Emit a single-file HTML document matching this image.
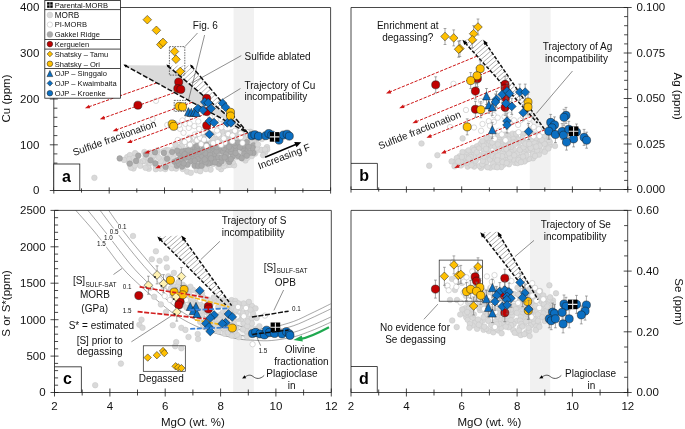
<!DOCTYPE html>
<html><head><meta charset="utf-8"><title>Figure</title>
<style>html,body{margin:0;padding:0;background:#fff}svg{display:block;font-family:"Liberation Sans",sans-serif}</style>
</head><body>
<svg width="685" height="429" viewBox="0 0 685 429">
<defs>
</defs>
<rect width="685" height="429" fill="#fff"/>
<g opacity="0.999">
<rect x="233.6" y="7.5" width="20.4" height="183" fill="#f1f1f1"/>
<path d="M124.6 65.2L167.3 65.4L247.8 132.9Z" fill="#dadada"/>
<clipPath id="hc1"><path d="M167.3 65.4L190.9 65.4L247.8 132.9Z"/></clipPath>
<path d="M113.7 110.5L230.7 1.4M116.2 113.2L233.2 4M118.6 115.8L235.6 6.7M121.1 118.4L238.1 9.3M123.5 121.1L240.6 11.9M126 123.7L243 14.6M128.5 126.3L245.5 17.2M130.9 129L247.9 19.8M133.4 131.6L250.4 22.5M135.8 134.2L252.8 25.1M138.3 136.9L255.3 27.7M140.7 139.5L257.7 30.4M143.2 142.1L260.2 33M145.6 144.8L262.7 35.6M148.1 147.4L265.1 38.3M150.6 150L267.6 40.9M153 152.7L270 43.5M155.5 155.3L272.5 46.2M157.9 157.9L274.9 48.8M160.4 160.6L277.4 51.4M162.8 163.2L279.8 54.1M165.3 165.8L282.3 56.7M167.7 168.5L284.8 59.3M170.2 171.1L287.2 62M172.6 173.7L289.7 64.6M175.1 176.4L292.1 67.2M177.6 179L294.6 69.9M180 181.6L297 72.5M182.5 184.3L299.5 75.1M184.9 186.9L301.9 77.8" stroke="#a2a2a2" stroke-width="0.8" fill="none" clip-path="url(#hc1)"/>
<circle cx="185.7" cy="154.1" r="2.8" fill="#d9d9d9" stroke="#c7c7c7" stroke-width="0.5"/>
<circle cx="258.3" cy="150" r="2.8" fill="#d9d9d9" stroke="#c7c7c7" stroke-width="0.5"/>
<circle cx="194.2" cy="155.3" r="2.8" fill="#d9d9d9" stroke="#c7c7c7" stroke-width="0.5"/>
<circle cx="144.4" cy="152" r="2.8" fill="#d9d9d9" stroke="#c7c7c7" stroke-width="0.5"/>
<circle cx="213" cy="164.1" r="2.8" fill="#d9d9d9" stroke="#c7c7c7" stroke-width="0.5"/>
<circle cx="130" cy="164.8" r="2.8" fill="#d9d9d9" stroke="#c7c7c7" stroke-width="0.5"/>
<circle cx="222.8" cy="131.8" r="2.8" fill="#d9d9d9" stroke="#c7c7c7" stroke-width="0.5"/>
<circle cx="216.7" cy="156.5" r="2.8" fill="#d9d9d9" stroke="#c7c7c7" stroke-width="0.5"/>
<circle cx="183.8" cy="166.2" r="2.8" fill="#d9d9d9" stroke="#c7c7c7" stroke-width="0.5"/>
<circle cx="195.9" cy="157.5" r="2.8" fill="#d9d9d9" stroke="#c7c7c7" stroke-width="0.5"/>
<circle cx="193" cy="158.5" r="2.8" fill="#d9d9d9" stroke="#c7c7c7" stroke-width="0.5"/>
<circle cx="186.4" cy="142" r="2.8" fill="#d9d9d9" stroke="#c7c7c7" stroke-width="0.5"/>
<circle cx="245.4" cy="160.4" r="2.8" fill="#d9d9d9" stroke="#c7c7c7" stroke-width="0.5"/>
<circle cx="234" cy="147.2" r="2.8" fill="#d9d9d9" stroke="#c7c7c7" stroke-width="0.5"/>
<circle cx="246.4" cy="146.6" r="2.8" fill="#d9d9d9" stroke="#c7c7c7" stroke-width="0.5"/>
<circle cx="267" cy="147.1" r="2.8" fill="#d9d9d9" stroke="#c7c7c7" stroke-width="0.5"/>
<circle cx="127.2" cy="157.1" r="2.8" fill="#d9d9d9" stroke="#c7c7c7" stroke-width="0.5"/>
<circle cx="235.9" cy="141.6" r="2.8" fill="#d9d9d9" stroke="#c7c7c7" stroke-width="0.5"/>
<circle cx="238.7" cy="137.6" r="2.8" fill="#d9d9d9" stroke="#c7c7c7" stroke-width="0.5"/>
<circle cx="202.1" cy="149.2" r="2.8" fill="#d9d9d9" stroke="#c7c7c7" stroke-width="0.5"/>
<circle cx="145.4" cy="161.5" r="2.8" fill="#d9d9d9" stroke="#c7c7c7" stroke-width="0.5"/>
<circle cx="136.2" cy="157.7" r="2.8" fill="#d9d9d9" stroke="#c7c7c7" stroke-width="0.5"/>
<circle cx="162.8" cy="168" r="2.8" fill="#d9d9d9" stroke="#c7c7c7" stroke-width="0.5"/>
<circle cx="247.6" cy="157.6" r="2.8" fill="#d9d9d9" stroke="#c7c7c7" stroke-width="0.5"/>
<circle cx="235" cy="144.1" r="2.8" fill="#d9d9d9" stroke="#c7c7c7" stroke-width="0.5"/>
<circle cx="129.9" cy="155.1" r="2.8" fill="#d9d9d9" stroke="#c7c7c7" stroke-width="0.5"/>
<circle cx="153.4" cy="155.9" r="2.8" fill="#d9d9d9" stroke="#c7c7c7" stroke-width="0.5"/>
<circle cx="173.2" cy="149.5" r="2.8" fill="#d9d9d9" stroke="#c7c7c7" stroke-width="0.5"/>
<circle cx="263.7" cy="150.8" r="2.8" fill="#d9d9d9" stroke="#c7c7c7" stroke-width="0.5"/>
<circle cx="204.5" cy="167.3" r="2.8" fill="#d9d9d9" stroke="#c7c7c7" stroke-width="0.5"/>
<circle cx="251.9" cy="156" r="2.8" fill="#d9d9d9" stroke="#c7c7c7" stroke-width="0.5"/>
<circle cx="152.7" cy="160.3" r="2.8" fill="#d9d9d9" stroke="#c7c7c7" stroke-width="0.5"/>
<circle cx="155.6" cy="165.4" r="2.8" fill="#d9d9d9" stroke="#c7c7c7" stroke-width="0.5"/>
<circle cx="207.9" cy="142.6" r="2.8" fill="#d9d9d9" stroke="#c7c7c7" stroke-width="0.5"/>
<circle cx="143" cy="161" r="2.8" fill="#d9d9d9" stroke="#c7c7c7" stroke-width="0.5"/>
<circle cx="202.1" cy="166.7" r="2.8" fill="#d9d9d9" stroke="#c7c7c7" stroke-width="0.5"/>
<circle cx="210.6" cy="142" r="2.8" fill="#d9d9d9" stroke="#c7c7c7" stroke-width="0.5"/>
<circle cx="257.3" cy="138.8" r="2.8" fill="#d9d9d9" stroke="#c7c7c7" stroke-width="0.5"/>
<circle cx="204.1" cy="135.7" r="2.8" fill="#d9d9d9" stroke="#c7c7c7" stroke-width="0.5"/>
<circle cx="171.8" cy="168.3" r="2.8" fill="#d9d9d9" stroke="#c7c7c7" stroke-width="0.5"/>
<circle cx="222.4" cy="155.1" r="2.8" fill="#d9d9d9" stroke="#c7c7c7" stroke-width="0.5"/>
<circle cx="190.3" cy="161.4" r="2.8" fill="#d9d9d9" stroke="#c7c7c7" stroke-width="0.5"/>
<circle cx="229.5" cy="160.3" r="2.8" fill="#d9d9d9" stroke="#c7c7c7" stroke-width="0.5"/>
<circle cx="170.2" cy="159.5" r="2.8" fill="#d9d9d9" stroke="#c7c7c7" stroke-width="0.5"/>
<circle cx="180.2" cy="164" r="2.8" fill="#d9d9d9" stroke="#c7c7c7" stroke-width="0.5"/>
<circle cx="249" cy="154.6" r="2.8" fill="#d9d9d9" stroke="#c7c7c7" stroke-width="0.5"/>
<circle cx="212.2" cy="146.4" r="2.8" fill="#d9d9d9" stroke="#c7c7c7" stroke-width="0.5"/>
<circle cx="205.7" cy="156.2" r="2.8" fill="#d9d9d9" stroke="#c7c7c7" stroke-width="0.5"/>
<circle cx="228.1" cy="146.7" r="2.8" fill="#d9d9d9" stroke="#c7c7c7" stroke-width="0.5"/>
<circle cx="229.2" cy="155" r="2.8" fill="#d9d9d9" stroke="#c7c7c7" stroke-width="0.5"/>
<circle cx="128.9" cy="162.3" r="2.8" fill="#d9d9d9" stroke="#c7c7c7" stroke-width="0.5"/>
<circle cx="190.1" cy="139.9" r="2.8" fill="#d9d9d9" stroke="#c7c7c7" stroke-width="0.5"/>
<circle cx="223.5" cy="151.4" r="2.8" fill="#d9d9d9" stroke="#c7c7c7" stroke-width="0.5"/>
<circle cx="210.6" cy="169.6" r="2.8" fill="#d9d9d9" stroke="#c7c7c7" stroke-width="0.5"/>
<circle cx="162.4" cy="159.2" r="2.8" fill="#d9d9d9" stroke="#c7c7c7" stroke-width="0.5"/>
<circle cx="166.4" cy="158.6" r="2.8" fill="#d9d9d9" stroke="#c7c7c7" stroke-width="0.5"/>
<circle cx="251.6" cy="146.5" r="2.8" fill="#d9d9d9" stroke="#c7c7c7" stroke-width="0.5"/>
<circle cx="205.8" cy="143.6" r="2.8" fill="#d9d9d9" stroke="#c7c7c7" stroke-width="0.5"/>
<circle cx="212.4" cy="151.2" r="2.8" fill="#d9d9d9" stroke="#c7c7c7" stroke-width="0.5"/>
<circle cx="164.6" cy="166.1" r="2.8" fill="#d9d9d9" stroke="#c7c7c7" stroke-width="0.5"/>
<circle cx="267.2" cy="149.5" r="2.8" fill="#d9d9d9" stroke="#c7c7c7" stroke-width="0.5"/>
<circle cx="250.4" cy="131.8" r="2.8" fill="#d9d9d9" stroke="#c7c7c7" stroke-width="0.5"/>
<circle cx="225.1" cy="154.5" r="2.8" fill="#d9d9d9" stroke="#c7c7c7" stroke-width="0.5"/>
<circle cx="163.6" cy="164" r="2.8" fill="#d9d9d9" stroke="#c7c7c7" stroke-width="0.5"/>
<circle cx="243.8" cy="140.2" r="2.8" fill="#d9d9d9" stroke="#c7c7c7" stroke-width="0.5"/>
<circle cx="213" cy="158.2" r="2.8" fill="#d9d9d9" stroke="#c7c7c7" stroke-width="0.5"/>
<circle cx="221.4" cy="138.6" r="2.8" fill="#d9d9d9" stroke="#c7c7c7" stroke-width="0.5"/>
<circle cx="189.2" cy="137.7" r="2.8" fill="#d9d9d9" stroke="#c7c7c7" stroke-width="0.5"/>
<circle cx="226" cy="137.7" r="2.8" fill="#d9d9d9" stroke="#c7c7c7" stroke-width="0.5"/>
<circle cx="210.6" cy="162.5" r="2.8" fill="#d9d9d9" stroke="#c7c7c7" stroke-width="0.5"/>
<circle cx="176.6" cy="164.1" r="2.8" fill="#d9d9d9" stroke="#c7c7c7" stroke-width="0.5"/>
<circle cx="174" cy="154.5" r="2.8" fill="#d9d9d9" stroke="#c7c7c7" stroke-width="0.5"/>
<circle cx="261.4" cy="149.9" r="2.8" fill="#d9d9d9" stroke="#c7c7c7" stroke-width="0.5"/>
<circle cx="216.3" cy="138.8" r="2.8" fill="#d9d9d9" stroke="#c7c7c7" stroke-width="0.5"/>
<circle cx="227.2" cy="165.2" r="2.8" fill="#d9d9d9" stroke="#c7c7c7" stroke-width="0.5"/>
<circle cx="214.8" cy="160.9" r="2.8" fill="#d9d9d9" stroke="#c7c7c7" stroke-width="0.5"/>
<circle cx="148.8" cy="168.7" r="2.8" fill="#d9d9d9" stroke="#c7c7c7" stroke-width="0.5"/>
<circle cx="198.7" cy="164" r="2.8" fill="#d9d9d9" stroke="#c7c7c7" stroke-width="0.5"/>
<circle cx="165.3" cy="169.1" r="2.8" fill="#d9d9d9" stroke="#c7c7c7" stroke-width="0.5"/>
<circle cx="200.7" cy="163" r="2.8" fill="#d9d9d9" stroke="#c7c7c7" stroke-width="0.5"/>
<circle cx="240.6" cy="132.8" r="2.8" fill="#d9d9d9" stroke="#c7c7c7" stroke-width="0.5"/>
<circle cx="167.6" cy="163.9" r="2.8" fill="#d9d9d9" stroke="#c7c7c7" stroke-width="0.5"/>
<circle cx="195.5" cy="161.1" r="2.8" fill="#d9d9d9" stroke="#c7c7c7" stroke-width="0.5"/>
<circle cx="150.1" cy="152.6" r="2.8" fill="#d9d9d9" stroke="#c7c7c7" stroke-width="0.5"/>
<circle cx="160.7" cy="161.3" r="2.8" fill="#d9d9d9" stroke="#c7c7c7" stroke-width="0.5"/>
<circle cx="214.4" cy="152.5" r="2.8" fill="#d9d9d9" stroke="#c7c7c7" stroke-width="0.5"/>
<circle cx="245.9" cy="154.1" r="2.8" fill="#d9d9d9" stroke="#c7c7c7" stroke-width="0.5"/>
<circle cx="148.1" cy="166.6" r="2.8" fill="#d9d9d9" stroke="#c7c7c7" stroke-width="0.5"/>
<circle cx="265.1" cy="152.5" r="2.8" fill="#d9d9d9" stroke="#c7c7c7" stroke-width="0.5"/>
<circle cx="204.2" cy="138.6" r="2.8" fill="#d9d9d9" stroke="#c7c7c7" stroke-width="0.5"/>
<circle cx="198.5" cy="151.6" r="2.8" fill="#d9d9d9" stroke="#c7c7c7" stroke-width="0.5"/>
<circle cx="199" cy="147.8" r="2.8" fill="#d9d9d9" stroke="#c7c7c7" stroke-width="0.5"/>
<circle cx="157.5" cy="150.3" r="2.8" fill="#d9d9d9" stroke="#c7c7c7" stroke-width="0.5"/>
<circle cx="189.4" cy="143.6" r="2.8" fill="#d9d9d9" stroke="#c7c7c7" stroke-width="0.5"/>
<circle cx="145.5" cy="156.6" r="2.8" fill="#d9d9d9" stroke="#c7c7c7" stroke-width="0.5"/>
<circle cx="236" cy="131" r="2.8" fill="#d9d9d9" stroke="#c7c7c7" stroke-width="0.5"/>
<circle cx="221.8" cy="143.8" r="2.8" fill="#d9d9d9" stroke="#c7c7c7" stroke-width="0.5"/>
<circle cx="170.7" cy="156.6" r="2.8" fill="#d9d9d9" stroke="#c7c7c7" stroke-width="0.5"/>
<circle cx="132.2" cy="161.4" r="2.8" fill="#d9d9d9" stroke="#c7c7c7" stroke-width="0.5"/>
<circle cx="197.5" cy="136.9" r="2.8" fill="#d9d9d9" stroke="#c7c7c7" stroke-width="0.5"/>
<circle cx="247.9" cy="140" r="2.8" fill="#d9d9d9" stroke="#c7c7c7" stroke-width="0.5"/>
<circle cx="230.1" cy="164.9" r="2.8" fill="#d9d9d9" stroke="#c7c7c7" stroke-width="0.5"/>
<circle cx="255" cy="143.6" r="2.8" fill="#d9d9d9" stroke="#c7c7c7" stroke-width="0.5"/>
<circle cx="252.7" cy="135.8" r="2.8" fill="#d9d9d9" stroke="#c7c7c7" stroke-width="0.5"/>
<circle cx="244.2" cy="148.1" r="2.8" fill="#d9d9d9" stroke="#c7c7c7" stroke-width="0.5"/>
<circle cx="237.7" cy="135.4" r="2.8" fill="#d9d9d9" stroke="#c7c7c7" stroke-width="0.5"/>
<circle cx="178" cy="159.5" r="2.8" fill="#d9d9d9" stroke="#c7c7c7" stroke-width="0.5"/>
<circle cx="221.1" cy="169.2" r="2.8" fill="#d9d9d9" stroke="#c7c7c7" stroke-width="0.5"/>
<circle cx="193.9" cy="162.6" r="2.8" fill="#d9d9d9" stroke="#c7c7c7" stroke-width="0.5"/>
<circle cx="201" cy="152.1" r="2.8" fill="#d9d9d9" stroke="#c7c7c7" stroke-width="0.5"/>
<circle cx="187.2" cy="162.9" r="2.8" fill="#d9d9d9" stroke="#c7c7c7" stroke-width="0.5"/>
<circle cx="166.3" cy="150.1" r="2.8" fill="#d9d9d9" stroke="#c7c7c7" stroke-width="0.5"/>
<circle cx="195.4" cy="148.5" r="2.8" fill="#d9d9d9" stroke="#c7c7c7" stroke-width="0.5"/>
<circle cx="224" cy="166.3" r="2.8" fill="#d9d9d9" stroke="#c7c7c7" stroke-width="0.5"/>
<circle cx="208.3" cy="151.7" r="2.8" fill="#d9d9d9" stroke="#c7c7c7" stroke-width="0.5"/>
<circle cx="155.8" cy="169.2" r="2.8" fill="#d9d9d9" stroke="#c7c7c7" stroke-width="0.5"/>
<circle cx="241.5" cy="147.4" r="2.8" fill="#d9d9d9" stroke="#c7c7c7" stroke-width="0.5"/>
<circle cx="223" cy="163" r="2.8" fill="#d9d9d9" stroke="#c7c7c7" stroke-width="0.5"/>
<circle cx="227.3" cy="133" r="2.8" fill="#d9d9d9" stroke="#c7c7c7" stroke-width="0.5"/>
<circle cx="168.6" cy="150.2" r="2.8" fill="#d9d9d9" stroke="#c7c7c7" stroke-width="0.5"/>
<circle cx="218.6" cy="144.5" r="2.8" fill="#d9d9d9" stroke="#c7c7c7" stroke-width="0.5"/>
<circle cx="208" cy="162.6" r="2.8" fill="#d9d9d9" stroke="#c7c7c7" stroke-width="0.5"/>
<circle cx="216.9" cy="154.1" r="2.8" fill="#d9d9d9" stroke="#c7c7c7" stroke-width="0.5"/>
<circle cx="140.1" cy="162.4" r="2.8" fill="#d9d9d9" stroke="#c7c7c7" stroke-width="0.5"/>
<circle cx="176.1" cy="168.6" r="2.8" fill="#d9d9d9" stroke="#c7c7c7" stroke-width="0.5"/>
<circle cx="231.2" cy="132.2" r="2.8" fill="#d9d9d9" stroke="#c7c7c7" stroke-width="0.5"/>
<circle cx="182.1" cy="150.5" r="2.8" fill="#d9d9d9" stroke="#c7c7c7" stroke-width="0.5"/>
<circle cx="196.6" cy="170.3" r="2.8" fill="#d9d9d9" stroke="#c7c7c7" stroke-width="0.5"/>
<circle cx="227.3" cy="150.1" r="2.8" fill="#d9d9d9" stroke="#c7c7c7" stroke-width="0.5"/>
<circle cx="209" cy="134.9" r="2.8" fill="#d9d9d9" stroke="#c7c7c7" stroke-width="0.5"/>
<circle cx="184.2" cy="158.7" r="2.8" fill="#d9d9d9" stroke="#c7c7c7" stroke-width="0.5"/>
<circle cx="205.7" cy="148" r="2.8" fill="#d9d9d9" stroke="#c7c7c7" stroke-width="0.5"/>
<circle cx="235.8" cy="152.8" r="2.8" fill="#d9d9d9" stroke="#c7c7c7" stroke-width="0.5"/>
<circle cx="229.1" cy="140.3" r="2.8" fill="#d9d9d9" stroke="#c7c7c7" stroke-width="0.5"/>
<circle cx="133.5" cy="168.4" r="2.8" fill="#d9d9d9" stroke="#c7c7c7" stroke-width="0.5"/>
<circle cx="236.8" cy="156.9" r="2.8" fill="#d9d9d9" stroke="#c7c7c7" stroke-width="0.5"/>
<circle cx="232" cy="138.2" r="2.8" fill="#d9d9d9" stroke="#c7c7c7" stroke-width="0.5"/>
<circle cx="212" cy="134.4" r="2.8" fill="#d9d9d9" stroke="#c7c7c7" stroke-width="0.5"/>
<circle cx="129.3" cy="159.1" r="2.8" fill="#d9d9d9" stroke="#c7c7c7" stroke-width="0.5"/>
<circle cx="200.8" cy="157.1" r="2.8" fill="#d9d9d9" stroke="#c7c7c7" stroke-width="0.5"/>
<circle cx="240.6" cy="156.8" r="2.8" fill="#d9d9d9" stroke="#c7c7c7" stroke-width="0.5"/>
<circle cx="234.4" cy="139.2" r="2.8" fill="#d9d9d9" stroke="#c7c7c7" stroke-width="0.5"/>
<circle cx="181.4" cy="141.1" r="2.8" fill="#d9d9d9" stroke="#c7c7c7" stroke-width="0.5"/>
<circle cx="166.1" cy="153.6" r="2.8" fill="#d9d9d9" stroke="#c7c7c7" stroke-width="0.5"/>
<circle cx="181.9" cy="145.9" r="2.8" fill="#d9d9d9" stroke="#c7c7c7" stroke-width="0.5"/>
<circle cx="130.9" cy="167.6" r="2.8" fill="#d9d9d9" stroke="#c7c7c7" stroke-width="0.5"/>
<circle cx="235.4" cy="133.3" r="2.8" fill="#d9d9d9" stroke="#c7c7c7" stroke-width="0.5"/>
<circle cx="148.8" cy="158.5" r="2.8" fill="#d9d9d9" stroke="#c7c7c7" stroke-width="0.5"/>
<circle cx="239.7" cy="143.1" r="2.8" fill="#d9d9d9" stroke="#c7c7c7" stroke-width="0.5"/>
<circle cx="176.9" cy="146.7" r="2.8" fill="#d9d9d9" stroke="#c7c7c7" stroke-width="0.5"/>
<circle cx="146" cy="154.2" r="2.8" fill="#d9d9d9" stroke="#c7c7c7" stroke-width="0.5"/>
<circle cx="238.8" cy="153.2" r="2.8" fill="#d9d9d9" stroke="#c7c7c7" stroke-width="0.5"/>
<circle cx="251.7" cy="142.1" r="2.8" fill="#d9d9d9" stroke="#c7c7c7" stroke-width="0.5"/>
<circle cx="199.8" cy="154.4" r="2.8" fill="#d9d9d9" stroke="#c7c7c7" stroke-width="0.5"/>
<circle cx="149.9" cy="162.9" r="2.8" fill="#d9d9d9" stroke="#c7c7c7" stroke-width="0.5"/>
<circle cx="192" cy="153.1" r="2.8" fill="#d9d9d9" stroke="#c7c7c7" stroke-width="0.5"/>
<circle cx="227" cy="160.5" r="2.8" fill="#d9d9d9" stroke="#c7c7c7" stroke-width="0.5"/>
<circle cx="256.9" cy="147.7" r="2.8" fill="#d9d9d9" stroke="#c7c7c7" stroke-width="0.5"/>
<circle cx="243.2" cy="158.7" r="2.8" fill="#d9d9d9" stroke="#c7c7c7" stroke-width="0.5"/>
<circle cx="133.7" cy="157.9" r="2.8" fill="#d9d9d9" stroke="#c7c7c7" stroke-width="0.5"/>
<circle cx="205.9" cy="169.1" r="2.8" fill="#d9d9d9" stroke="#c7c7c7" stroke-width="0.5"/>
<circle cx="207.6" cy="139.6" r="2.8" fill="#d9d9d9" stroke="#c7c7c7" stroke-width="0.5"/>
<circle cx="241.8" cy="150.6" r="2.8" fill="#d9d9d9" stroke="#c7c7c7" stroke-width="0.5"/>
<circle cx="200.3" cy="171.2" r="2.8" fill="#d9d9d9" stroke="#c7c7c7" stroke-width="0.5"/>
<circle cx="239.4" cy="146.6" r="2.8" fill="#d9d9d9" stroke="#c7c7c7" stroke-width="0.5"/>
<circle cx="173.2" cy="164.3" r="2.8" fill="#d9d9d9" stroke="#c7c7c7" stroke-width="0.5"/>
<circle cx="249.9" cy="152.2" r="2.8" fill="#d9d9d9" stroke="#c7c7c7" stroke-width="0.5"/>
<circle cx="157" cy="153" r="2.8" fill="#d9d9d9" stroke="#c7c7c7" stroke-width="0.5"/>
<circle cx="189.9" cy="150.2" r="2.8" fill="#d9d9d9" stroke="#c7c7c7" stroke-width="0.5"/>
<circle cx="263.1" cy="155.2" r="2.8" fill="#d9d9d9" stroke="#c7c7c7" stroke-width="0.5"/>
<circle cx="248" cy="143.1" r="2.8" fill="#d9d9d9" stroke="#c7c7c7" stroke-width="0.5"/>
<circle cx="237.6" cy="147.9" r="2.8" fill="#d9d9d9" stroke="#c7c7c7" stroke-width="0.5"/>
<circle cx="140.3" cy="165.8" r="2.8" fill="#d9d9d9" stroke="#c7c7c7" stroke-width="0.5"/>
<circle cx="188" cy="160.8" r="2.8" fill="#d9d9d9" stroke="#c7c7c7" stroke-width="0.5"/>
<circle cx="187.1" cy="171.6" r="2.8" fill="#d9d9d9" stroke="#c7c7c7" stroke-width="0.5"/>
<circle cx="225.3" cy="140.2" r="2.8" fill="#d9d9d9" stroke="#c7c7c7" stroke-width="0.5"/>
<circle cx="228.6" cy="144.2" r="2.8" fill="#d9d9d9" stroke="#c7c7c7" stroke-width="0.5"/>
<circle cx="243.3" cy="134" r="2.8" fill="#d9d9d9" stroke="#c7c7c7" stroke-width="0.5"/>
<circle cx="220.4" cy="160.5" r="2.8" fill="#d9d9d9" stroke="#c7c7c7" stroke-width="0.5"/>
<circle cx="234.1" cy="165.3" r="2.8" fill="#d9d9d9" stroke="#c7c7c7" stroke-width="0.5"/>
<circle cx="175.4" cy="144.3" r="2.8" fill="#d9d9d9" stroke="#c7c7c7" stroke-width="0.5"/>
<circle cx="243.1" cy="156.3" r="2.8" fill="#d9d9d9" stroke="#c7c7c7" stroke-width="0.5"/>
<circle cx="255.1" cy="153.6" r="2.8" fill="#d9d9d9" stroke="#c7c7c7" stroke-width="0.5"/>
<circle cx="137.8" cy="160.7" r="2.8" fill="#d9d9d9" stroke="#c7c7c7" stroke-width="0.5"/>
<circle cx="212.6" cy="138.5" r="2.8" fill="#d9d9d9" stroke="#c7c7c7" stroke-width="0.5"/>
<circle cx="204.8" cy="160" r="2.8" fill="#d9d9d9" stroke="#c7c7c7" stroke-width="0.5"/>
<circle cx="202.3" cy="141.4" r="2.8" fill="#d9d9d9" stroke="#c7c7c7" stroke-width="0.5"/>
<circle cx="134.9" cy="165.5" r="2.8" fill="#d9d9d9" stroke="#c7c7c7" stroke-width="0.5"/>
<circle cx="160.4" cy="168.6" r="2.8" fill="#d9d9d9" stroke="#c7c7c7" stroke-width="0.5"/>
<circle cx="243.9" cy="138" r="2.8" fill="#d9d9d9" stroke="#c7c7c7" stroke-width="0.5"/>
<circle cx="239.8" cy="130.7" r="2.8" fill="#d9d9d9" stroke="#c7c7c7" stroke-width="0.5"/>
<circle cx="196" cy="141.3" r="2.8" fill="#d9d9d9" stroke="#c7c7c7" stroke-width="0.5"/>
<circle cx="203.5" cy="144.3" r="2.8" fill="#d9d9d9" stroke="#c7c7c7" stroke-width="0.5"/>
<circle cx="219.3" cy="136.2" r="2.8" fill="#d9d9d9" stroke="#c7c7c7" stroke-width="0.5"/>
<circle cx="188.4" cy="147.7" r="2.8" fill="#d9d9d9" stroke="#c7c7c7" stroke-width="0.5"/>
<circle cx="232.7" cy="162.3" r="2.8" fill="#d9d9d9" stroke="#c7c7c7" stroke-width="0.5"/>
<circle cx="190.8" cy="172.8" r="2.8" fill="#d9d9d9" stroke="#c7c7c7" stroke-width="0.5"/>
<circle cx="179" cy="148.7" r="2.8" fill="#d9d9d9" stroke="#c7c7c7" stroke-width="0.5"/>
<circle cx="182.6" cy="168.9" r="2.8" fill="#d9d9d9" stroke="#c7c7c7" stroke-width="0.5"/>
<circle cx="231.8" cy="143.1" r="2.8" fill="#d9d9d9" stroke="#c7c7c7" stroke-width="0.5"/>
<circle cx="193.4" cy="147.1" r="2.8" fill="#d9d9d9" stroke="#c7c7c7" stroke-width="0.5"/>
<circle cx="124" cy="159.9" r="2.8" fill="#d9d9d9" stroke="#c7c7c7" stroke-width="0.5"/>
<circle cx="218.5" cy="167.3" r="2.8" fill="#d9d9d9" stroke="#c7c7c7" stroke-width="0.5"/>
<circle cx="135.1" cy="153.1" r="2.8" fill="#d9d9d9" stroke="#c7c7c7" stroke-width="0.5"/>
<circle cx="163.4" cy="151.4" r="2.8" fill="#d9d9d9" stroke="#c7c7c7" stroke-width="0.5"/>
<circle cx="254.1" cy="138.4" r="2.8" fill="#d9d9d9" stroke="#c7c7c7" stroke-width="0.5"/>
<circle cx="145.5" cy="167.8" r="2.8" fill="#d9d9d9" stroke="#c7c7c7" stroke-width="0.5"/>
<circle cx="218.3" cy="164" r="2.8" fill="#d9d9d9" stroke="#c7c7c7" stroke-width="0.5"/>
<circle cx="173.4" cy="158.5" r="2.8" fill="#d9d9d9" stroke="#c7c7c7" stroke-width="0.5"/>
<circle cx="158.6" cy="157.5" r="2.8" fill="#d9d9d9" stroke="#c7c7c7" stroke-width="0.5"/>
<circle cx="155.4" cy="163.4" r="2.8" fill="#a9a9a9" stroke="#999" stroke-width="0.5"/>
<circle cx="165.7" cy="167" r="2.8" fill="#a9a9a9" stroke="#999" stroke-width="0.5"/>
<circle cx="119.7" cy="158.4" r="2.8" fill="#a9a9a9" stroke="#999" stroke-width="0.5"/>
<circle cx="174.6" cy="161.7" r="2.8" fill="#a9a9a9" stroke="#999" stroke-width="0.5"/>
<circle cx="172.1" cy="152" r="2.8" fill="#a9a9a9" stroke="#999" stroke-width="0.5"/>
<circle cx="146.1" cy="154.4" r="2.8" fill="#a9a9a9" stroke="#999" stroke-width="0.5"/>
<circle cx="150.6" cy="160.3" r="2.8" fill="#a9a9a9" stroke="#999" stroke-width="0.5"/>
<circle cx="163.9" cy="152.9" r="2.8" fill="#a9a9a9" stroke="#999" stroke-width="0.5"/>
<circle cx="155" cy="152.3" r="2.8" fill="#a9a9a9" stroke="#999" stroke-width="0.5"/>
<circle cx="176.9" cy="165.7" r="2.8" fill="#a9a9a9" stroke="#999" stroke-width="0.5"/>
<circle cx="136.1" cy="160.9" r="2.8" fill="#a9a9a9" stroke="#999" stroke-width="0.5"/>
<circle cx="138.3" cy="155.6" r="2.8" fill="#a9a9a9" stroke="#999" stroke-width="0.5"/>
<circle cx="167.1" cy="158.7" r="2.8" fill="#a9a9a9" stroke="#999" stroke-width="0.5"/>
<circle cx="129.8" cy="163.6" r="2.8" fill="#a9a9a9" stroke="#999" stroke-width="0.5"/>
<circle cx="202.9" cy="145.3" r="2.8" fill="#a9a9a9" stroke="#9a9a9a" stroke-width="0.5"/>
<circle cx="229.1" cy="143.3" r="2.8" fill="#a9a9a9" stroke="#9a9a9a" stroke-width="0.5"/>
<circle cx="219.9" cy="150.8" r="2.8" fill="#a9a9a9" stroke="#9a9a9a" stroke-width="0.5"/>
<circle cx="181.6" cy="154.4" r="2.8" fill="#a9a9a9" stroke="#9a9a9a" stroke-width="0.5"/>
<circle cx="211" cy="162.6" r="2.8" fill="#a9a9a9" stroke="#9a9a9a" stroke-width="0.5"/>
<circle cx="223.2" cy="151.6" r="2.8" fill="#a9a9a9" stroke="#9a9a9a" stroke-width="0.5"/>
<circle cx="245.7" cy="148.9" r="2.8" fill="#a9a9a9" stroke="#9a9a9a" stroke-width="0.5"/>
<circle cx="201.7" cy="162.3" r="2.8" fill="#a9a9a9" stroke="#9a9a9a" stroke-width="0.5"/>
<circle cx="191.5" cy="156.3" r="2.8" fill="#a9a9a9" stroke="#9a9a9a" stroke-width="0.5"/>
<circle cx="228.1" cy="151" r="2.8" fill="#a9a9a9" stroke="#9a9a9a" stroke-width="0.5"/>
<circle cx="231.4" cy="152.4" r="2.8" fill="#a9a9a9" stroke="#9a9a9a" stroke-width="0.5"/>
<circle cx="202.1" cy="156.4" r="2.8" fill="#a9a9a9" stroke="#9a9a9a" stroke-width="0.5"/>
<circle cx="213.3" cy="149.1" r="2.8" fill="#a9a9a9" stroke="#9a9a9a" stroke-width="0.5"/>
<circle cx="196.5" cy="156.1" r="2.8" fill="#a9a9a9" stroke="#9a9a9a" stroke-width="0.5"/>
<circle cx="219" cy="163.8" r="2.8" fill="#a9a9a9" stroke="#9a9a9a" stroke-width="0.5"/>
<circle cx="235.4" cy="148.8" r="2.8" fill="#a9a9a9" stroke="#9a9a9a" stroke-width="0.5"/>
<circle cx="189.2" cy="154" r="2.8" fill="#a9a9a9" stroke="#9a9a9a" stroke-width="0.5"/>
<circle cx="180.1" cy="158.5" r="2.8" fill="#a9a9a9" stroke="#9a9a9a" stroke-width="0.5"/>
<circle cx="238.2" cy="156.1" r="2.8" fill="#a9a9a9" stroke="#9a9a9a" stroke-width="0.5"/>
<circle cx="232.6" cy="156.7" r="2.8" fill="#a9a9a9" stroke="#9a9a9a" stroke-width="0.5"/>
<circle cx="214.9" cy="158.4" r="2.8" fill="#a9a9a9" stroke="#9a9a9a" stroke-width="0.5"/>
<circle cx="242.8" cy="148.8" r="2.8" fill="#a9a9a9" stroke="#9a9a9a" stroke-width="0.5"/>
<circle cx="207.9" cy="158.6" r="2.8" fill="#a9a9a9" stroke="#9a9a9a" stroke-width="0.5"/>
<circle cx="178.8" cy="153.3" r="2.8" fill="#a9a9a9" stroke="#9a9a9a" stroke-width="0.5"/>
<circle cx="181.7" cy="161.1" r="2.8" fill="#a9a9a9" stroke="#9a9a9a" stroke-width="0.5"/>
<circle cx="208.3" cy="163.7" r="2.8" fill="#a9a9a9" stroke="#9a9a9a" stroke-width="0.5"/>
<circle cx="199.3" cy="152.1" r="2.8" fill="#a9a9a9" stroke="#9a9a9a" stroke-width="0.5"/>
<circle cx="253.6" cy="145.3" r="2.8" fill="#a9a9a9" stroke="#9a9a9a" stroke-width="0.5"/>
<circle cx="191.1" cy="147.4" r="2.8" fill="#a9a9a9" stroke="#9a9a9a" stroke-width="0.5"/>
<circle cx="224.1" cy="148.2" r="2.8" fill="#a9a9a9" stroke="#9a9a9a" stroke-width="0.5"/>
<circle cx="206.5" cy="155.9" r="2.8" fill="#a9a9a9" stroke="#9a9a9a" stroke-width="0.5"/>
<circle cx="218.2" cy="157.2" r="2.8" fill="#a9a9a9" stroke="#9a9a9a" stroke-width="0.5"/>
<circle cx="208.4" cy="151.7" r="2.8" fill="#a9a9a9" stroke="#9a9a9a" stroke-width="0.5"/>
<circle cx="185.3" cy="157.7" r="2.8" fill="#a9a9a9" stroke="#9a9a9a" stroke-width="0.5"/>
<circle cx="185.1" cy="150.8" r="2.8" fill="#a9a9a9" stroke="#9a9a9a" stroke-width="0.5"/>
<circle cx="179" cy="163.8" r="2.8" fill="#a9a9a9" stroke="#9a9a9a" stroke-width="0.5"/>
<circle cx="226.1" cy="145.3" r="2.8" fill="#a9a9a9" stroke="#9a9a9a" stroke-width="0.5"/>
<circle cx="206.1" cy="144.6" r="2.8" fill="#a9a9a9" stroke="#9a9a9a" stroke-width="0.5"/>
<circle cx="214.3" cy="153.8" r="2.8" fill="#a9a9a9" stroke="#9a9a9a" stroke-width="0.5"/>
<circle cx="204.4" cy="148.3" r="2.8" fill="#a9a9a9" stroke="#9a9a9a" stroke-width="0.5"/>
<circle cx="243.3" cy="145.6" r="2.8" fill="#a9a9a9" stroke="#9a9a9a" stroke-width="0.5"/>
<circle cx="219.3" cy="145.2" r="2.8" fill="#a9a9a9" stroke="#9a9a9a" stroke-width="0.5"/>
<circle cx="190.4" cy="161.2" r="2.8" fill="#a9a9a9" stroke="#9a9a9a" stroke-width="0.5"/>
<circle cx="197.7" cy="159.2" r="2.8" fill="#a9a9a9" stroke="#9a9a9a" stroke-width="0.5"/>
<circle cx="253.5" cy="152.9" r="2.8" fill="#a9a9a9" stroke="#9a9a9a" stroke-width="0.5"/>
<circle cx="194.6" cy="147.3" r="2.8" fill="#a9a9a9" stroke="#9a9a9a" stroke-width="0.5"/>
<circle cx="244.2" cy="153.7" r="2.8" fill="#a9a9a9" stroke="#9a9a9a" stroke-width="0.5"/>
<circle cx="229.2" cy="161.9" r="2.8" fill="#a9a9a9" stroke="#9a9a9a" stroke-width="0.5"/>
<circle cx="235" cy="145.8" r="2.8" fill="#a9a9a9" stroke="#9a9a9a" stroke-width="0.5"/>
<circle cx="197.1" cy="149" r="2.8" fill="#a9a9a9" stroke="#9a9a9a" stroke-width="0.5"/>
<circle cx="187.5" cy="164.7" r="2.8" fill="#a9a9a9" stroke="#9a9a9a" stroke-width="0.5"/>
<circle cx="205.3" cy="153.2" r="2.8" fill="#a9a9a9" stroke="#9a9a9a" stroke-width="0.5"/>
<circle cx="212.2" cy="146.2" r="2.8" fill="#a9a9a9" stroke="#9a9a9a" stroke-width="0.5"/>
<circle cx="221.4" cy="161.5" r="2.8" fill="#a9a9a9" stroke="#9a9a9a" stroke-width="0.5"/>
<circle cx="250" cy="152.8" r="2.8" fill="#a9a9a9" stroke="#9a9a9a" stroke-width="0.5"/>
<circle cx="226" cy="154.4" r="2.8" fill="#a9a9a9" stroke="#9a9a9a" stroke-width="0.5"/>
<circle cx="252.4" cy="148.1" r="2.8" fill="#a9a9a9" stroke="#9a9a9a" stroke-width="0.5"/>
<circle cx="194.6" cy="165.8" r="2.8" fill="#a9a9a9" stroke="#9a9a9a" stroke-width="0.5"/>
<circle cx="182.1" cy="166.6" r="2.8" fill="#a9a9a9" stroke="#9a9a9a" stroke-width="0.5"/>
<circle cx="183.7" cy="163.3" r="2.8" fill="#a9a9a9" stroke="#9a9a9a" stroke-width="0.5"/>
<circle cx="192.2" cy="153.6" r="2.8" fill="#a9a9a9" stroke="#9a9a9a" stroke-width="0.5"/>
<circle cx="197.4" cy="145.7" r="2.8" fill="#a9a9a9" stroke="#9a9a9a" stroke-width="0.5"/>
<circle cx="198.1" cy="166" r="2.8" fill="#a9a9a9" stroke="#9a9a9a" stroke-width="0.5"/>
<circle cx="201.8" cy="150.6" r="2.8" fill="#a9a9a9" stroke="#9a9a9a" stroke-width="0.5"/>
<circle cx="221.7" cy="157.5" r="2.8" fill="#a9a9a9" stroke="#9a9a9a" stroke-width="0.5"/>
<circle cx="227.1" cy="158.9" r="2.8" fill="#a9a9a9" stroke="#9a9a9a" stroke-width="0.5"/>
<circle cx="216.5" cy="151.3" r="2.8" fill="#a9a9a9" stroke="#9a9a9a" stroke-width="0.5"/>
<circle cx="230.8" cy="159.2" r="2.8" fill="#a9a9a9" stroke="#9a9a9a" stroke-width="0.5"/>
<circle cx="231.1" cy="148.9" r="2.8" fill="#a9a9a9" stroke="#9a9a9a" stroke-width="0.5"/>
<circle cx="248.5" cy="146.6" r="2.8" fill="#a9a9a9" stroke="#9a9a9a" stroke-width="0.5"/>
<circle cx="188.3" cy="150.3" r="2.8" fill="#a9a9a9" stroke="#9a9a9a" stroke-width="0.5"/>
<circle cx="177.1" cy="160.6" r="2.8" fill="#a9a9a9" stroke="#9a9a9a" stroke-width="0.5"/>
<circle cx="234.6" cy="142.8" r="2.8" fill="#a9a9a9" stroke="#9a9a9a" stroke-width="0.5"/>
<circle cx="235.6" cy="153" r="2.8" fill="#a9a9a9" stroke="#9a9a9a" stroke-width="0.5"/>
<circle cx="216.8" cy="147.1" r="2.8" fill="#a9a9a9" stroke="#9a9a9a" stroke-width="0.5"/>
<circle cx="210.1" cy="154.9" r="2.8" fill="#a9a9a9" stroke="#9a9a9a" stroke-width="0.5"/>
<circle cx="246.8" cy="142.1" r="2.8" fill="#a9a9a9" stroke="#9a9a9a" stroke-width="0.5"/>
<circle cx="208" cy="147.2" r="2.8" fill="#a9a9a9" stroke="#9a9a9a" stroke-width="0.5"/>
<circle cx="194.7" cy="160.9" r="2.8" fill="#a9a9a9" stroke="#9a9a9a" stroke-width="0.5"/>
<circle cx="194.9" cy="152.1" r="2.8" fill="#a9a9a9" stroke="#9a9a9a" stroke-width="0.5"/>
<circle cx="181.8" cy="151.5" r="2.8" fill="#a9a9a9" stroke="#9a9a9a" stroke-width="0.5"/>
<circle cx="205.5" cy="162.5" r="2.8" fill="#a9a9a9" stroke="#9a9a9a" stroke-width="0.5"/>
<circle cx="238.3" cy="142.5" r="2.8" fill="#a9a9a9" stroke="#9a9a9a" stroke-width="0.5"/>
<circle cx="184.7" cy="154.2" r="2.8" fill="#a9a9a9" stroke="#9a9a9a" stroke-width="0.5"/>
<circle cx="241.7" cy="158.2" r="2.8" fill="#a9a9a9" stroke="#9a9a9a" stroke-width="0.5"/>
<circle cx="215" cy="162.4" r="2.8" fill="#a9a9a9" stroke="#9a9a9a" stroke-width="0.5"/>
<circle cx="224.7" cy="157.3" r="2.8" fill="#a9a9a9" stroke="#9a9a9a" stroke-width="0.5"/>
<circle cx="229.1" cy="146.7" r="2.8" fill="#a9a9a9" stroke="#9a9a9a" stroke-width="0.5"/>
<circle cx="201.6" cy="165.8" r="2.8" fill="#a9a9a9" stroke="#9a9a9a" stroke-width="0.5"/>
<circle cx="239.9" cy="147.2" r="2.8" fill="#a9a9a9" stroke="#9a9a9a" stroke-width="0.5"/>
<circle cx="211.1" cy="158.3" r="2.8" fill="#a9a9a9" stroke="#9a9a9a" stroke-width="0.5"/>
<circle cx="246.8" cy="155.7" r="2.8" fill="#a9a9a9" stroke="#9a9a9a" stroke-width="0.5"/>
<circle cx="177.2" cy="150.6" r="2.8" fill="#a9a9a9" stroke="#9a9a9a" stroke-width="0.5"/>
<circle cx="204.7" cy="159.5" r="2.8" fill="#a9a9a9" stroke="#9a9a9a" stroke-width="0.5"/>
<circle cx="188.3" cy="156.9" r="2.8" fill="#a9a9a9" stroke="#9a9a9a" stroke-width="0.5"/>
<circle cx="183.5" cy="132.8" r="2.7" fill="#fff" stroke="#b4b4b4" stroke-width="0.5"/>
<circle cx="194.8" cy="134.5" r="2.7" fill="#fff" stroke="#b4b4b4" stroke-width="0.5"/>
<circle cx="216.8" cy="118.9" r="2.7" fill="#fff" stroke="#b4b4b4" stroke-width="0.5"/>
<circle cx="185.3" cy="123.8" r="2.7" fill="#fff" stroke="#b4b4b4" stroke-width="0.5"/>
<circle cx="234.9" cy="130.8" r="2.7" fill="#fff" stroke="#b4b4b4" stroke-width="0.5"/>
<circle cx="217.6" cy="142.2" r="2.7" fill="#fff" stroke="#b4b4b4" stroke-width="0.5"/>
<circle cx="208" cy="138.5" r="2.7" fill="#fff" stroke="#b4b4b4" stroke-width="0.5"/>
<circle cx="220.7" cy="118.9" r="2.7" fill="#fff" stroke="#b4b4b4" stroke-width="0.5"/>
<circle cx="228.2" cy="134.1" r="2.7" fill="#fff" stroke="#b4b4b4" stroke-width="0.5"/>
<circle cx="224.8" cy="142.5" r="2.7" fill="#fff" stroke="#b4b4b4" stroke-width="0.5"/>
<circle cx="197" cy="140.2" r="2.7" fill="#fff" stroke="#b4b4b4" stroke-width="0.5"/>
<circle cx="201.2" cy="144.1" r="2.7" fill="#fff" stroke="#b4b4b4" stroke-width="0.5"/>
<circle cx="174.7" cy="123.3" r="2.7" fill="#fff" stroke="#b4b4b4" stroke-width="0.5"/>
<circle cx="216.9" cy="125.7" r="2.7" fill="#fff" stroke="#b4b4b4" stroke-width="0.5"/>
<circle cx="206.6" cy="128.2" r="2.7" fill="#fff" stroke="#b4b4b4" stroke-width="0.5"/>
<circle cx="213.2" cy="143.2" r="2.7" fill="#fff" stroke="#b4b4b4" stroke-width="0.5"/>
<circle cx="240.8" cy="133.5" r="2.7" fill="#fff" stroke="#b4b4b4" stroke-width="0.5"/>
<circle cx="224.4" cy="123.1" r="2.7" fill="#fff" stroke="#b4b4b4" stroke-width="0.5"/>
<circle cx="187.5" cy="118.8" r="2.7" fill="#fff" stroke="#b4b4b4" stroke-width="0.5"/>
<circle cx="198.3" cy="121.4" r="2.7" fill="#fff" stroke="#b4b4b4" stroke-width="0.5"/>
<circle cx="188.3" cy="139.3" r="2.7" fill="#fff" stroke="#b4b4b4" stroke-width="0.5"/>
<circle cx="206.5" cy="146" r="2.7" fill="#fff" stroke="#b4b4b4" stroke-width="0.5"/>
<circle cx="180" cy="128.8" r="2.7" fill="#fff" stroke="#b4b4b4" stroke-width="0.5"/>
<circle cx="190" cy="144.8" r="2.7" fill="#fff" stroke="#b4b4b4" stroke-width="0.5"/>
<circle cx="240.1" cy="128" r="2.7" fill="#fff" stroke="#b4b4b4" stroke-width="0.5"/>
<circle cx="202.6" cy="132.1" r="2.7" fill="#fff" stroke="#b4b4b4" stroke-width="0.5"/>
<circle cx="218.4" cy="134.3" r="2.7" fill="#fff" stroke="#b4b4b4" stroke-width="0.5"/>
<circle cx="211.1" cy="135" r="2.7" fill="#fff" stroke="#b4b4b4" stroke-width="0.5"/>
<circle cx="200.1" cy="137.9" r="2.7" fill="#fff" stroke="#b4b4b4" stroke-width="0.5"/>
<circle cx="247.1" cy="132.1" r="2.7" fill="#fff" stroke="#b4b4b4" stroke-width="0.5"/>
<circle cx="210.2" cy="117.3" r="2.7" fill="#fff" stroke="#b4b4b4" stroke-width="0.5"/>
<circle cx="198.7" cy="133.8" r="2.7" fill="#fff" stroke="#b4b4b4" stroke-width="0.5"/>
<circle cx="217" cy="130.5" r="2.7" fill="#fff" stroke="#b4b4b4" stroke-width="0.5"/>
<circle cx="221.4" cy="127.2" r="2.7" fill="#fff" stroke="#b4b4b4" stroke-width="0.5"/>
<circle cx="223.8" cy="138.4" r="2.7" fill="#fff" stroke="#b4b4b4" stroke-width="0.5"/>
<circle cx="221.1" cy="144.9" r="2.7" fill="#fff" stroke="#b4b4b4" stroke-width="0.5"/>
<circle cx="194.3" cy="126.1" r="2.7" fill="#fff" stroke="#b4b4b4" stroke-width="0.5"/>
<circle cx="188.8" cy="127.9" r="2.7" fill="#fff" stroke="#b4b4b4" stroke-width="0.5"/>
<circle cx="189.7" cy="123.5" r="2.7" fill="#fff" stroke="#b4b4b4" stroke-width="0.5"/>
<circle cx="232.1" cy="123.9" r="2.7" fill="#fff" stroke="#b4b4b4" stroke-width="0.5"/>
<circle cx="182.4" cy="120.5" r="2.7" fill="#fff" stroke="#b4b4b4" stroke-width="0.5"/>
<circle cx="208.5" cy="122.5" r="2.7" fill="#fff" stroke="#b4b4b4" stroke-width="0.5"/>
<circle cx="232.4" cy="141.3" r="2.7" fill="#fff" stroke="#b4b4b4" stroke-width="0.5"/>
<circle cx="178.8" cy="125.1" r="2.7" fill="#fff" stroke="#b4b4b4" stroke-width="0.5"/>
<circle cx="232.4" cy="135.6" r="2.7" fill="#fff" stroke="#b4b4b4" stroke-width="0.5"/>
<circle cx="199.1" cy="128.9" r="2.7" fill="#fff" stroke="#b4b4b4" stroke-width="0.5"/>
<circle cx="240.7" cy="137.1" r="2.7" fill="#fff" stroke="#b4b4b4" stroke-width="0.5"/>
<circle cx="242.5" cy="143" r="2.7" fill="#fff" stroke="#b4b4b4" stroke-width="0.5"/>
<circle cx="184.7" cy="142" r="2.7" fill="#fff" stroke="#b4b4b4" stroke-width="0.5"/>
<circle cx="204" cy="139.7" r="2.7" fill="#fff" stroke="#b4b4b4" stroke-width="0.5"/>
<circle cx="177.7" cy="140" r="2.7" fill="#fff" stroke="#b4b4b4" stroke-width="0.5"/>
<circle cx="167.3" cy="124.9" r="2.7" fill="#fff" stroke="#b4b4b4" stroke-width="0.5"/>
<circle cx="156" cy="100.8" r="2.7" fill="#fff" stroke="#b4b4b4" stroke-width="0.5"/>
<circle cx="152.5" cy="119" r="2.7" fill="#fff" stroke="#b4b4b4" stroke-width="0.5"/>
<circle cx="94.4" cy="177.8" r="2.8" fill="#d9d9d9" stroke="#c7c7c7" stroke-width="0.5"/>
<circle cx="258" cy="144.5" r="2.8" fill="#d9d9d9" stroke="#c7c7c7" stroke-width="0.5"/>
<circle cx="265" cy="149.5" r="2.8" fill="#d9d9d9" stroke="#c7c7c7" stroke-width="0.5"/>
<circle cx="262" cy="139" r="2.8" fill="#d9d9d9" stroke="#c7c7c7" stroke-width="0.5"/>
<line x1="156.8" y1="82.9" x2="87.7" y2="107.2" stroke="#cc1515" stroke-width="1.0" stroke-dasharray="3.2 1.4"/>
<path d="M84.9 108.2L89 104.7L90.2 108.3Z" fill="#cf1616"/>
<line x1="174.4" y1="92.6" x2="102.6" y2="118.3" stroke="#cc1515" stroke-width="1.0" stroke-dasharray="3.2 1.4"/>
<path d="M99.8 119.3L103.9 115.8L105.1 119.4Z" fill="#cf1616"/>
<line x1="192.1" y1="102.3" x2="115.4" y2="130.2" stroke="#cc1515" stroke-width="1.0" stroke-dasharray="3.2 1.4"/>
<path d="M112.6 131.2L116.6 127.7L117.9 131.3Z" fill="#cf1616"/>
<line x1="210.3" y1="112.3" x2="129.7" y2="142.1" stroke="#cc1515" stroke-width="1.0" stroke-dasharray="3.2 1.4"/>
<path d="M126.9 143.1L130.9 139.6L132.2 143.1Z" fill="#cf1616"/>
<line x1="228" y1="122" x2="147.1" y2="152.3" stroke="#cc1515" stroke-width="1.0" stroke-dasharray="3.2 1.4"/>
<path d="M144.3 153.4L148.3 149.9L149.6 153.4Z" fill="#cf1616"/>
<line x1="247.8" y1="132.9" x2="158" y2="167.1" stroke="#cc1515" stroke-width="1.0" stroke-dasharray="3.2 1.4"/>
<path d="M155.2 168.2L159.2 164.6L160.5 168.2Z" fill="#cf1616"/>
<line x1="124.6" y1="65.2" x2="247.8" y2="132.9" stroke="#111" stroke-width="1.5" stroke-dasharray="5 2"/>
<path d="M123.5 64.6L127.4 65L126 67.7Z" fill="#000"/>
<line x1="167.3" y1="65.4" x2="247.8" y2="132.9" stroke="#111" stroke-width="1.5" stroke-dasharray="5 2"/>
<path d="M166.4 64.6L170.1 65.8L168.2 68.1Z" fill="#000"/>
<line x1="190.9" y1="65.4" x2="247.8" y2="132.9" stroke="#111" stroke-width="1.5" stroke-dasharray="5 2"/>
<path d="M190.1 64.5L193.6 66.3L191.3 68.2Z" fill="#000"/>
<rect x="169.4" y="46.6" width="15.4" height="28.5" fill="none" stroke="#333" stroke-width="0.7" stroke-dasharray="1.6 1"/>
<rect x="174.2" y="100.4" width="11.4" height="11" fill="none" stroke="#333" stroke-width="0.7" stroke-dasharray="1.6 1"/>
<line x1="197.5" y1="33" x2="185" y2="46.5" stroke="#222" stroke-width="0.5"/>
<line x1="204.6" y1="35" x2="188.4" y2="100.7" stroke="#222" stroke-width="0.5"/>
<line x1="241.3" y1="55.6" x2="192" y2="83" stroke="#222" stroke-width="0.5"/>
<line x1="240.5" y1="88.5" x2="222.5" y2="99.5" stroke="#222" stroke-width="0.5"/>
<circle cx="137.9" cy="105.2" r="4.05" fill="#c00000" stroke="#1a1a1a" stroke-width="0.5"/>
<circle cx="178.7" cy="82" r="4.05" fill="#c00000" stroke="#1a1a1a" stroke-width="0.5"/>
<circle cx="177.8" cy="88.6" r="4.05" fill="#c00000" stroke="#1a1a1a" stroke-width="0.5"/>
<circle cx="180.8" cy="89.4" r="4.05" fill="#c00000" stroke="#1a1a1a" stroke-width="0.5"/>
<circle cx="206.7" cy="98.4" r="4.05" fill="#c00000" stroke="#1a1a1a" stroke-width="0.5"/>
<circle cx="206.7" cy="111.6" r="4.05" fill="#c00000" stroke="#1a1a1a" stroke-width="0.5"/>
<circle cx="206.7" cy="125.5" r="4.05" fill="#c00000" stroke="#1a1a1a" stroke-width="0.5"/>
<path d="M147.3 15.4L151.6 19.7L147.3 24L143 19.7Z" fill="#ffc000" stroke="#1a1a1a" stroke-width="0.5"/>
<path d="M156.4 26L160.7 30.3L156.4 34.6L152.1 30.3Z" fill="#ffc000" stroke="#1a1a1a" stroke-width="0.5"/>
<path d="M160.8 40.3L165.1 44.6L160.8 48.9L156.5 44.6Z" fill="#ffc000" stroke="#1a1a1a" stroke-width="0.5"/>
<path d="M163 38.1L167.3 42.4L163 46.7L158.7 42.4Z" fill="#ffc000" stroke="#1a1a1a" stroke-width="0.5"/>
<path d="M174.5 47.2L178.8 51.5L174.5 55.8L170.2 51.5Z" fill="#ffc000" stroke="#1a1a1a" stroke-width="0.5"/>
<path d="M176 55L180.3 59.3L176 63.6L171.7 59.3Z" fill="#ffc000" stroke="#1a1a1a" stroke-width="0.5"/>
<path d="M180.2 67.2L184.5 71.5L180.2 75.8L175.9 71.5Z" fill="#ffc000" stroke="#1a1a1a" stroke-width="0.5"/>
<circle cx="179.1" cy="106.4" r="4.05" fill="#ffc000" stroke="#1a1a1a" stroke-width="0.5"/>
<circle cx="182.5" cy="106.7" r="4.05" fill="#ffc000" stroke="#1a1a1a" stroke-width="0.5"/>
<circle cx="172.2" cy="124" r="4.05" fill="#ffc000" stroke="#1a1a1a" stroke-width="0.5"/>
<circle cx="173.7" cy="126.3" r="4.05" fill="#ffc000" stroke="#1a1a1a" stroke-width="0.5"/>
<circle cx="230.5" cy="112.3" r="4.05" fill="#ffc000" stroke="#1a1a1a" stroke-width="0.5"/>
<circle cx="230.5" cy="116" r="4.05" fill="#ffc000" stroke="#1a1a1a" stroke-width="0.5"/>
<path d="M188.4 107.6L192.3 115.8L184.5 115.8Z" fill="#0b6fc2" stroke="#1a1a1a" stroke-width="0.5"/>
<path d="M191.3 108.3L195.2 116.5L187.4 116.5Z" fill="#0b6fc2" stroke="#1a1a1a" stroke-width="0.5"/>
<path d="M194.2 107.9L198.1 116.1L190.3 116.1Z" fill="#0b6fc2" stroke="#1a1a1a" stroke-width="0.5"/>
<path d="M196.4 108.3L200.3 116.5L192.5 116.5Z" fill="#0b6fc2" stroke="#1a1a1a" stroke-width="0.5"/>
<path d="M222.6 98.8L227 103.2L222.6 107.6L218.2 103.2Z" fill="#0b6fc2" stroke="#1a1a1a" stroke-width="0.5"/>
<path d="M225.5 102.8L229.9 107.2L225.5 111.6L221.1 107.2Z" fill="#0b6fc2" stroke="#1a1a1a" stroke-width="0.5"/>
<path d="M204.8 97.6L209.2 102L204.8 106.4L200.4 102Z" fill="#0b6fc2" stroke="#1a1a1a" stroke-width="0.5"/>
<path d="M208.2 98.4L212.6 102.8L208.2 107.2L203.8 102.8Z" fill="#0b6fc2" stroke="#1a1a1a" stroke-width="0.5"/>
<path d="M211.1 104.2L215.5 108.6L211.1 113L206.7 108.6Z" fill="#0b6fc2" stroke="#1a1a1a" stroke-width="0.5"/>
<path d="M197.9 104.2L202.3 108.6L197.9 113L193.5 108.6Z" fill="#0b6fc2" stroke="#1a1a1a" stroke-width="0.5"/>
<path d="M203 105.7L207.4 110.1L203 114.5L198.6 110.1Z" fill="#0b6fc2" stroke="#1a1a1a" stroke-width="0.5"/>
<path d="M209.4 116.7L213.8 121.1L209.4 125.5L205 121.1Z" fill="#0b6fc2" stroke="#1a1a1a" stroke-width="0.5"/>
<path d="M214 118.2L218.4 122.6L214 127L209.6 122.6Z" fill="#0b6fc2" stroke="#1a1a1a" stroke-width="0.5"/>
<path d="M227.3 118.5L231.7 122.9L227.3 127.3L222.9 122.9Z" fill="#0b6fc2" stroke="#1a1a1a" stroke-width="0.5"/>
<path d="M230.9 118.5L235.3 122.9L230.9 127.3L226.5 122.9Z" fill="#0b6fc2" stroke="#1a1a1a" stroke-width="0.5"/>
<path d="M209.4 129.9L213.8 134.3L209.4 138.7L205 134.3Z" fill="#0b6fc2" stroke="#1a1a1a" stroke-width="0.5"/>
<circle cx="251.9" cy="135.7" r="4.05" fill="#0b6fc2" stroke="#1a1a1a" stroke-width="0.5"/>
<circle cx="254.8" cy="134.7" r="4.05" fill="#0b6fc2" stroke="#1a1a1a" stroke-width="0.5"/>
<circle cx="258.5" cy="136.1" r="4.05" fill="#0b6fc2" stroke="#1a1a1a" stroke-width="0.5"/>
<circle cx="265.8" cy="135.7" r="4.05" fill="#0b6fc2" stroke="#1a1a1a" stroke-width="0.5"/>
<circle cx="268.8" cy="133.5" r="4.05" fill="#0b6fc2" stroke="#1a1a1a" stroke-width="0.5"/>
<circle cx="271.7" cy="135" r="4.05" fill="#0b6fc2" stroke="#1a1a1a" stroke-width="0.5"/>
<circle cx="279" cy="140.1" r="4.05" fill="#0b6fc2" stroke="#1a1a1a" stroke-width="0.5"/>
<circle cx="283.5" cy="135" r="4.05" fill="#0b6fc2" stroke="#1a1a1a" stroke-width="0.5"/>
<circle cx="287.1" cy="134.2" r="4.05" fill="#0b6fc2" stroke="#1a1a1a" stroke-width="0.5"/>
<circle cx="289.3" cy="136.1" r="4.05" fill="#0b6fc2" stroke="#1a1a1a" stroke-width="0.5"/>
<rect x="269.8" y="132.1" width="9.6" height="9.6" fill="#000"/>
<path d="M269.8 136.9H279.4M274.6 132.1V141.7" stroke="#e8e8e8" stroke-width="1.1"/>
<text x="192.8" y="28.5" font-size="10" text-anchor="start" font-weight="normal" fill="#111">Fig. 6</text>
<text x="244.5" y="60" font-size="10" text-anchor="start" font-weight="normal" fill="#111">Sulfide ablated</text>
<text x="244.5" y="88.6" font-size="10" text-anchor="start" font-weight="normal" fill="#111">Trajectory of Cu</text>
<text x="244.5" y="100.4" font-size="10" text-anchor="start" font-weight="normal" fill="#111">incompatibility</text>
<text x="74.3" y="155.9" font-size="10" text-anchor="start" font-weight="normal" fill="#111" transform="rotate(-19.6 74.3 155.9)">Sulfide fractionation</text>
<text x="259.5" y="169.5" font-size="10" text-anchor="start" font-weight="normal" fill="#111" transform="rotate(-21 259.5 169.5)">Increasing F</text>
<line x1="265.1" y1="157.3" x2="297.5" y2="143.8" stroke="#000" stroke-width="1.5"/>
<path d="M301.3 142.2L296.4 147.3L294.2 142.1Z" fill="#000"/>
<text x="39.3" y="194.3" font-size="11.5" text-anchor="end" font-weight="normal" fill="#111">0</text>
<text x="39.3" y="148.6" font-size="11.5" text-anchor="end" font-weight="normal" fill="#111">100</text>
<text x="39.3" y="102.8" font-size="11.5" text-anchor="end" font-weight="normal" fill="#111">200</text>
<text x="39.3" y="57" font-size="11.5" text-anchor="end" font-weight="normal" fill="#111">300</text>
<text x="39.3" y="11.3" font-size="11.5" text-anchor="end" font-weight="normal" fill="#111">400</text>
<path d="M53.8 7.5H330.6V190.5H53.8ZM53.8 187.4V193.6M81.5 188.4V192.6M109.2 187.4V193.6M136.8 188.4V192.6M164.5 187.4V193.6M192.2 188.4V192.6M219.9 187.4V193.6M247.6 188.4V192.6M275.2 187.4V193.6M302.9 188.4V192.6M330.6 187.4V193.6M49.8 190.5H57.8M53.8 181.3H57.4M53.8 172.2H57.4M53.8 163.1H57.4M53.8 153.9H57.4M49.8 144.8H57.8M53.8 135.6H57.4M53.8 126.5H57.4M53.8 117.3H57.4M53.8 108.2H57.4M49.8 99H57.8M53.8 89.8H57.4M53.8 80.7H57.4M53.8 71.5H57.4M53.8 62.4H57.4M49.8 53.2H57.8M53.8 44.1H57.4M53.8 34.9H57.4M53.8 25.8H57.4M53.8 16.7H57.4M49.8 7.5H57.8" fill="none" stroke="#1a1a1a" stroke-width="0.8"/>
<rect x="53.8" y="164" width="26" height="26.5" fill="#fff" stroke="#1a1a1a" stroke-width="0.8"/>
<text x="66.4" y="182.4" font-size="16" text-anchor="middle" font-weight="bold" fill="#000">a</text>
<text x="9.6" y="98.5" font-size="11.5" text-anchor="middle" font-weight="normal" fill="#111" transform="rotate(-90 9.6 98.5)">Cu (ppm)</text>
<rect x="44.8" y="0.4" width="75.6" height="97.8" fill="#fff" stroke="#1a1a1a" stroke-width="0.8"/>
<line x1="44.8" y1="9.6" x2="120.4" y2="9.6" stroke="#1a1a1a" stroke-width="0.8"/>
<line x1="44.8" y1="39.5" x2="120.4" y2="39.5" stroke="#1a1a1a" stroke-width="0.8"/>
<line x1="44.8" y1="49.1" x2="120.4" y2="49.1" stroke="#1a1a1a" stroke-width="0.8"/>
<line x1="44.8" y1="68.5" x2="120.4" y2="68.5" stroke="#1a1a1a" stroke-width="0.8"/>
<text x="54.7" y="7.7" font-size="7.55" text-anchor="start" font-weight="normal" fill="#111">Parental-MORB</text>
<text x="54.7" y="17.7" font-size="8.2" text-anchor="start" font-weight="normal" fill="#111">MORB</text>
<text x="54.7" y="27.3" font-size="7.55" text-anchor="start" font-weight="normal" fill="#111">PI-MORB</text>
<text x="54.7" y="37.1" font-size="7.55" text-anchor="start" font-weight="normal" fill="#111">Gakkel Ridge</text>
<text x="54.7" y="46.8" font-size="7.55" text-anchor="start" font-weight="normal" fill="#111">Kerguelen</text>
<text x="54.7" y="56.7" font-size="7.55" text-anchor="start" font-weight="normal" fill="#111">Shatsky – Tamu</text>
<text x="54.7" y="66.5" font-size="7.55" text-anchor="start" font-weight="normal" fill="#111">Shatsky – Ori</text>
<text x="54.7" y="76.1" font-size="7.55" text-anchor="start" font-weight="normal" fill="#111">OJP – Singgalo</text>
<text x="54.7" y="86" font-size="7.55" text-anchor="start" font-weight="normal" fill="#111">OJP – Kwaimbaita</text>
<text x="54.7" y="95.9" font-size="7.55" text-anchor="start" font-weight="normal" fill="#111">OJP – Kroenke</text>
<rect x="47.1" y="2.2" width="5.6" height="5.6" fill="#000"/>
<path d="M47.1 5H52.7M49.9 2.2V7.8" stroke="#e8e8e8" stroke-width="0.7"/>
<circle cx="49.9" cy="15" r="2.9" fill="#d9d9d9" stroke="#c7c7c7" stroke-width="0.5"/>
<circle cx="49.9" cy="24.6" r="2.7" fill="#fff" stroke="#b4b4b4" stroke-width="0.5"/>
<circle cx="49.9" cy="34.4" r="2.9" fill="#a9a9a9" stroke="#999" stroke-width="0.4"/>
<circle cx="49.9" cy="44.1" r="2.8" fill="#c00000" stroke="#1a1a1a" stroke-width="0.5"/>
<path d="M49.9 51.2L52.7 54L49.9 56.8L47.1 54Z" fill="#ffc000" stroke="#1a1a1a" stroke-width="0.5"/>
<circle cx="49.9" cy="63.8" r="2.8" fill="#ffc000" stroke="#1a1a1a" stroke-width="0.5"/>
<path d="M49.9 70.5L52.8 76.6L47 76.6Z" fill="#0b6fc2" stroke="#1a1a1a" stroke-width="0.5"/>
<path d="M49.9 80.5L52.7 83.3L49.9 86.1L47.1 83.3Z" fill="#0b6fc2" stroke="#1a1a1a" stroke-width="0.5"/>
<circle cx="49.9" cy="93.2" r="2.8" fill="#0b6fc2" stroke="#1a1a1a" stroke-width="0.5"/>
<rect x="529.8" y="7.5" width="20.8" height="182" fill="#f1f1f1"/>
<clipPath id="hc2"><path d="M462.4 39.8L483.2 39.8L544.8 129.8L537.5 123Z"/></clipPath>
<path d="M405.4 88.2L526.1 -16.8M407.7 90.8L528.4 -14.2M410 93.5L530.7 -11.5M412.3 96.1L533 -8.9M414.6 98.7L535.3 -6.2M416.9 101.4L537.6 -3.6M419.2 104L539.9 -0.9M421.5 106.7L542.2 1.7M423.8 109.3L544.5 4.3M426 111.9L546.8 7M428.3 114.6L549.1 9.6M430.6 117.2L551.4 12.3M432.9 119.9L553.7 14.9M435.2 122.5L556 17.5M437.5 125.2L558.3 20.2M439.8 127.8L560.6 22.8M442.1 130.4L562.9 25.5M444.4 133.1L565.2 28.1M446.7 135.7L567.5 30.7M449 138.4L569.8 33.4M451.3 141L572.1 36M453.6 143.6L574.4 38.7M455.9 146.3L576.7 41.3M458.2 148.9L578.9 44M460.5 151.6L581.2 46.6M462.8 154.2L583.5 49.2M465.1 156.9L585.8 51.9M467.4 159.5L588.1 54.5M469.7 162.1L590.4 57.2M472 164.8L592.7 59.8M474.3 167.4L595 62.4M476.6 170.1L597.3 65.1M478.9 172.7L599.6 67.7M481.2 175.3L601.9 70.4M483.5 178L604.2 73M485.8 180.6L606.5 75.7" stroke="#8c8c8c" stroke-width="0.75" fill="none" clip-path="url(#hc2)"/>
<circle cx="465.2" cy="157.1" r="2.8" fill="#d9d9d9" stroke="#c7c7c7" stroke-width="0.5"/>
<circle cx="514" cy="149.8" r="2.8" fill="#d9d9d9" stroke="#c7c7c7" stroke-width="0.5"/>
<circle cx="470.5" cy="160.7" r="2.8" fill="#d9d9d9" stroke="#c7c7c7" stroke-width="0.5"/>
<circle cx="532" cy="150.9" r="2.8" fill="#d9d9d9" stroke="#c7c7c7" stroke-width="0.5"/>
<circle cx="500.5" cy="141.3" r="2.8" fill="#d9d9d9" stroke="#c7c7c7" stroke-width="0.5"/>
<circle cx="508.9" cy="135.4" r="2.8" fill="#d9d9d9" stroke="#c7c7c7" stroke-width="0.5"/>
<circle cx="530.6" cy="141.1" r="2.8" fill="#d9d9d9" stroke="#c7c7c7" stroke-width="0.5"/>
<circle cx="539" cy="154.6" r="2.8" fill="#d9d9d9" stroke="#c7c7c7" stroke-width="0.5"/>
<circle cx="499.7" cy="137.1" r="2.8" fill="#d9d9d9" stroke="#c7c7c7" stroke-width="0.5"/>
<circle cx="547" cy="145.9" r="2.8" fill="#d9d9d9" stroke="#c7c7c7" stroke-width="0.5"/>
<circle cx="464.1" cy="161.6" r="2.8" fill="#d9d9d9" stroke="#c7c7c7" stroke-width="0.5"/>
<circle cx="461" cy="165.5" r="2.8" fill="#d9d9d9" stroke="#c7c7c7" stroke-width="0.5"/>
<circle cx="495.1" cy="152.3" r="2.8" fill="#d9d9d9" stroke="#c7c7c7" stroke-width="0.5"/>
<circle cx="483.7" cy="150" r="2.8" fill="#d9d9d9" stroke="#c7c7c7" stroke-width="0.5"/>
<circle cx="538.1" cy="141.2" r="2.8" fill="#d9d9d9" stroke="#c7c7c7" stroke-width="0.5"/>
<circle cx="526.5" cy="159.7" r="2.8" fill="#d9d9d9" stroke="#c7c7c7" stroke-width="0.5"/>
<circle cx="508.4" cy="158.5" r="2.8" fill="#d9d9d9" stroke="#c7c7c7" stroke-width="0.5"/>
<circle cx="534" cy="140" r="2.8" fill="#d9d9d9" stroke="#c7c7c7" stroke-width="0.5"/>
<circle cx="490.6" cy="145.8" r="2.8" fill="#d9d9d9" stroke="#c7c7c7" stroke-width="0.5"/>
<circle cx="494.9" cy="146.5" r="2.8" fill="#d9d9d9" stroke="#c7c7c7" stroke-width="0.5"/>
<circle cx="499.6" cy="150.2" r="2.8" fill="#d9d9d9" stroke="#c7c7c7" stroke-width="0.5"/>
<circle cx="505.2" cy="159.2" r="2.8" fill="#d9d9d9" stroke="#c7c7c7" stroke-width="0.5"/>
<circle cx="471.1" cy="154.3" r="2.8" fill="#d9d9d9" stroke="#c7c7c7" stroke-width="0.5"/>
<circle cx="505.9" cy="154.8" r="2.8" fill="#d9d9d9" stroke="#c7c7c7" stroke-width="0.5"/>
<circle cx="484.2" cy="165.4" r="2.8" fill="#d9d9d9" stroke="#c7c7c7" stroke-width="0.5"/>
<circle cx="484" cy="153.9" r="2.8" fill="#d9d9d9" stroke="#c7c7c7" stroke-width="0.5"/>
<circle cx="454.8" cy="161.5" r="2.8" fill="#d9d9d9" stroke="#c7c7c7" stroke-width="0.5"/>
<circle cx="528.8" cy="146.1" r="2.8" fill="#d9d9d9" stroke="#c7c7c7" stroke-width="0.5"/>
<circle cx="519.1" cy="156.7" r="2.8" fill="#d9d9d9" stroke="#c7c7c7" stroke-width="0.5"/>
<circle cx="490.3" cy="167.6" r="2.8" fill="#d9d9d9" stroke="#c7c7c7" stroke-width="0.5"/>
<circle cx="539.8" cy="150.2" r="2.8" fill="#d9d9d9" stroke="#c7c7c7" stroke-width="0.5"/>
<circle cx="487.1" cy="141.7" r="2.8" fill="#d9d9d9" stroke="#c7c7c7" stroke-width="0.5"/>
<circle cx="539.1" cy="138.7" r="2.8" fill="#d9d9d9" stroke="#c7c7c7" stroke-width="0.5"/>
<circle cx="528.5" cy="149.9" r="2.8" fill="#d9d9d9" stroke="#c7c7c7" stroke-width="0.5"/>
<circle cx="535" cy="134.8" r="2.8" fill="#d9d9d9" stroke="#c7c7c7" stroke-width="0.5"/>
<circle cx="491.6" cy="139" r="2.8" fill="#d9d9d9" stroke="#c7c7c7" stroke-width="0.5"/>
<circle cx="525.6" cy="149.8" r="2.8" fill="#d9d9d9" stroke="#c7c7c7" stroke-width="0.5"/>
<circle cx="474.2" cy="166.6" r="2.8" fill="#d9d9d9" stroke="#c7c7c7" stroke-width="0.5"/>
<circle cx="502.7" cy="158.5" r="2.8" fill="#d9d9d9" stroke="#c7c7c7" stroke-width="0.5"/>
<circle cx="492.3" cy="153.3" r="2.8" fill="#d9d9d9" stroke="#c7c7c7" stroke-width="0.5"/>
<circle cx="536.3" cy="143.8" r="2.8" fill="#d9d9d9" stroke="#c7c7c7" stroke-width="0.5"/>
<circle cx="503.6" cy="142.7" r="2.8" fill="#d9d9d9" stroke="#c7c7c7" stroke-width="0.5"/>
<circle cx="515" cy="162.8" r="2.8" fill="#d9d9d9" stroke="#c7c7c7" stroke-width="0.5"/>
<circle cx="508.8" cy="142" r="2.8" fill="#d9d9d9" stroke="#c7c7c7" stroke-width="0.5"/>
<circle cx="542.2" cy="137.7" r="2.8" fill="#d9d9d9" stroke="#c7c7c7" stroke-width="0.5"/>
<circle cx="462.6" cy="163.4" r="2.8" fill="#d9d9d9" stroke="#c7c7c7" stroke-width="0.5"/>
<circle cx="516.2" cy="137.4" r="2.8" fill="#d9d9d9" stroke="#c7c7c7" stroke-width="0.5"/>
<circle cx="487.3" cy="157.8" r="2.8" fill="#d9d9d9" stroke="#c7c7c7" stroke-width="0.5"/>
<circle cx="505.2" cy="134.6" r="2.8" fill="#d9d9d9" stroke="#c7c7c7" stroke-width="0.5"/>
<circle cx="474.3" cy="157.4" r="2.8" fill="#d9d9d9" stroke="#c7c7c7" stroke-width="0.5"/>
<circle cx="488.4" cy="143.8" r="2.8" fill="#d9d9d9" stroke="#c7c7c7" stroke-width="0.5"/>
<circle cx="541.7" cy="143.3" r="2.8" fill="#d9d9d9" stroke="#c7c7c7" stroke-width="0.5"/>
<circle cx="546.6" cy="136.4" r="2.8" fill="#d9d9d9" stroke="#c7c7c7" stroke-width="0.5"/>
<circle cx="510.5" cy="150.8" r="2.8" fill="#d9d9d9" stroke="#c7c7c7" stroke-width="0.5"/>
<circle cx="480.3" cy="157.5" r="2.8" fill="#d9d9d9" stroke="#c7c7c7" stroke-width="0.5"/>
<circle cx="502.7" cy="152.6" r="2.8" fill="#d9d9d9" stroke="#c7c7c7" stroke-width="0.5"/>
<circle cx="549.6" cy="145.4" r="2.8" fill="#d9d9d9" stroke="#c7c7c7" stroke-width="0.5"/>
<circle cx="481.1" cy="167.8" r="2.8" fill="#d9d9d9" stroke="#c7c7c7" stroke-width="0.5"/>
<circle cx="512.6" cy="133.7" r="2.8" fill="#d9d9d9" stroke="#c7c7c7" stroke-width="0.5"/>
<circle cx="501.8" cy="146.6" r="2.8" fill="#d9d9d9" stroke="#c7c7c7" stroke-width="0.5"/>
<circle cx="489.8" cy="140.9" r="2.8" fill="#d9d9d9" stroke="#c7c7c7" stroke-width="0.5"/>
<circle cx="533" cy="158.3" r="2.8" fill="#d9d9d9" stroke="#c7c7c7" stroke-width="0.5"/>
<circle cx="495.4" cy="141.3" r="2.8" fill="#d9d9d9" stroke="#c7c7c7" stroke-width="0.5"/>
<circle cx="488.1" cy="150" r="2.8" fill="#d9d9d9" stroke="#c7c7c7" stroke-width="0.5"/>
<circle cx="499.2" cy="158.1" r="2.8" fill="#d9d9d9" stroke="#c7c7c7" stroke-width="0.5"/>
<circle cx="513.2" cy="159.5" r="2.8" fill="#d9d9d9" stroke="#c7c7c7" stroke-width="0.5"/>
<circle cx="517.5" cy="163.1" r="2.8" fill="#d9d9d9" stroke="#c7c7c7" stroke-width="0.5"/>
<circle cx="488.1" cy="154.5" r="2.8" fill="#d9d9d9" stroke="#c7c7c7" stroke-width="0.5"/>
<circle cx="480.5" cy="143.9" r="2.8" fill="#d9d9d9" stroke="#c7c7c7" stroke-width="0.5"/>
<circle cx="488.7" cy="138.1" r="2.8" fill="#d9d9d9" stroke="#c7c7c7" stroke-width="0.5"/>
<circle cx="479.5" cy="166" r="2.8" fill="#d9d9d9" stroke="#c7c7c7" stroke-width="0.5"/>
<circle cx="521.2" cy="140.2" r="2.8" fill="#d9d9d9" stroke="#c7c7c7" stroke-width="0.5"/>
<circle cx="518.9" cy="142.1" r="2.8" fill="#d9d9d9" stroke="#c7c7c7" stroke-width="0.5"/>
<circle cx="474.4" cy="162.6" r="2.8" fill="#d9d9d9" stroke="#c7c7c7" stroke-width="0.5"/>
<circle cx="468.8" cy="153.9" r="2.8" fill="#d9d9d9" stroke="#c7c7c7" stroke-width="0.5"/>
<circle cx="476.9" cy="146.3" r="2.8" fill="#d9d9d9" stroke="#c7c7c7" stroke-width="0.5"/>
<circle cx="545.8" cy="149.3" r="2.8" fill="#d9d9d9" stroke="#c7c7c7" stroke-width="0.5"/>
<circle cx="467.6" cy="166.6" r="2.8" fill="#d9d9d9" stroke="#c7c7c7" stroke-width="0.5"/>
<circle cx="451.6" cy="161.4" r="2.8" fill="#d9d9d9" stroke="#c7c7c7" stroke-width="0.5"/>
<circle cx="495.2" cy="164.3" r="2.8" fill="#d9d9d9" stroke="#c7c7c7" stroke-width="0.5"/>
<circle cx="486.5" cy="137.7" r="2.8" fill="#d9d9d9" stroke="#c7c7c7" stroke-width="0.5"/>
<circle cx="505.4" cy="140.9" r="2.8" fill="#d9d9d9" stroke="#c7c7c7" stroke-width="0.5"/>
<circle cx="456.4" cy="164.5" r="2.8" fill="#d9d9d9" stroke="#c7c7c7" stroke-width="0.5"/>
<circle cx="532.8" cy="154.2" r="2.8" fill="#d9d9d9" stroke="#c7c7c7" stroke-width="0.5"/>
<circle cx="531.2" cy="144.8" r="2.8" fill="#d9d9d9" stroke="#c7c7c7" stroke-width="0.5"/>
<circle cx="479" cy="154.9" r="2.8" fill="#d9d9d9" stroke="#c7c7c7" stroke-width="0.5"/>
<circle cx="540.6" cy="135.5" r="2.8" fill="#d9d9d9" stroke="#c7c7c7" stroke-width="0.5"/>
<circle cx="518.5" cy="139.6" r="2.8" fill="#d9d9d9" stroke="#c7c7c7" stroke-width="0.5"/>
<circle cx="544.8" cy="151.8" r="2.8" fill="#d9d9d9" stroke="#c7c7c7" stroke-width="0.5"/>
<circle cx="490.5" cy="157.2" r="2.8" fill="#d9d9d9" stroke="#c7c7c7" stroke-width="0.5"/>
<circle cx="523.7" cy="151.4" r="2.8" fill="#d9d9d9" stroke="#c7c7c7" stroke-width="0.5"/>
<circle cx="513.3" cy="139.1" r="2.8" fill="#d9d9d9" stroke="#c7c7c7" stroke-width="0.5"/>
<circle cx="503.5" cy="164.8" r="2.8" fill="#d9d9d9" stroke="#c7c7c7" stroke-width="0.5"/>
<circle cx="528.7" cy="158.9" r="2.8" fill="#d9d9d9" stroke="#c7c7c7" stroke-width="0.5"/>
<circle cx="539.8" cy="145.7" r="2.8" fill="#d9d9d9" stroke="#c7c7c7" stroke-width="0.5"/>
<circle cx="466.5" cy="151.9" r="2.8" fill="#d9d9d9" stroke="#c7c7c7" stroke-width="0.5"/>
<circle cx="515.7" cy="141.9" r="2.8" fill="#d9d9d9" stroke="#c7c7c7" stroke-width="0.5"/>
<circle cx="503.9" cy="149.1" r="2.8" fill="#d9d9d9" stroke="#c7c7c7" stroke-width="0.5"/>
<circle cx="509" cy="161.1" r="2.8" fill="#d9d9d9" stroke="#c7c7c7" stroke-width="0.5"/>
<circle cx="524.6" cy="158.6" r="2.8" fill="#d9d9d9" stroke="#c7c7c7" stroke-width="0.5"/>
<circle cx="517.1" cy="153.4" r="2.8" fill="#d9d9d9" stroke="#c7c7c7" stroke-width="0.5"/>
<circle cx="524.4" cy="161.4" r="2.8" fill="#d9d9d9" stroke="#c7c7c7" stroke-width="0.5"/>
<circle cx="498.2" cy="134.9" r="2.8" fill="#d9d9d9" stroke="#c7c7c7" stroke-width="0.5"/>
<circle cx="486.5" cy="161.9" r="2.8" fill="#d9d9d9" stroke="#c7c7c7" stroke-width="0.5"/>
<circle cx="510.2" cy="157.3" r="2.8" fill="#d9d9d9" stroke="#c7c7c7" stroke-width="0.5"/>
<circle cx="544.5" cy="140" r="2.8" fill="#d9d9d9" stroke="#c7c7c7" stroke-width="0.5"/>
<circle cx="534.4" cy="142.3" r="2.8" fill="#d9d9d9" stroke="#c7c7c7" stroke-width="0.5"/>
<circle cx="470.7" cy="157" r="2.8" fill="#d9d9d9" stroke="#c7c7c7" stroke-width="0.5"/>
<circle cx="520.4" cy="147.5" r="2.8" fill="#d9d9d9" stroke="#c7c7c7" stroke-width="0.5"/>
<circle cx="516.1" cy="133.7" r="2.8" fill="#d9d9d9" stroke="#c7c7c7" stroke-width="0.5"/>
<circle cx="523.4" cy="153.8" r="2.8" fill="#d9d9d9" stroke="#c7c7c7" stroke-width="0.5"/>
<circle cx="514.2" cy="155.3" r="2.8" fill="#d9d9d9" stroke="#c7c7c7" stroke-width="0.5"/>
<circle cx="486" cy="145.1" r="2.8" fill="#d9d9d9" stroke="#c7c7c7" stroke-width="0.5"/>
<circle cx="526.5" cy="155.3" r="2.8" fill="#d9d9d9" stroke="#c7c7c7" stroke-width="0.5"/>
<circle cx="509" cy="153.4" r="2.8" fill="#d9d9d9" stroke="#c7c7c7" stroke-width="0.5"/>
<circle cx="503.6" cy="137" r="2.8" fill="#d9d9d9" stroke="#c7c7c7" stroke-width="0.5"/>
<circle cx="490.1" cy="159.6" r="2.8" fill="#d9d9d9" stroke="#c7c7c7" stroke-width="0.5"/>
<circle cx="502.1" cy="156.2" r="2.8" fill="#d9d9d9" stroke="#c7c7c7" stroke-width="0.5"/>
<circle cx="508.3" cy="139.4" r="2.8" fill="#d9d9d9" stroke="#c7c7c7" stroke-width="0.5"/>
<circle cx="544.3" cy="135.8" r="2.8" fill="#d9d9d9" stroke="#c7c7c7" stroke-width="0.5"/>
<circle cx="459.7" cy="156.2" r="2.8" fill="#d9d9d9" stroke="#c7c7c7" stroke-width="0.5"/>
<circle cx="505.9" cy="145.7" r="2.8" fill="#d9d9d9" stroke="#c7c7c7" stroke-width="0.5"/>
<circle cx="468.6" cy="150.3" r="2.8" fill="#d9d9d9" stroke="#c7c7c7" stroke-width="0.5"/>
<circle cx="519.9" cy="149.8" r="2.8" fill="#d9d9d9" stroke="#c7c7c7" stroke-width="0.5"/>
<circle cx="482.2" cy="164.2" r="2.8" fill="#d9d9d9" stroke="#c7c7c7" stroke-width="0.5"/>
<circle cx="536" cy="138.1" r="2.8" fill="#d9d9d9" stroke="#c7c7c7" stroke-width="0.5"/>
<circle cx="518.6" cy="160" r="2.8" fill="#d9d9d9" stroke="#c7c7c7" stroke-width="0.5"/>
<circle cx="487.5" cy="167.2" r="2.8" fill="#d9d9d9" stroke="#c7c7c7" stroke-width="0.5"/>
<circle cx="513.1" cy="142.6" r="2.8" fill="#d9d9d9" stroke="#c7c7c7" stroke-width="0.5"/>
<circle cx="475.8" cy="160.8" r="2.8" fill="#d9d9d9" stroke="#c7c7c7" stroke-width="0.5"/>
<circle cx="492.8" cy="156.2" r="2.8" fill="#d9d9d9" stroke="#c7c7c7" stroke-width="0.5"/>
<circle cx="495.3" cy="159.7" r="2.8" fill="#d9d9d9" stroke="#c7c7c7" stroke-width="0.5"/>
<circle cx="478.8" cy="148.6" r="2.8" fill="#d9d9d9" stroke="#c7c7c7" stroke-width="0.5"/>
<circle cx="521" cy="162.2" r="2.8" fill="#d9d9d9" stroke="#c7c7c7" stroke-width="0.5"/>
<circle cx="549.9" cy="142" r="2.8" fill="#d9d9d9" stroke="#c7c7c7" stroke-width="0.5"/>
<circle cx="531.5" cy="139.1" r="2.8" fill="#d9d9d9" stroke="#c7c7c7" stroke-width="0.5"/>
<circle cx="527.1" cy="136.4" r="2.8" fill="#d9d9d9" stroke="#c7c7c7" stroke-width="0.5"/>
<circle cx="544.6" cy="143.8" r="2.8" fill="#d9d9d9" stroke="#c7c7c7" stroke-width="0.5"/>
<circle cx="523.8" cy="141.5" r="2.8" fill="#d9d9d9" stroke="#c7c7c7" stroke-width="0.5"/>
<circle cx="493.1" cy="163.6" r="2.8" fill="#d9d9d9" stroke="#c7c7c7" stroke-width="0.5"/>
<circle cx="495.9" cy="157.2" r="2.8" fill="#d9d9d9" stroke="#c7c7c7" stroke-width="0.5"/>
<circle cx="456.8" cy="158" r="2.8" fill="#d9d9d9" stroke="#c7c7c7" stroke-width="0.5"/>
<circle cx="498.6" cy="164.8" r="2.8" fill="#d9d9d9" stroke="#c7c7c7" stroke-width="0.5"/>
<circle cx="460.5" cy="161.2" r="2.8" fill="#d9d9d9" stroke="#c7c7c7" stroke-width="0.5"/>
<circle cx="523.1" cy="134.1" r="2.8" fill="#d9d9d9" stroke="#c7c7c7" stroke-width="0.5"/>
<circle cx="454.5" cy="166.3" r="2.8" fill="#d9d9d9" stroke="#c7c7c7" stroke-width="0.5"/>
<circle cx="548.4" cy="148.4" r="2.8" fill="#d9d9d9" stroke="#c7c7c7" stroke-width="0.5"/>
<circle cx="511" cy="146.9" r="2.8" fill="#d9d9d9" stroke="#c7c7c7" stroke-width="0.5"/>
<circle cx="527.4" cy="140.9" r="2.8" fill="#d9d9d9" stroke="#c7c7c7" stroke-width="0.5"/>
<circle cx="483.5" cy="143.2" r="2.8" fill="#d9d9d9" stroke="#c7c7c7" stroke-width="0.5"/>
<circle cx="535" cy="156" r="2.8" fill="#d9d9d9" stroke="#c7c7c7" stroke-width="0.5"/>
<circle cx="548.7" cy="140.1" r="2.8" fill="#d9d9d9" stroke="#c7c7c7" stroke-width="0.5"/>
<circle cx="472.7" cy="148.1" r="2.8" fill="#d9d9d9" stroke="#c7c7c7" stroke-width="0.5"/>
<circle cx="537.2" cy="150.2" r="2.8" fill="#d9d9d9" stroke="#c7c7c7" stroke-width="0.5"/>
<circle cx="509" cy="164.3" r="2.8" fill="#d9d9d9" stroke="#c7c7c7" stroke-width="0.5"/>
<circle cx="482.8" cy="160.9" r="2.8" fill="#d9d9d9" stroke="#c7c7c7" stroke-width="0.5"/>
<circle cx="523" cy="156.6" r="2.8" fill="#d9d9d9" stroke="#c7c7c7" stroke-width="0.5"/>
<circle cx="483.7" cy="156.5" r="2.8" fill="#d9d9d9" stroke="#c7c7c7" stroke-width="0.5"/>
<circle cx="523.6" cy="147.1" r="2.8" fill="#d9d9d9" stroke="#c7c7c7" stroke-width="0.5"/>
<circle cx="530.7" cy="147.9" r="2.8" fill="#d9d9d9" stroke="#c7c7c7" stroke-width="0.5"/>
<circle cx="494.4" cy="166.7" r="2.8" fill="#d9d9d9" stroke="#c7c7c7" stroke-width="0.5"/>
<circle cx="482.3" cy="141" r="2.8" fill="#d9d9d9" stroke="#c7c7c7" stroke-width="0.5"/>
<circle cx="462.5" cy="152.1" r="2.8" fill="#d9d9d9" stroke="#c7c7c7" stroke-width="0.5"/>
<circle cx="499.3" cy="147.6" r="2.8" fill="#d9d9d9" stroke="#c7c7c7" stroke-width="0.5"/>
<circle cx="483.9" cy="146.1" r="2.8" fill="#d9d9d9" stroke="#c7c7c7" stroke-width="0.5"/>
<circle cx="497.7" cy="155.9" r="2.8" fill="#d9d9d9" stroke="#c7c7c7" stroke-width="0.5"/>
<circle cx="525.4" cy="143.7" r="2.8" fill="#d9d9d9" stroke="#c7c7c7" stroke-width="0.5"/>
<circle cx="522.8" cy="137.6" r="2.8" fill="#d9d9d9" stroke="#c7c7c7" stroke-width="0.5"/>
<circle cx="536.2" cy="146.6" r="2.8" fill="#d9d9d9" stroke="#c7c7c7" stroke-width="0.5"/>
<circle cx="497.3" cy="160.4" r="2.8" fill="#d9d9d9" stroke="#c7c7c7" stroke-width="0.5"/>
<circle cx="474.1" cy="150" r="2.8" fill="#d9d9d9" stroke="#c7c7c7" stroke-width="0.5"/>
<circle cx="497.9" cy="142.1" r="2.8" fill="#d9d9d9" stroke="#c7c7c7" stroke-width="0.5"/>
<circle cx="471.3" cy="165.3" r="2.8" fill="#d9d9d9" stroke="#c7c7c7" stroke-width="0.5"/>
<circle cx="467.1" cy="162.7" r="2.8" fill="#d9d9d9" stroke="#c7c7c7" stroke-width="0.5"/>
<circle cx="508.1" cy="147.3" r="2.8" fill="#d9d9d9" stroke="#c7c7c7" stroke-width="0.5"/>
<circle cx="515.2" cy="144" r="2.8" fill="#d9d9d9" stroke="#c7c7c7" stroke-width="0.5"/>
<circle cx="502.6" cy="162.1" r="2.8" fill="#d9d9d9" stroke="#c7c7c7" stroke-width="0.5"/>
<circle cx="492.3" cy="142.3" r="2.8" fill="#d9d9d9" stroke="#c7c7c7" stroke-width="0.5"/>
<circle cx="501.3" cy="167.1" r="2.8" fill="#d9d9d9" stroke="#c7c7c7" stroke-width="0.5"/>
<circle cx="497.2" cy="167.3" r="2.8" fill="#d9d9d9" stroke="#c7c7c7" stroke-width="0.5"/>
<circle cx="461.9" cy="157" r="2.8" fill="#d9d9d9" stroke="#c7c7c7" stroke-width="0.5"/>
<circle cx="541.7" cy="139.9" r="2.8" fill="#d9d9d9" stroke="#c7c7c7" stroke-width="0.5"/>
<circle cx="529.2" cy="143.9" r="2.8" fill="#d9d9d9" stroke="#c7c7c7" stroke-width="0.5"/>
<circle cx="506.1" cy="148.8" r="2.8" fill="#d9d9d9" stroke="#c7c7c7" stroke-width="0.5"/>
<circle cx="468.7" cy="158.6" r="2.8" fill="#d9d9d9" stroke="#c7c7c7" stroke-width="0.5"/>
<circle cx="497.9" cy="144.4" r="2.8" fill="#d9d9d9" stroke="#c7c7c7" stroke-width="0.5"/>
<circle cx="476.8" cy="152.3" r="2.8" fill="#d9d9d9" stroke="#c7c7c7" stroke-width="0.5"/>
<circle cx="486.1" cy="148.9" r="2.8" fill="#d9d9d9" stroke="#c7c7c7" stroke-width="0.5"/>
<circle cx="458.2" cy="161.5" r="2.8" fill="#d9d9d9" stroke="#c7c7c7" stroke-width="0.5"/>
<circle cx="506.7" cy="163" r="2.8" fill="#d9d9d9" stroke="#c7c7c7" stroke-width="0.5"/>
<circle cx="421.5" cy="143.5" r="2.8" fill="#d9d9d9" stroke="#c7c7c7" stroke-width="0.5"/>
<circle cx="429.2" cy="165.7" r="2.8" fill="#d9d9d9" stroke="#c7c7c7" stroke-width="0.5"/>
<circle cx="437.4" cy="155.2" r="2.8" fill="#d9d9d9" stroke="#c7c7c7" stroke-width="0.5"/>
<circle cx="462.6" cy="138.4" r="2.8" fill="#d9d9d9" stroke="#c7c7c7" stroke-width="0.5"/>
<circle cx="555" cy="146" r="2.8" fill="#d9d9d9" stroke="#c7c7c7" stroke-width="0.5"/>
<circle cx="493.8" cy="115.1" r="2.7" fill="#fff" stroke="#b4b4b4" stroke-width="0.5"/>
<circle cx="504.5" cy="116.6" r="2.7" fill="#fff" stroke="#b4b4b4" stroke-width="0.5"/>
<circle cx="482.5" cy="124" r="2.7" fill="#fff" stroke="#b4b4b4" stroke-width="0.5"/>
<circle cx="539.5" cy="136" r="2.7" fill="#fff" stroke="#b4b4b4" stroke-width="0.5"/>
<circle cx="529.3" cy="118.7" r="2.7" fill="#fff" stroke="#b4b4b4" stroke-width="0.5"/>
<circle cx="514" cy="120.3" r="2.7" fill="#fff" stroke="#b4b4b4" stroke-width="0.5"/>
<circle cx="533.5" cy="136.2" r="2.7" fill="#fff" stroke="#b4b4b4" stroke-width="0.5"/>
<circle cx="498.8" cy="130.8" r="2.7" fill="#fff" stroke="#b4b4b4" stroke-width="0.5"/>
<circle cx="527" cy="137.6" r="2.7" fill="#fff" stroke="#b4b4b4" stroke-width="0.5"/>
<circle cx="518.6" cy="132.2" r="2.7" fill="#fff" stroke="#b4b4b4" stroke-width="0.5"/>
<circle cx="509.7" cy="114.7" r="2.7" fill="#fff" stroke="#b4b4b4" stroke-width="0.5"/>
<circle cx="538.9" cy="129.2" r="2.7" fill="#fff" stroke="#b4b4b4" stroke-width="0.5"/>
<circle cx="518.1" cy="124.9" r="2.7" fill="#fff" stroke="#b4b4b4" stroke-width="0.5"/>
<circle cx="488.8" cy="121.2" r="2.7" fill="#fff" stroke="#b4b4b4" stroke-width="0.5"/>
<circle cx="481.1" cy="130.8" r="2.7" fill="#fff" stroke="#b4b4b4" stroke-width="0.5"/>
<circle cx="509.6" cy="122.3" r="2.7" fill="#fff" stroke="#b4b4b4" stroke-width="0.5"/>
<circle cx="520.4" cy="120.3" r="2.7" fill="#fff" stroke="#b4b4b4" stroke-width="0.5"/>
<circle cx="501.8" cy="134.4" r="2.7" fill="#fff" stroke="#b4b4b4" stroke-width="0.5"/>
<circle cx="529.3" cy="130.5" r="2.7" fill="#fff" stroke="#b4b4b4" stroke-width="0.5"/>
<circle cx="493.9" cy="121.9" r="2.7" fill="#fff" stroke="#b4b4b4" stroke-width="0.5"/>
<circle cx="489.9" cy="125.8" r="2.7" fill="#fff" stroke="#b4b4b4" stroke-width="0.5"/>
<circle cx="505.5" cy="140.3" r="2.7" fill="#fff" stroke="#b4b4b4" stroke-width="0.5"/>
<circle cx="497.7" cy="117.7" r="2.7" fill="#fff" stroke="#b4b4b4" stroke-width="0.5"/>
<circle cx="523.3" cy="116.5" r="2.7" fill="#fff" stroke="#b4b4b4" stroke-width="0.5"/>
<circle cx="529.8" cy="124.3" r="2.7" fill="#fff" stroke="#b4b4b4" stroke-width="0.5"/>
<circle cx="494.7" cy="138.7" r="2.7" fill="#fff" stroke="#b4b4b4" stroke-width="0.5"/>
<circle cx="533.7" cy="127" r="2.7" fill="#fff" stroke="#b4b4b4" stroke-width="0.5"/>
<circle cx="542.9" cy="132" r="2.7" fill="#fff" stroke="#b4b4b4" stroke-width="0.5"/>
<circle cx="453.5" cy="83.8" r="2.7" fill="#fff" stroke="#b4b4b4" stroke-width="0.5"/>
<circle cx="450" cy="127" r="2.7" fill="#fff" stroke="#b4b4b4" stroke-width="0.5"/>
<circle cx="474" cy="127.5" r="2.7" fill="#fff" stroke="#b4b4b4" stroke-width="0.5"/>
<circle cx="466" cy="110" r="2.7" fill="#fff" stroke="#b4b4b4" stroke-width="0.5"/>
<circle cx="481" cy="101" r="2.7" fill="#fff" stroke="#b4b4b4" stroke-width="0.5"/>
<line x1="477.1" y1="56.1" x2="388.8" y2="92.4" stroke="#cc1515" stroke-width="1.0" stroke-dasharray="3.2 1.4"/>
<path d="M386 93.5L389.9 89.8L391.3 93.4Z" fill="#cf1616"/>
<line x1="490.4" y1="70.8" x2="402" y2="107.1" stroke="#cc1515" stroke-width="1.0" stroke-dasharray="3.2 1.4"/>
<path d="M399.2 108.2L403.1 104.5L404.5 108.1Z" fill="#cf1616"/>
<line x1="503.8" y1="85.7" x2="415.2" y2="122.1" stroke="#cc1515" stroke-width="1.0" stroke-dasharray="3.2 1.4"/>
<path d="M412.4 123.2L416.3 119.5L417.7 123.1Z" fill="#cf1616"/>
<line x1="517.3" y1="100.6" x2="429.3" y2="136.7" stroke="#cc1515" stroke-width="1.0" stroke-dasharray="3.2 1.4"/>
<path d="M426.5 137.8L430.4 134.1L431.8 137.7Z" fill="#cf1616"/>
<line x1="531.5" y1="116.4" x2="443.8" y2="152.4" stroke="#cc1515" stroke-width="1.0" stroke-dasharray="3.2 1.4"/>
<path d="M441 153.5L444.9 149.8L446.3 153.4Z" fill="#cf1616"/>
<line x1="544.8" y1="129.8" x2="457" y2="166.8" stroke="#cc1515" stroke-width="1.0" stroke-dasharray="3.2 1.4"/>
<path d="M454.2 168L458.1 164.3L459.5 167.8Z" fill="#cf1616"/>
<line x1="465.1" y1="42.8" x2="537.5" y2="123" stroke="#111" stroke-width="1.5" stroke-dasharray="3.6 1.7"/>
<path d="M462.4 39.8L467.4 42.3L464.4 45Z" fill="#000"/>
<line x1="485.5" y1="43.1" x2="544.8" y2="129.8" stroke="#111" stroke-width="1.5" stroke-dasharray="3.6 1.7"/>
<path d="M483.2 39.8L487.8 43L484.5 45.2Z" fill="#000"/>
<line x1="572.5" y1="71" x2="536.3" y2="113.5" stroke="#222" stroke-width="0.5"/>
<path d="M435.7 76.8V92.8M434.3 76.8H437.1M434.3 92.8H437.1" stroke="#6e6e6e" stroke-width="0.6" fill="none"/>
<path d="M477.4 70.7V86.7M476 70.7H478.8M476 86.7H478.8" stroke="#6e6e6e" stroke-width="0.6" fill="none"/>
<path d="M475.4 83.1V99.1M474 83.1H476.8M474 99.1H476.8" stroke="#6e6e6e" stroke-width="0.6" fill="none"/>
<path d="M505.1 76.4V92.4M503.7 76.4H506.5M503.7 92.4H506.5" stroke="#6e6e6e" stroke-width="0.6" fill="none"/>
<path d="M505.1 80.2V96.2M503.7 80.2H506.5M503.7 96.2H506.5" stroke="#6e6e6e" stroke-width="0.6" fill="none"/>
<path d="M475.4 101.3V117.3M474 101.3H476.8M474 117.3H476.8" stroke="#6e6e6e" stroke-width="0.6" fill="none"/>
<path d="M505.1 99.4V115.4M503.7 99.4H506.5M503.7 115.4H506.5" stroke="#6e6e6e" stroke-width="0.6" fill="none"/>
<path d="M505.5 89.8V105.8M504.1 89.8H506.9M504.1 105.8H506.9" stroke="#6e6e6e" stroke-width="0.6" fill="none"/>
<circle cx="435.7" cy="84.8" r="4.05" fill="#c00000" stroke="#1a1a1a" stroke-width="0.5"/>
<circle cx="477.4" cy="78.7" r="4.05" fill="#c00000" stroke="#1a1a1a" stroke-width="0.5"/>
<circle cx="475.4" cy="91.1" r="4.05" fill="#c00000" stroke="#1a1a1a" stroke-width="0.5"/>
<circle cx="505.1" cy="84.4" r="4.05" fill="#c00000" stroke="#1a1a1a" stroke-width="0.5"/>
<circle cx="505.1" cy="88.2" r="4.05" fill="#c00000" stroke="#1a1a1a" stroke-width="0.5"/>
<circle cx="475.4" cy="109.3" r="4.05" fill="#c00000" stroke="#1a1a1a" stroke-width="0.5"/>
<circle cx="505.1" cy="107.4" r="4.05" fill="#c00000" stroke="#1a1a1a" stroke-width="0.5"/>
<circle cx="505.5" cy="97.8" r="4.05" fill="#c00000" stroke="#1a1a1a" stroke-width="0.5"/>
<path d="M445 28.5V44.5M443.6 28.5H446.4M443.6 44.5H446.4" stroke="#6e6e6e" stroke-width="0.6" fill="none"/>
<path d="M453.7 29.9V45.9M452.3 29.9H455.1M452.3 45.9H455.1" stroke="#6e6e6e" stroke-width="0.6" fill="none"/>
<path d="M459.9 40.6V56.6M458.5 40.6H461.3M458.5 56.6H461.3" stroke="#6e6e6e" stroke-width="0.6" fill="none"/>
<path d="M458.6 41.2V57.2M457.2 41.2H460M457.2 57.2H460" stroke="#6e6e6e" stroke-width="0.6" fill="none"/>
<path d="M478 19V35M476.6 19H479.4M476.6 35H479.4" stroke="#6e6e6e" stroke-width="0.6" fill="none"/>
<path d="M473.6 25.7V41.7M472.2 25.7H475M472.2 41.7H475" stroke="#6e6e6e" stroke-width="0.6" fill="none"/>
<path d="M472.3 31.8V47.8M470.9 31.8H473.7M470.9 47.8H473.7" stroke="#6e6e6e" stroke-width="0.6" fill="none"/>
<path d="M445 32.2L449.3 36.5L445 40.8L440.7 36.5Z" fill="#ffc000" stroke="#1a1a1a" stroke-width="0.5"/>
<path d="M453.7 33.6L458 37.9L453.7 42.2L449.4 37.9Z" fill="#ffc000" stroke="#1a1a1a" stroke-width="0.5"/>
<path d="M459.9 44.3L464.2 48.6L459.9 52.9L455.6 48.6Z" fill="#ffc000" stroke="#1a1a1a" stroke-width="0.5"/>
<path d="M458.6 44.9L462.9 49.2L458.6 53.5L454.3 49.2Z" fill="#ffc000" stroke="#1a1a1a" stroke-width="0.5"/>
<path d="M478 22.7L482.3 27L478 31.3L473.7 27Z" fill="#ffc000" stroke="#1a1a1a" stroke-width="0.5"/>
<path d="M473.6 29.4L477.9 33.7L473.6 38L469.3 33.7Z" fill="#ffc000" stroke="#1a1a1a" stroke-width="0.5"/>
<path d="M472.3 35.5L476.6 39.8L472.3 44.1L468 39.8Z" fill="#ffc000" stroke="#1a1a1a" stroke-width="0.5"/>
<path d="M480.2 60.7V76.7M478.8 60.7H481.6M478.8 76.7H481.6" stroke="#6e6e6e" stroke-width="0.6" fill="none"/>
<path d="M477 67.8V83.8M475.6 67.8H478.4M475.6 83.8H478.4" stroke="#6e6e6e" stroke-width="0.6" fill="none"/>
<path d="M470.7 72.6V88.6M469.3 72.6H472.1M469.3 88.6H472.1" stroke="#6e6e6e" stroke-width="0.6" fill="none"/>
<path d="M480.8 101.7V117.7M479.4 101.7H482.2M479.4 117.7H482.2" stroke="#6e6e6e" stroke-width="0.6" fill="none"/>
<path d="M467.2 118.9V134.9M465.8 118.9H468.6M465.8 134.9H468.6" stroke="#6e6e6e" stroke-width="0.6" fill="none"/>
<path d="M528 94V110M526.6 94H529.4M526.6 110H529.4" stroke="#6e6e6e" stroke-width="0.6" fill="none"/>
<path d="M528 99V115M526.6 99H529.4M526.6 115H529.4" stroke="#6e6e6e" stroke-width="0.6" fill="none"/>
<circle cx="480.2" cy="68.7" r="4.05" fill="#ffc000" stroke="#1a1a1a" stroke-width="0.5"/>
<circle cx="477" cy="75.8" r="4.05" fill="#ffc000" stroke="#1a1a1a" stroke-width="0.5"/>
<circle cx="470.7" cy="80.6" r="4.05" fill="#ffc000" stroke="#1a1a1a" stroke-width="0.5"/>
<circle cx="480.8" cy="109.7" r="4.05" fill="#ffc000" stroke="#1a1a1a" stroke-width="0.5"/>
<circle cx="467.2" cy="126.9" r="4.05" fill="#ffc000" stroke="#1a1a1a" stroke-width="0.5"/>
<circle cx="528" cy="102" r="4.05" fill="#ffc000" stroke="#1a1a1a" stroke-width="0.5"/>
<circle cx="528" cy="107" r="4.05" fill="#ffc000" stroke="#1a1a1a" stroke-width="0.5"/>
<path d="M486.5 88.5V104.5M485.1 88.5H487.9M485.1 104.5H487.9" stroke="#6e6e6e" stroke-width="0.6" fill="none"/>
<path d="M488.8 97.4V113.4M487.4 97.4H490.2M487.4 113.4H490.2" stroke="#6e6e6e" stroke-width="0.6" fill="none"/>
<path d="M492.3 99.4V115.4M490.9 99.4H493.7M490.9 115.4H493.7" stroke="#6e6e6e" stroke-width="0.6" fill="none"/>
<path d="M492.3 122.3V138.3M490.9 122.3H493.7M490.9 138.3H493.7" stroke="#6e6e6e" stroke-width="0.6" fill="none"/>
<path d="M486.5 91.8L490.4 100L482.6 100Z" fill="#0b6fc2" stroke="#1a1a1a" stroke-width="0.5"/>
<path d="M488.8 100.7L492.7 108.9L484.9 108.9Z" fill="#0b6fc2" stroke="#1a1a1a" stroke-width="0.5"/>
<path d="M492.3 102.7L496.2 110.9L488.4 110.9Z" fill="#0b6fc2" stroke="#1a1a1a" stroke-width="0.5"/>
<path d="M492.3 125.6L496.2 133.8L488.4 133.8Z" fill="#0b6fc2" stroke="#1a1a1a" stroke-width="0.5"/>
<path d="M496.5 91.3V107.3M495.1 91.3H497.9M495.1 107.3H497.9" stroke="#6e6e6e" stroke-width="0.6" fill="none"/>
<path d="M495.5 94V110M494.1 94H496.9M494.1 110H496.9" stroke="#6e6e6e" stroke-width="0.6" fill="none"/>
<path d="M502.2 86.4V102.4M500.8 86.4H503.6M500.8 102.4H503.6" stroke="#6e6e6e" stroke-width="0.6" fill="none"/>
<path d="M507 83.1V99.1M505.6 83.1H508.4M505.6 99.1H508.4" stroke="#6e6e6e" stroke-width="0.6" fill="none"/>
<path d="M509.5 85.6V101.6M508.1 85.6H510.9M508.1 101.6H510.9" stroke="#6e6e6e" stroke-width="0.6" fill="none"/>
<path d="M506 95.5V111.5M504.6 95.5H507.4M504.6 111.5H507.4" stroke="#6e6e6e" stroke-width="0.6" fill="none"/>
<path d="M511.8 98.4V114.4M510.4 98.4H513.2M510.4 114.4H513.2" stroke="#6e6e6e" stroke-width="0.6" fill="none"/>
<path d="M519.8 84.1V100.1M518.4 84.1H521.2M518.4 100.1H521.2" stroke="#6e6e6e" stroke-width="0.6" fill="none"/>
<path d="M525.2 84.1V100.1M523.8 84.1H526.6M523.8 100.1H526.6" stroke="#6e6e6e" stroke-width="0.6" fill="none"/>
<path d="M523.2 104.7V120.7M521.8 104.7H524.6M521.8 120.7H524.6" stroke="#6e6e6e" stroke-width="0.6" fill="none"/>
<path d="M507 113.1V129.1M505.6 113.1H508.4M505.6 129.1H508.4" stroke="#6e6e6e" stroke-width="0.6" fill="none"/>
<path d="M507 117V133M505.6 117H508.4M505.6 133H508.4" stroke="#6e6e6e" stroke-width="0.6" fill="none"/>
<path d="M528.6 123.5V139.5M527.2 123.5H530M527.2 139.5H530" stroke="#6e6e6e" stroke-width="0.6" fill="none"/>
<path d="M496.5 94.9L500.9 99.3L496.5 103.7L492.1 99.3Z" fill="#0b6fc2" stroke="#1a1a1a" stroke-width="0.5"/>
<path d="M495.5 97.6L499.9 102L495.5 106.4L491.1 102Z" fill="#0b6fc2" stroke="#1a1a1a" stroke-width="0.5"/>
<path d="M502.2 90L506.6 94.4L502.2 98.8L497.8 94.4Z" fill="#0b6fc2" stroke="#1a1a1a" stroke-width="0.5"/>
<path d="M507 86.7L511.4 91.1L507 95.5L502.6 91.1Z" fill="#0b6fc2" stroke="#1a1a1a" stroke-width="0.5"/>
<path d="M509.5 89.2L513.9 93.6L509.5 98L505.1 93.6Z" fill="#0b6fc2" stroke="#1a1a1a" stroke-width="0.5"/>
<path d="M506 99.1L510.4 103.5L506 107.9L501.6 103.5Z" fill="#0b6fc2" stroke="#1a1a1a" stroke-width="0.5"/>
<path d="M511.8 102L516.2 106.4L511.8 110.8L507.4 106.4Z" fill="#0b6fc2" stroke="#1a1a1a" stroke-width="0.5"/>
<path d="M519.8 87.7L524.2 92.1L519.8 96.5L515.4 92.1Z" fill="#0b6fc2" stroke="#1a1a1a" stroke-width="0.5"/>
<path d="M525.2 87.7L529.6 92.1L525.2 96.5L520.8 92.1Z" fill="#0b6fc2" stroke="#1a1a1a" stroke-width="0.5"/>
<path d="M523.2 108.3L527.6 112.7L523.2 117.1L518.8 112.7Z" fill="#0b6fc2" stroke="#1a1a1a" stroke-width="0.5"/>
<path d="M507 116.7L511.4 121.1L507 125.5L502.6 121.1Z" fill="#0b6fc2" stroke="#1a1a1a" stroke-width="0.5"/>
<path d="M507 120.6L511.4 125L507 129.4L502.6 125Z" fill="#0b6fc2" stroke="#1a1a1a" stroke-width="0.5"/>
<path d="M528.6 127.1L533 131.5L528.6 135.9L524.2 131.5Z" fill="#0b6fc2" stroke="#1a1a1a" stroke-width="0.5"/>
<path d="M566 107.4V123.4M564.6 107.4H567.4M564.6 123.4H567.4" stroke="#6e6e6e" stroke-width="0.6" fill="none"/>
<path d="M564 109.3V125.3M562.6 109.3H565.4M562.6 125.3H565.4" stroke="#6e6e6e" stroke-width="0.6" fill="none"/>
<path d="M550.7 114.4V130.4M549.3 114.4H552.1M549.3 130.4H552.1" stroke="#6e6e6e" stroke-width="0.6" fill="none"/>
<path d="M554.5 116.9V132.9M553.1 116.9H555.9M553.1 132.9H555.9" stroke="#6e6e6e" stroke-width="0.6" fill="none"/>
<path d="M552 119.8V135.8M550.6 119.8H553.4M550.6 135.8H553.4" stroke="#6e6e6e" stroke-width="0.6" fill="none"/>
<path d="M548.8 123.2V139.2M547.4 123.2H550.2M547.4 139.2H550.2" stroke="#6e6e6e" stroke-width="0.6" fill="none"/>
<path d="M555.4 126.5V142.5M554 126.5H556.8M554 142.5H556.8" stroke="#6e6e6e" stroke-width="0.6" fill="none"/>
<path d="M562.1 123.6V139.6M560.7 123.6H563.5M560.7 139.6H563.5" stroke="#6e6e6e" stroke-width="0.6" fill="none"/>
<path d="M563.5 127.1V143.1M562.1 127.1H564.9M562.1 143.1H564.9" stroke="#6e6e6e" stroke-width="0.6" fill="none"/>
<path d="M568.8 121.3V137.3M567.4 121.3H570.2M567.4 137.3H570.2" stroke="#6e6e6e" stroke-width="0.6" fill="none"/>
<path d="M576.5 124V140M575.1 124H577.9M575.1 140H577.9" stroke="#6e6e6e" stroke-width="0.6" fill="none"/>
<path d="M573.6 130.9V146.9M572.2 130.9H575M572.2 146.9H575" stroke="#6e6e6e" stroke-width="0.6" fill="none"/>
<path d="M566.5 134.1V150.1M565.1 134.1H567.9M565.1 150.1H567.9" stroke="#6e6e6e" stroke-width="0.6" fill="none"/>
<path d="M584.1 129.4V145.4M582.7 129.4H585.5M582.7 145.4H585.5" stroke="#6e6e6e" stroke-width="0.6" fill="none"/>
<path d="M586.6 132.2V148.2M585.2 132.2H588M585.2 148.2H588" stroke="#6e6e6e" stroke-width="0.6" fill="none"/>
<circle cx="566" cy="115.4" r="4.05" fill="#0b6fc2" stroke="#1a1a1a" stroke-width="0.5"/>
<circle cx="564" cy="117.3" r="4.05" fill="#0b6fc2" stroke="#1a1a1a" stroke-width="0.5"/>
<circle cx="550.7" cy="122.4" r="4.05" fill="#0b6fc2" stroke="#1a1a1a" stroke-width="0.5"/>
<circle cx="554.5" cy="124.9" r="4.05" fill="#0b6fc2" stroke="#1a1a1a" stroke-width="0.5"/>
<circle cx="552" cy="127.8" r="4.05" fill="#0b6fc2" stroke="#1a1a1a" stroke-width="0.5"/>
<circle cx="548.8" cy="131.2" r="4.05" fill="#0b6fc2" stroke="#1a1a1a" stroke-width="0.5"/>
<circle cx="555.4" cy="134.5" r="4.05" fill="#0b6fc2" stroke="#1a1a1a" stroke-width="0.5"/>
<circle cx="562.1" cy="131.6" r="4.05" fill="#0b6fc2" stroke="#1a1a1a" stroke-width="0.5"/>
<circle cx="563.5" cy="135.1" r="4.05" fill="#0b6fc2" stroke="#1a1a1a" stroke-width="0.5"/>
<circle cx="568.8" cy="129.3" r="4.05" fill="#0b6fc2" stroke="#1a1a1a" stroke-width="0.5"/>
<circle cx="576.5" cy="132" r="4.05" fill="#0b6fc2" stroke="#1a1a1a" stroke-width="0.5"/>
<circle cx="573.6" cy="138.9" r="4.05" fill="#0b6fc2" stroke="#1a1a1a" stroke-width="0.5"/>
<circle cx="566.5" cy="142.1" r="4.05" fill="#0b6fc2" stroke="#1a1a1a" stroke-width="0.5"/>
<circle cx="584.1" cy="137.4" r="4.05" fill="#0b6fc2" stroke="#1a1a1a" stroke-width="0.5"/>
<circle cx="586.6" cy="140.2" r="4.05" fill="#0b6fc2" stroke="#1a1a1a" stroke-width="0.5"/>
<rect x="568.8" y="126.4" width="9.6" height="9.6" fill="#000"/>
<path d="M568.8 131.2H578.4M573.6 126.4V136" stroke="#e8e8e8" stroke-width="1.1"/>
<text x="407.8" y="28.9" font-size="10" text-anchor="middle" font-weight="normal" fill="#111">Enrichment at</text>
<text x="407.8" y="40.8" font-size="10" text-anchor="middle" font-weight="normal" fill="#111">degassing?</text>
<text x="577.5" y="50.2" font-size="10" text-anchor="middle" font-weight="normal" fill="#111">Trajectory of Ag</text>
<text x="576.5" y="61.8" font-size="10" text-anchor="middle" font-weight="normal" fill="#111">incompatibility</text>
<text x="380" y="149.5" font-size="10" text-anchor="start" font-weight="normal" fill="#111" transform="rotate(-21.7 380 149.5)">Sulfide fractionation</text>
<text x="636.4" y="193.3" font-size="11.5" text-anchor="start" font-weight="normal" fill="#111">0.000</text>
<text x="636.4" y="147.8" font-size="11.5" text-anchor="start" font-weight="normal" fill="#111">0.025</text>
<text x="636.4" y="102.3" font-size="11.5" text-anchor="start" font-weight="normal" fill="#111">0.050</text>
<text x="636.4" y="56.8" font-size="11.5" text-anchor="start" font-weight="normal" fill="#111">0.075</text>
<text x="636.4" y="11.3" font-size="11.5" text-anchor="start" font-weight="normal" fill="#111">0.100</text>
<path d="M351 7.5H627.7V189.5H351ZM351 186.4V192.6M378.7 187.4V191.6M406.4 186.4V192.6M434 187.4V191.6M461.7 186.4V192.6M489.4 187.4V191.6M517.1 186.4V192.6M544.8 187.4V191.6M572.4 186.4V192.6M600.1 187.4V191.6M627.8 186.4V192.6M623.7 189.5H631.7M627.7 180.4H624.1M627.7 171.3H624.1M627.7 162.2H624.1M627.7 153.1H624.1M623.7 144H631.7M627.7 134.9H624.1M627.7 125.8H624.1M627.7 116.7H624.1M627.7 107.6H624.1M623.7 98.5H631.7M627.7 89.4H624.1M627.7 80.3H624.1M627.7 71.2H624.1M627.7 62.1H624.1M623.7 53H631.7M627.7 43.9H624.1M627.7 34.8H624.1M627.7 25.7H624.1M627.7 16.6H624.1M623.7 7.5H631.7" fill="none" stroke="#1a1a1a" stroke-width="0.8"/>
<path d="M351 163.4H377.4V189.5" fill="none" stroke="#1a1a1a" stroke-width="0.8"/>
<text x="364.1" y="181.4" font-size="16" text-anchor="middle" font-weight="bold" fill="#000">b</text>
<text x="674.2" y="96.2" font-size="11.5" text-anchor="middle" font-weight="normal" fill="#111" transform="rotate(90 674.2 96.2)">Ag (ppm)</text>
<rect x="233.2" y="210.4" width="20.6" height="182.1" fill="#f1f1f1"/>
<clipPath id="hc3"><path d="M157.3 236.5L181.4 235.5L231.6 305.6L225.8 305Z"/></clipPath>
<path d="M102.7 281.8L223.4 176.8M105 284.4L225.7 179.4M107.3 287L228 182.1M109.6 289.7L230.3 184.7M111.9 292.3L232.6 187.3M114.2 295L234.9 190M116.5 297.6L237.2 192.6M118.7 300.2L239.5 195.3M121 302.9L241.8 197.9M123.3 305.5L244.1 200.6M125.6 308.2L246.4 203.2M127.9 310.8L248.7 205.8M130.2 313.4L251 208.5M132.5 316.1L253.3 211.1M134.8 318.7L255.6 213.8M137.1 321.4L257.9 216.4M139.4 324L260.2 219M141.7 326.7L262.5 221.7M144 329.3L264.8 224.3M146.3 331.9L267.1 227M148.6 334.6L269.4 229.6M150.9 337.2L271.6 232.3M153.2 339.9L273.9 234.9M155.5 342.5L276.2 237.5M157.8 345.1L278.5 240.2M160.1 347.8L280.8 242.8M162.4 350.4L283.1 245.5M164.7 353.1L285.4 248.1M167 355.7L287.7 250.7M169.3 358.4L290 253.4" stroke="#8c8c8c" stroke-width="0.75" fill="none" clip-path="url(#hc3)"/>
<path d="M108.7 210.4C111.3 214.1 118.4 224.6 124.6 232.7C130.8 240.8 139.6 251.4 146 259C152.4 266.6 157.7 272.5 163 278C168.3 283.5 172.3 287.2 178 292C183.7 296.8 190 302.5 197 307C204 311.5 212 315.6 220 319C228 322.4 238.3 325.9 245 327.5C251.7 329.1 255.5 328.5 260 328.5C264.5 328.5 266.4 328.7 272 327.5C277.6 326.3 287 323.8 293.7 321.4C300.4 319 305.8 315.9 312 313C318.2 310.1 327.7 305.3 330.8 303.8" fill="none" stroke="#3a3a3a" stroke-width="0.45"/>
<path d="M100.1 210.4C103 214.2 110.7 224.7 117.3 233.2C123.9 241.7 133 253.3 139.6 261.1C146.2 268.9 151.5 274.5 156.9 279.9C162.3 285.4 166.4 289.1 172.1 294C177.9 298.9 184.3 304.7 191.5 309.3C198.7 313.9 206.7 318.1 215.2 321.6C223.7 325.1 235.1 328.7 242.3 330.4C249.5 332.1 253.7 331.6 258.6 331.7C263.6 331.8 266.1 332.1 271.9 331C277.8 330 287 327.9 293.7 325.7C300.4 323.4 305.8 320.6 312 317.8C318.2 315 327.7 310.4 330.8 308.9" fill="none" stroke="#3a3a3a" stroke-width="0.45"/>
<path d="M87.9 210.4C91.1 214.3 99.8 224.9 106.8 233.9C113.9 242.9 123.5 256.1 130.3 264.2C137.1 272.4 142.4 277.3 147.9 282.8C153.4 288.2 157.6 291.9 163.5 296.9C169.4 301.9 175.9 307.9 183.3 312.7C190.7 317.4 198.8 321.8 208 325.5C217.1 329.2 230.1 333 238.2 334.9C246.3 336.7 251 336.3 256.6 336.6C262.2 336.9 265.6 337.3 271.8 336.5C278 335.8 287 334.1 293.7 332.3C300.4 330.4 305.8 328 312 325.4C318.2 322.9 327.7 318.4 330.8 317" fill="none" stroke="#3a3a3a" stroke-width="0.45"/>
<path d="M75.8 210.4C79.3 214.4 89.1 225.1 96.8 234.6C104.5 244.1 114.5 258.7 121.7 267.1C128.9 275.6 134.2 279.9 139.9 285.3C145.6 290.7 149.9 294.4 156 299.4C162.1 304.4 168.8 310.6 176.5 315.5C184.2 320.4 192.4 324.9 202.2 328.7C211.9 332.5 226.2 336.4 235 338.3C243.8 340.2 248.9 339.9 255 340.3C261.1 340.7 265.2 341.1 271.7 340.5C278.1 339.9 287 338.6 293.7 336.9C300.4 335.2 305.8 332.9 312 330.5C318.2 328.1 327.7 323.6 330.8 322.2" fill="none" stroke="#3a3a3a" stroke-width="0.45"/>
<circle cx="171.1" cy="288.3" r="2.8" fill="#d9d9d9" stroke="#c7c7c7" stroke-width="0.5"/>
<circle cx="205.4" cy="320.3" r="2.8" fill="#d9d9d9" stroke="#c7c7c7" stroke-width="0.5"/>
<circle cx="182.5" cy="288.3" r="2.8" fill="#d9d9d9" stroke="#c7c7c7" stroke-width="0.5"/>
<circle cx="218.2" cy="307.1" r="2.8" fill="#d9d9d9" stroke="#c7c7c7" stroke-width="0.5"/>
<circle cx="178.4" cy="283.1" r="2.8" fill="#d9d9d9" stroke="#c7c7c7" stroke-width="0.5"/>
<circle cx="187.9" cy="300.5" r="2.8" fill="#d9d9d9" stroke="#c7c7c7" stroke-width="0.5"/>
<circle cx="188.9" cy="294.1" r="2.8" fill="#d9d9d9" stroke="#c7c7c7" stroke-width="0.5"/>
<circle cx="222.6" cy="312.7" r="2.8" fill="#d9d9d9" stroke="#c7c7c7" stroke-width="0.5"/>
<circle cx="255.8" cy="329" r="2.8" fill="#d9d9d9" stroke="#c7c7c7" stroke-width="0.5"/>
<circle cx="202" cy="293.4" r="2.8" fill="#d9d9d9" stroke="#c7c7c7" stroke-width="0.5"/>
<circle cx="248.2" cy="318.5" r="2.8" fill="#d9d9d9" stroke="#c7c7c7" stroke-width="0.5"/>
<circle cx="200.1" cy="304.2" r="2.8" fill="#d9d9d9" stroke="#c7c7c7" stroke-width="0.5"/>
<circle cx="228.2" cy="328.8" r="2.8" fill="#d9d9d9" stroke="#c7c7c7" stroke-width="0.5"/>
<circle cx="259.4" cy="326.2" r="2.8" fill="#d9d9d9" stroke="#c7c7c7" stroke-width="0.5"/>
<circle cx="197.6" cy="291.9" r="2.8" fill="#d9d9d9" stroke="#c7c7c7" stroke-width="0.5"/>
<circle cx="226.1" cy="312.6" r="2.8" fill="#d9d9d9" stroke="#c7c7c7" stroke-width="0.5"/>
<circle cx="224.1" cy="320.9" r="2.8" fill="#d9d9d9" stroke="#c7c7c7" stroke-width="0.5"/>
<circle cx="251.9" cy="318.4" r="2.8" fill="#d9d9d9" stroke="#c7c7c7" stroke-width="0.5"/>
<circle cx="210.9" cy="326.8" r="2.8" fill="#d9d9d9" stroke="#c7c7c7" stroke-width="0.5"/>
<circle cx="180.7" cy="292.9" r="2.8" fill="#d9d9d9" stroke="#c7c7c7" stroke-width="0.5"/>
<circle cx="200.2" cy="322" r="2.8" fill="#d9d9d9" stroke="#c7c7c7" stroke-width="0.5"/>
<circle cx="246.9" cy="308.6" r="2.8" fill="#d9d9d9" stroke="#c7c7c7" stroke-width="0.5"/>
<circle cx="214.8" cy="326.2" r="2.8" fill="#d9d9d9" stroke="#c7c7c7" stroke-width="0.5"/>
<circle cx="195" cy="302.9" r="2.8" fill="#d9d9d9" stroke="#c7c7c7" stroke-width="0.5"/>
<circle cx="225.1" cy="317.6" r="2.8" fill="#d9d9d9" stroke="#c7c7c7" stroke-width="0.5"/>
<circle cx="238.9" cy="337.2" r="2.8" fill="#d9d9d9" stroke="#c7c7c7" stroke-width="0.5"/>
<circle cx="203.8" cy="297.8" r="2.8" fill="#d9d9d9" stroke="#c7c7c7" stroke-width="0.5"/>
<circle cx="186.5" cy="307.5" r="2.8" fill="#d9d9d9" stroke="#c7c7c7" stroke-width="0.5"/>
<circle cx="232.5" cy="311.4" r="2.8" fill="#d9d9d9" stroke="#c7c7c7" stroke-width="0.5"/>
<circle cx="247.4" cy="304.5" r="2.8" fill="#d9d9d9" stroke="#c7c7c7" stroke-width="0.5"/>
<circle cx="217.2" cy="322.2" r="2.8" fill="#d9d9d9" stroke="#c7c7c7" stroke-width="0.5"/>
<circle cx="211.5" cy="322.2" r="2.8" fill="#d9d9d9" stroke="#c7c7c7" stroke-width="0.5"/>
<circle cx="237" cy="334.8" r="2.8" fill="#d9d9d9" stroke="#c7c7c7" stroke-width="0.5"/>
<circle cx="232.1" cy="314.5" r="2.8" fill="#d9d9d9" stroke="#c7c7c7" stroke-width="0.5"/>
<circle cx="180.7" cy="305.8" r="2.8" fill="#d9d9d9" stroke="#c7c7c7" stroke-width="0.5"/>
<circle cx="182.7" cy="303.3" r="2.8" fill="#d9d9d9" stroke="#c7c7c7" stroke-width="0.5"/>
<circle cx="197.6" cy="305.8" r="2.8" fill="#d9d9d9" stroke="#c7c7c7" stroke-width="0.5"/>
<circle cx="236.2" cy="328.3" r="2.8" fill="#d9d9d9" stroke="#c7c7c7" stroke-width="0.5"/>
<circle cx="243.6" cy="303.5" r="2.8" fill="#d9d9d9" stroke="#c7c7c7" stroke-width="0.5"/>
<circle cx="203.1" cy="325.2" r="2.8" fill="#d9d9d9" stroke="#c7c7c7" stroke-width="0.5"/>
<circle cx="175.9" cy="295.9" r="2.8" fill="#d9d9d9" stroke="#c7c7c7" stroke-width="0.5"/>
<circle cx="226.2" cy="308.9" r="2.8" fill="#d9d9d9" stroke="#c7c7c7" stroke-width="0.5"/>
<circle cx="196.7" cy="308.5" r="2.8" fill="#d9d9d9" stroke="#c7c7c7" stroke-width="0.5"/>
<circle cx="222.1" cy="304.6" r="2.8" fill="#d9d9d9" stroke="#c7c7c7" stroke-width="0.5"/>
<circle cx="224.5" cy="329.4" r="2.8" fill="#d9d9d9" stroke="#c7c7c7" stroke-width="0.5"/>
<circle cx="218.7" cy="299.9" r="2.8" fill="#d9d9d9" stroke="#c7c7c7" stroke-width="0.5"/>
<circle cx="231.6" cy="300.1" r="2.8" fill="#d9d9d9" stroke="#c7c7c7" stroke-width="0.5"/>
<circle cx="182.7" cy="284.7" r="2.8" fill="#d9d9d9" stroke="#c7c7c7" stroke-width="0.5"/>
<circle cx="206.8" cy="312.2" r="2.8" fill="#d9d9d9" stroke="#c7c7c7" stroke-width="0.5"/>
<circle cx="209.6" cy="308.9" r="2.8" fill="#d9d9d9" stroke="#c7c7c7" stroke-width="0.5"/>
<circle cx="251.1" cy="328.3" r="2.8" fill="#d9d9d9" stroke="#c7c7c7" stroke-width="0.5"/>
<circle cx="235.4" cy="301" r="2.8" fill="#d9d9d9" stroke="#c7c7c7" stroke-width="0.5"/>
<circle cx="185.2" cy="287" r="2.8" fill="#d9d9d9" stroke="#c7c7c7" stroke-width="0.5"/>
<circle cx="231.6" cy="329" r="2.8" fill="#d9d9d9" stroke="#c7c7c7" stroke-width="0.5"/>
<circle cx="210.6" cy="304.5" r="2.8" fill="#d9d9d9" stroke="#c7c7c7" stroke-width="0.5"/>
<circle cx="243.5" cy="323.2" r="2.8" fill="#d9d9d9" stroke="#c7c7c7" stroke-width="0.5"/>
<circle cx="251.9" cy="323.4" r="2.8" fill="#d9d9d9" stroke="#c7c7c7" stroke-width="0.5"/>
<circle cx="251.9" cy="306" r="2.8" fill="#d9d9d9" stroke="#c7c7c7" stroke-width="0.5"/>
<circle cx="220" cy="325.9" r="2.8" fill="#d9d9d9" stroke="#c7c7c7" stroke-width="0.5"/>
<circle cx="207.9" cy="299.5" r="2.8" fill="#d9d9d9" stroke="#c7c7c7" stroke-width="0.5"/>
<circle cx="194.5" cy="306.7" r="2.8" fill="#d9d9d9" stroke="#c7c7c7" stroke-width="0.5"/>
<circle cx="224.1" cy="299.6" r="2.8" fill="#d9d9d9" stroke="#c7c7c7" stroke-width="0.5"/>
<circle cx="246.2" cy="312.7" r="2.8" fill="#d9d9d9" stroke="#c7c7c7" stroke-width="0.5"/>
<circle cx="246.6" cy="331.5" r="2.8" fill="#d9d9d9" stroke="#c7c7c7" stroke-width="0.5"/>
<circle cx="219.6" cy="315.2" r="2.8" fill="#d9d9d9" stroke="#c7c7c7" stroke-width="0.5"/>
<circle cx="247" cy="336.6" r="2.8" fill="#d9d9d9" stroke="#c7c7c7" stroke-width="0.5"/>
<circle cx="248.9" cy="301.9" r="2.8" fill="#d9d9d9" stroke="#c7c7c7" stroke-width="0.5"/>
<circle cx="215" cy="319.1" r="2.8" fill="#d9d9d9" stroke="#c7c7c7" stroke-width="0.5"/>
<circle cx="186.9" cy="289.6" r="2.8" fill="#d9d9d9" stroke="#c7c7c7" stroke-width="0.5"/>
<circle cx="233.7" cy="323.3" r="2.8" fill="#d9d9d9" stroke="#c7c7c7" stroke-width="0.5"/>
<circle cx="247.2" cy="326" r="2.8" fill="#d9d9d9" stroke="#c7c7c7" stroke-width="0.5"/>
<circle cx="243" cy="329.5" r="2.8" fill="#d9d9d9" stroke="#c7c7c7" stroke-width="0.5"/>
<circle cx="173.3" cy="286.2" r="2.8" fill="#d9d9d9" stroke="#c7c7c7" stroke-width="0.5"/>
<circle cx="247.6" cy="321.5" r="2.8" fill="#d9d9d9" stroke="#c7c7c7" stroke-width="0.5"/>
<circle cx="224.6" cy="333.7" r="2.8" fill="#d9d9d9" stroke="#c7c7c7" stroke-width="0.5"/>
<circle cx="234.6" cy="331.4" r="2.8" fill="#d9d9d9" stroke="#c7c7c7" stroke-width="0.5"/>
<circle cx="184.9" cy="296.7" r="2.8" fill="#d9d9d9" stroke="#c7c7c7" stroke-width="0.5"/>
<circle cx="253.1" cy="313.8" r="2.8" fill="#d9d9d9" stroke="#c7c7c7" stroke-width="0.5"/>
<circle cx="214.2" cy="301.3" r="2.8" fill="#d9d9d9" stroke="#c7c7c7" stroke-width="0.5"/>
<circle cx="228.2" cy="319.1" r="2.8" fill="#d9d9d9" stroke="#c7c7c7" stroke-width="0.5"/>
<circle cx="203.8" cy="306.3" r="2.8" fill="#d9d9d9" stroke="#c7c7c7" stroke-width="0.5"/>
<circle cx="255.5" cy="308.4" r="2.8" fill="#d9d9d9" stroke="#c7c7c7" stroke-width="0.5"/>
<circle cx="239.9" cy="307.9" r="2.8" fill="#d9d9d9" stroke="#c7c7c7" stroke-width="0.5"/>
<circle cx="172.5" cy="295.4" r="2.8" fill="#d9d9d9" stroke="#c7c7c7" stroke-width="0.5"/>
<circle cx="231.7" cy="335.6" r="2.8" fill="#d9d9d9" stroke="#c7c7c7" stroke-width="0.5"/>
<circle cx="231" cy="325.3" r="2.8" fill="#d9d9d9" stroke="#c7c7c7" stroke-width="0.5"/>
<circle cx="224.6" cy="302.9" r="2.8" fill="#d9d9d9" stroke="#c7c7c7" stroke-width="0.5"/>
<circle cx="230.3" cy="309.3" r="2.8" fill="#d9d9d9" stroke="#c7c7c7" stroke-width="0.5"/>
<circle cx="238.4" cy="303.4" r="2.8" fill="#d9d9d9" stroke="#c7c7c7" stroke-width="0.5"/>
<circle cx="177.8" cy="286.2" r="2.8" fill="#d9d9d9" stroke="#c7c7c7" stroke-width="0.5"/>
<circle cx="174.4" cy="291.2" r="2.8" fill="#d9d9d9" stroke="#c7c7c7" stroke-width="0.5"/>
<circle cx="218.6" cy="331.5" r="2.8" fill="#d9d9d9" stroke="#c7c7c7" stroke-width="0.5"/>
<circle cx="190.2" cy="308.4" r="2.8" fill="#d9d9d9" stroke="#c7c7c7" stroke-width="0.5"/>
<circle cx="217" cy="328.2" r="2.8" fill="#d9d9d9" stroke="#c7c7c7" stroke-width="0.5"/>
<circle cx="232.2" cy="304" r="2.8" fill="#d9d9d9" stroke="#c7c7c7" stroke-width="0.5"/>
<circle cx="241.5" cy="319" r="2.8" fill="#d9d9d9" stroke="#c7c7c7" stroke-width="0.5"/>
<circle cx="202.1" cy="314.8" r="2.8" fill="#d9d9d9" stroke="#c7c7c7" stroke-width="0.5"/>
<circle cx="226.6" cy="305.7" r="2.8" fill="#d9d9d9" stroke="#c7c7c7" stroke-width="0.5"/>
<circle cx="192.9" cy="289.9" r="2.8" fill="#d9d9d9" stroke="#c7c7c7" stroke-width="0.5"/>
<circle cx="242.7" cy="313.3" r="2.8" fill="#d9d9d9" stroke="#c7c7c7" stroke-width="0.5"/>
<circle cx="209.2" cy="315.1" r="2.8" fill="#d9d9d9" stroke="#c7c7c7" stroke-width="0.5"/>
<circle cx="235" cy="304" r="2.8" fill="#d9d9d9" stroke="#c7c7c7" stroke-width="0.5"/>
<circle cx="233.5" cy="308.5" r="2.8" fill="#d9d9d9" stroke="#c7c7c7" stroke-width="0.5"/>
<circle cx="190.4" cy="286.7" r="2.8" fill="#d9d9d9" stroke="#c7c7c7" stroke-width="0.5"/>
<circle cx="213.7" cy="297.5" r="2.8" fill="#d9d9d9" stroke="#c7c7c7" stroke-width="0.5"/>
<circle cx="227.8" cy="302.3" r="2.8" fill="#d9d9d9" stroke="#c7c7c7" stroke-width="0.5"/>
<circle cx="227.7" cy="325.3" r="2.8" fill="#d9d9d9" stroke="#c7c7c7" stroke-width="0.5"/>
<circle cx="219.5" cy="319.7" r="2.8" fill="#d9d9d9" stroke="#c7c7c7" stroke-width="0.5"/>
<circle cx="235.9" cy="310.2" r="2.8" fill="#d9d9d9" stroke="#c7c7c7" stroke-width="0.5"/>
<circle cx="179.5" cy="289.2" r="2.8" fill="#d9d9d9" stroke="#c7c7c7" stroke-width="0.5"/>
<circle cx="238.1" cy="318.7" r="2.8" fill="#d9d9d9" stroke="#c7c7c7" stroke-width="0.5"/>
<circle cx="250.4" cy="309.7" r="2.8" fill="#d9d9d9" stroke="#c7c7c7" stroke-width="0.5"/>
<circle cx="238.3" cy="315.7" r="2.8" fill="#d9d9d9" stroke="#c7c7c7" stroke-width="0.5"/>
<circle cx="193.5" cy="298.6" r="2.8" fill="#d9d9d9" stroke="#c7c7c7" stroke-width="0.5"/>
<circle cx="201.5" cy="310.6" r="2.8" fill="#d9d9d9" stroke="#c7c7c7" stroke-width="0.5"/>
<circle cx="250.8" cy="334.7" r="2.8" fill="#d9d9d9" stroke="#c7c7c7" stroke-width="0.5"/>
<circle cx="227.8" cy="332.6" r="2.8" fill="#d9d9d9" stroke="#c7c7c7" stroke-width="0.5"/>
<circle cx="256.7" cy="317.9" r="2.8" fill="#d9d9d9" stroke="#c7c7c7" stroke-width="0.5"/>
<circle cx="192.9" cy="310.8" r="2.8" fill="#d9d9d9" stroke="#c7c7c7" stroke-width="0.5"/>
<circle cx="191.3" cy="303.6" r="2.8" fill="#d9d9d9" stroke="#c7c7c7" stroke-width="0.5"/>
<circle cx="168.3" cy="276.3" r="2.8" fill="#d9d9d9" stroke="#c7c7c7" stroke-width="0.5"/>
<circle cx="170.9" cy="288.8" r="2.8" fill="#d9d9d9" stroke="#c7c7c7" stroke-width="0.5"/>
<circle cx="166.9" cy="267.4" r="2.8" fill="#d9d9d9" stroke="#c7c7c7" stroke-width="0.5"/>
<circle cx="159.6" cy="260.8" r="2.8" fill="#d9d9d9" stroke="#c7c7c7" stroke-width="0.5"/>
<circle cx="163.6" cy="286.6" r="2.8" fill="#d9d9d9" stroke="#c7c7c7" stroke-width="0.5"/>
<circle cx="178.7" cy="282" r="2.8" fill="#d9d9d9" stroke="#c7c7c7" stroke-width="0.5"/>
<circle cx="155.9" cy="251.3" r="2.8" fill="#d9d9d9" stroke="#c7c7c7" stroke-width="0.5"/>
<circle cx="173.9" cy="272.9" r="2.8" fill="#d9d9d9" stroke="#c7c7c7" stroke-width="0.5"/>
<circle cx="151.8" cy="259.2" r="2.8" fill="#d9d9d9" stroke="#c7c7c7" stroke-width="0.5"/>
<circle cx="166.2" cy="258.5" r="2.8" fill="#d9d9d9" stroke="#c7c7c7" stroke-width="0.5"/>
<circle cx="133" cy="236" r="2.8" fill="#d9d9d9" stroke="#c7c7c7" stroke-width="0.5"/>
<circle cx="120.9" cy="363.6" r="2.8" fill="#d9d9d9" stroke="#c7c7c7" stroke-width="0.5"/>
<circle cx="95.2" cy="385.2" r="2.8" fill="#d9d9d9" stroke="#c7c7c7" stroke-width="0.5"/>
<circle cx="141.5" cy="319.7" r="2.8" fill="#d9d9d9" stroke="#c7c7c7" stroke-width="0.5"/>
<circle cx="139.4" cy="324.8" r="2.8" fill="#d9d9d9" stroke="#c7c7c7" stroke-width="0.5"/>
<circle cx="142.5" cy="327.8" r="2.8" fill="#d9d9d9" stroke="#c7c7c7" stroke-width="0.5"/>
<circle cx="172.8" cy="325.2" r="2.8" fill="#d9d9d9" stroke="#c7c7c7" stroke-width="0.5"/>
<circle cx="181.3" cy="327.8" r="2.8" fill="#d9d9d9" stroke="#c7c7c7" stroke-width="0.5"/>
<circle cx="185.4" cy="329.9" r="2.8" fill="#d9d9d9" stroke="#c7c7c7" stroke-width="0.5"/>
<circle cx="188.5" cy="337" r="2.8" fill="#d9d9d9" stroke="#c7c7c7" stroke-width="0.5"/>
<circle cx="197.7" cy="334" r="2.8" fill="#d9d9d9" stroke="#c7c7c7" stroke-width="0.5"/>
<circle cx="198.1" cy="339" r="2.8" fill="#d9d9d9" stroke="#c7c7c7" stroke-width="0.5"/>
<circle cx="176.2" cy="342.1" r="2.8" fill="#d9d9d9" stroke="#c7c7c7" stroke-width="0.5"/>
<circle cx="175.2" cy="346.2" r="2.8" fill="#d9d9d9" stroke="#c7c7c7" stroke-width="0.5"/>
<circle cx="181.3" cy="348.3" r="2.8" fill="#d9d9d9" stroke="#c7c7c7" stroke-width="0.5"/>
<circle cx="154.2" cy="296.8" r="2.8" fill="#d9d9d9" stroke="#c7c7c7" stroke-width="0.5"/>
<circle cx="160.9" cy="304.4" r="2.8" fill="#d9d9d9" stroke="#c7c7c7" stroke-width="0.5"/>
<circle cx="150" cy="288" r="2.8" fill="#d9d9d9" stroke="#c7c7c7" stroke-width="0.5"/>
<circle cx="166" cy="312" r="2.8" fill="#d9d9d9" stroke="#c7c7c7" stroke-width="0.5"/>
<circle cx="238" cy="307" r="2.7" fill="#fff" stroke="#b4b4b4" stroke-width="0.5"/>
<circle cx="243.8" cy="316.3" r="2.7" fill="#fff" stroke="#b4b4b4" stroke-width="0.5"/>
<circle cx="237" cy="316.5" r="2.7" fill="#fff" stroke="#b4b4b4" stroke-width="0.5"/>
<circle cx="252.6" cy="344.2" r="2.7" fill="#fff" stroke="#b4b4b4" stroke-width="0.5"/>
<circle cx="265" cy="315.6" r="2.7" fill="#fff" stroke="#b4b4b4" stroke-width="0.5"/>
<circle cx="246" cy="308" r="2.7" fill="#fff" stroke="#b4b4b4" stroke-width="0.5"/>
<circle cx="164.7" cy="296" r="2.7" fill="#fff" stroke="#b4b4b4" stroke-width="0.5"/>
<circle cx="159.4" cy="280" r="2.7" fill="#fff" stroke="#b4b4b4" stroke-width="0.5"/>
<circle cx="170" cy="300" r="2.7" fill="#fff" stroke="#b4b4b4" stroke-width="0.5"/>
<circle cx="186" cy="300" r="2.7" fill="#fff" stroke="#b4b4b4" stroke-width="0.5"/>
<circle cx="200" cy="300" r="2.7" fill="#fff" stroke="#b4b4b4" stroke-width="0.5"/>
<line x1="160.1" y1="239.3" x2="225.8" y2="305" stroke="#111" stroke-width="1.5" stroke-dasharray="3.6 1.7"/>
<path d="M157.3 236.5L162.4 238.8L159.6 241.6Z" fill="#000"/>
<line x1="183.7" y1="238.8" x2="231.6" y2="305.6" stroke="#111" stroke-width="1.5" stroke-dasharray="3.6 1.7"/>
<path d="M181.4 235.5L186.1 238.6L182.8 240.9Z" fill="#000"/>
<rect x="117.2" y="223.6" width="10" height="6.8" fill="#fff"/>
<text x="122.2" y="229.3" font-size="6.3" text-anchor="middle" font-weight="normal" fill="#111">0.1</text>
<rect x="109.1" y="228.4" width="10" height="6.8" fill="#fff"/>
<text x="114.1" y="234.1" font-size="6.3" text-anchor="middle" font-weight="normal" fill="#111">0.5</text>
<rect x="103.4" y="234.1" width="10" height="6.8" fill="#fff"/>
<text x="108.4" y="239.8" font-size="6.3" text-anchor="middle" font-weight="normal" fill="#111">1.0</text>
<rect x="96.5" y="240.4" width="10" height="6.8" fill="#fff"/>
<text x="101.5" y="246.1" font-size="6.3" text-anchor="middle" font-weight="normal" fill="#111">1.5</text>
<line x1="219.9" y1="241.3" x2="200.7" y2="259.7" stroke="#222" stroke-width="0.5"/>
<line x1="283.6" y1="290" x2="273.9" y2="310.4" stroke="#222" stroke-width="0.5"/>
<line x1="131.4" y1="341.8" x2="175" y2="313.5" stroke="#222" stroke-width="0.5"/>
<line x1="113.5" y1="274.5" x2="122" y2="268.5" stroke="#222" stroke-width="0.5"/>
<line x1="257" y1="337.6" x2="260.7" y2="345.7" stroke="#222" stroke-width="0.5"/>
<path d="M157.1 265.9V283.9M155.7 265.9H158.5M155.7 283.9H158.5" stroke="#6e6e6e" stroke-width="0.6" fill="none"/>
<path d="M148.4 276.2V294.2M147 276.2H149.8M147 294.2H149.8" stroke="#6e6e6e" stroke-width="0.6" fill="none"/>
<path d="M163.5 274.7V292.7M162.1 274.7H164.9M162.1 292.7H164.9" stroke="#6e6e6e" stroke-width="0.6" fill="none"/>
<path d="M181.4 267.5V285.5M180 267.5H182.8M180 285.5H182.8" stroke="#6e6e6e" stroke-width="0.6" fill="none"/>
<path d="M175.9 288V306M174.5 288H177.3M174.5 306H177.3" stroke="#6e6e6e" stroke-width="0.6" fill="none"/>
<path d="M176.8 303.1V321.1M175.4 303.1H178.2M175.4 321.1H178.2" stroke="#6e6e6e" stroke-width="0.6" fill="none"/>
<circle cx="138.8" cy="295.6" r="4.05" fill="#c00000" stroke="#1a1a1a" stroke-width="0.5"/>
<circle cx="180.1" cy="301.6" r="4.05" fill="#c00000" stroke="#1a1a1a" stroke-width="0.5"/>
<circle cx="178.8" cy="304.9" r="4.05" fill="#c00000" stroke="#1a1a1a" stroke-width="0.5"/>
<circle cx="208.4" cy="306.2" r="4.05" fill="#c00000" stroke="#1a1a1a" stroke-width="0.5"/>
<circle cx="208.4" cy="309" r="4.05" fill="#c00000" stroke="#1a1a1a" stroke-width="0.5"/>
<circle cx="170.4" cy="280.2" r="4.05" fill="#ffc000" stroke="#1a1a1a" stroke-width="0.5"/>
<circle cx="184.1" cy="289.5" r="4.05" fill="#ffc000" stroke="#1a1a1a" stroke-width="0.5"/>
<circle cx="174.1" cy="292.1" r="4.05" fill="#ffc000" stroke="#1a1a1a" stroke-width="0.5"/>
<circle cx="182.6" cy="294.8" r="4.05" fill="#ffc000" stroke="#1a1a1a" stroke-width="0.5"/>
<circle cx="232.3" cy="328" r="4.05" fill="#ffc000" stroke="#1a1a1a" stroke-width="0.5"/>
<path d="M157.1 270.6L161.4 274.9L157.1 279.2L152.8 274.9Z" fill="#fff2b3" stroke="#1a1a1a" stroke-width="0.5"/>
<circle cx="155" cy="277" r="0.9" fill="#111"/>
<path d="M148.4 280.9L152.7 285.2L148.4 289.5L144.1 285.2Z" fill="#fff2b3" stroke="#1a1a1a" stroke-width="0.5"/>
<circle cx="146.3" cy="287.3" r="0.9" fill="#111"/>
<path d="M163.5 279.4L167.8 283.7L163.5 288L159.2 283.7Z" fill="#fff2b3" stroke="#1a1a1a" stroke-width="0.5"/>
<circle cx="161.4" cy="285.8" r="0.9" fill="#111"/>
<path d="M181.4 272.2L185.7 276.5L181.4 280.8L177.1 276.5Z" fill="#fff2b3" stroke="#1a1a1a" stroke-width="0.5"/>
<circle cx="179.3" cy="278.6" r="0.9" fill="#111"/>
<path d="M175.9 292.7L180.2 297L175.9 301.3L171.6 297Z" fill="#fff2b3" stroke="#1a1a1a" stroke-width="0.5"/>
<circle cx="173.8" cy="299.1" r="0.9" fill="#111"/>
<path d="M176.8 307.8L181.1 312.1L176.8 316.4L172.5 312.1Z" fill="#fff2b3" stroke="#1a1a1a" stroke-width="0.5"/>
<circle cx="174.7" cy="314.2" r="0.9" fill="#111"/>
<line x1="139.6" y1="286.9" x2="208.4" y2="297.8" stroke="#d21f1f" stroke-width="1.7" stroke-dasharray="5 1.6"/>
<line x1="137.6" y1="311.6" x2="206.5" y2="318.8" stroke="#d21f1f" stroke-width="1.7" stroke-dasharray="5 1.6"/>
<line x1="175.9" y1="293" x2="229.4" y2="307" stroke="#f5b81c" stroke-width="1.7" stroke-dasharray="5 1.6"/>
<line x1="195" y1="319.8" x2="231.3" y2="326.5" stroke="#f5b81c" stroke-width="1.7" stroke-dasharray="5 1.6"/>
<path d="M190.2 302.3L194.1 310.5L186.3 310.5Z" fill="#0b6fc2" stroke="#1a1a1a" stroke-width="0.5"/>
<path d="M196 302.3L199.9 310.5L192.1 310.5Z" fill="#0b6fc2" stroke="#1a1a1a" stroke-width="0.5"/>
<path d="M193.1 306.5L197 314.7L189.2 314.7Z" fill="#0b6fc2" stroke="#1a1a1a" stroke-width="0.5"/>
<path d="M196.9 309.3L200.8 317.5L193 317.5Z" fill="#0b6fc2" stroke="#1a1a1a" stroke-width="0.5"/>
<path d="M199.8 286.3L204.2 290.7L199.8 295.1L195.4 290.7Z" fill="#0b6fc2" stroke="#1a1a1a" stroke-width="0.5"/>
<path d="M214.1 310.6L218.5 315L214.1 319.4L209.7 315Z" fill="#0b6fc2" stroke="#1a1a1a" stroke-width="0.5"/>
<path d="M210.3 313.5L214.7 317.9L210.3 322.3L205.9 317.9Z" fill="#0b6fc2" stroke="#1a1a1a" stroke-width="0.5"/>
<path d="M228.5 309.6L232.9 314L228.5 318.4L224.1 314Z" fill="#0b6fc2" stroke="#1a1a1a" stroke-width="0.5"/>
<path d="M232.3 312.5L236.7 316.9L232.3 321.3L227.9 316.9Z" fill="#0b6fc2" stroke="#1a1a1a" stroke-width="0.5"/>
<path d="M225.6 318.3L230 322.7L225.6 327.1L221.2 322.7Z" fill="#0b6fc2" stroke="#1a1a1a" stroke-width="0.5"/>
<path d="M222.3 319.3L226.7 323.7L222.3 328.1L217.9 323.7Z" fill="#0b6fc2" stroke="#1a1a1a" stroke-width="0.5"/>
<path d="M206 319.1L210.4 323.5L206 327.9L201.6 323.5Z" fill="#0b6fc2" stroke="#1a1a1a" stroke-width="0.5"/>
<path d="M209 322.6L213.4 327L209 331.4L204.6 327Z" fill="#0b6fc2" stroke="#1a1a1a" stroke-width="0.5"/>
<path d="M210.3 327.1L214.7 331.5L210.3 335.9L205.9 331.5Z" fill="#0b6fc2" stroke="#1a1a1a" stroke-width="0.5"/>
<line x1="189.3" y1="310.2" x2="229.4" y2="308.3" stroke="#3a82d8" stroke-width="1.7" stroke-dasharray="5 1.6"/>
<line x1="190.2" y1="328.8" x2="229.4" y2="327.4" stroke="#3a82d8" stroke-width="1.7" stroke-dasharray="5 1.6"/>
<circle cx="252.6" cy="333.5" r="4.05" fill="#0b6fc2" stroke="#1a1a1a" stroke-width="0.5"/>
<circle cx="255.6" cy="332.4" r="4.05" fill="#0b6fc2" stroke="#1a1a1a" stroke-width="0.5"/>
<circle cx="260" cy="333.9" r="4.05" fill="#0b6fc2" stroke="#1a1a1a" stroke-width="0.5"/>
<circle cx="264.4" cy="334.9" r="4.05" fill="#0b6fc2" stroke="#1a1a1a" stroke-width="0.5"/>
<circle cx="266.6" cy="330.2" r="4.05" fill="#0b6fc2" stroke="#1a1a1a" stroke-width="0.5"/>
<circle cx="269.5" cy="332.4" r="4.05" fill="#0b6fc2" stroke="#1a1a1a" stroke-width="0.5"/>
<circle cx="274.6" cy="333.5" r="4.05" fill="#0b6fc2" stroke="#1a1a1a" stroke-width="0.5"/>
<circle cx="282" cy="333.9" r="4.05" fill="#0b6fc2" stroke="#1a1a1a" stroke-width="0.5"/>
<circle cx="286.4" cy="331.7" r="4.05" fill="#0b6fc2" stroke="#1a1a1a" stroke-width="0.5"/>
<circle cx="289.3" cy="333.9" r="4.05" fill="#0b6fc2" stroke="#1a1a1a" stroke-width="0.5"/>
<circle cx="290" cy="335.4" r="4.05" fill="#0b6fc2" stroke="#1a1a1a" stroke-width="0.5"/>
<rect x="270.6" y="322.5" width="9.6" height="9.6" fill="#000"/>
<path d="M270.6 327.3H280.2M275.4 322.5V332.1" stroke="#e8e8e8" stroke-width="1.1"/>
<line x1="251.9" y1="317" x2="288.6" y2="311.2" stroke="#111" stroke-width="1.5" stroke-dasharray="5 1.6"/>
<line x1="252.3" y1="334.4" x2="288.6" y2="330" stroke="#111" stroke-width="1.5" stroke-dasharray="5 1.6"/>
<text x="292" y="311.4" font-size="6.3" text-anchor="start" font-weight="normal" fill="#111">0.1</text>
<text x="258.5" y="352.8" font-size="6.3" text-anchor="start" font-weight="normal" fill="#111">1.5</text>
<text x="122.7" y="289.1" font-size="6.3" text-anchor="start" font-weight="normal" fill="#111">0.1</text>
<text x="122.7" y="313" font-size="6.3" text-anchor="start" font-weight="normal" fill="#111">1.5</text>
<path d="M329 327.2C320 332 309 337.6 300.5 338.9" fill="none" stroke="#1fa84f" stroke-width="2.1"/>
<path d="M293.4 339.9L301.8 335.5L302.8 341.4Z" fill="#1fa84f"/>
<rect x="143.3" y="345.8" width="42" height="25.5" fill="none" stroke="#222" stroke-width="0.7"/>
<path d="M147.7 353.9L151.4 357.6L147.7 361.3L144 357.6Z" fill="#ffc000" stroke="#1a1a1a" stroke-width="0.5"/>
<path d="M156.9 351.5L160.6 355.2L156.9 358.9L153.2 355.2Z" fill="#ffc000" stroke="#1a1a1a" stroke-width="0.5"/>
<path d="M163 347.3L166.7 351L163 354.7L159.3 351Z" fill="#ffc000" stroke="#1a1a1a" stroke-width="0.5"/>
<path d="M164.3 349.4L168 353.1L164.3 356.8L160.6 353.1Z" fill="#ffc000" stroke="#1a1a1a" stroke-width="0.5"/>
<path d="M175.6 362.6L179.3 366.3L175.6 370L171.9 366.3Z" fill="#ffc000" stroke="#1a1a1a" stroke-width="0.5"/>
<path d="M178.2 363.6L181.9 367.3L178.2 371L174.5 367.3Z" fill="#ffc000" stroke="#1a1a1a" stroke-width="0.5"/>
<path d="M181.4 364.4L185.1 368.1L181.4 371.8L177.7 368.1Z" fill="#ffc000" stroke="#1a1a1a" stroke-width="0.5"/>
<text x="161.2" y="382" font-size="10" text-anchor="middle" font-weight="normal" fill="#111">Degassed</text>
<text x="221.7" y="224.4" font-size="10" text-anchor="start" font-weight="normal" fill="#111">Trajectory of S</text>
<text x="221.7" y="236.2" font-size="10" text-anchor="start" font-weight="normal" fill="#111">incompatibility</text>
<text x="72.9" y="284.3" font-size="10" fill="#111">[S]<tspan font-size="6.5" dy="2.3" dx="0.4">SULF-SAT</tspan></text>
<text x="94.9" y="297.7" font-size="10" text-anchor="middle" font-weight="normal" fill="#111">MORB</text>
<text x="94.7" y="312.4" font-size="10" text-anchor="middle" font-weight="normal" fill="#111">(GPa)</text>
<text x="68.7" y="329.1" font-size="10" text-anchor="start" font-weight="normal" fill="#111">S* = estimated</text>
<text x="99.7" y="343.8" font-size="10" text-anchor="middle" font-weight="normal" fill="#111">[S] prior to</text>
<text x="99.7" y="355.3" font-size="10" text-anchor="middle" font-weight="normal" fill="#111">degassing</text>
<text x="263.8" y="270.7" font-size="10" fill="#111">[S]<tspan font-size="6.5" dy="2.3" dx="0.4">SULF-SAT</tspan></text>
<text x="285.3" y="285.9" font-size="10" text-anchor="middle" font-weight="normal" fill="#111">OPB</text>
<text x="300" y="352.5" font-size="10" text-anchor="middle" font-weight="normal" fill="#111">Olivine</text>
<text x="301.4" y="364.6" font-size="10" text-anchor="middle" font-weight="normal" fill="#111">fractionation</text>
<text x="266.3" y="377" font-size="10" text-anchor="start" font-weight="normal" fill="#111">Plagioclase</text>
<text x="291.6" y="388.9" font-size="10" text-anchor="middle" font-weight="normal" fill="#111">in</text>
<path d="M264.2 375.4C260.1 379.5 256.1 379 253.1 376.5C250.1 374 247.1 375.5 244.6 377.2" fill="none" stroke="#111" stroke-width="0.7"/>
<path d="M242.1 378.6L244.6 375.3L246.2 378.2Z" fill="#000"/>
<text x="45.6" y="396.3" font-size="11.5" text-anchor="end" font-weight="normal" fill="#111">0</text>
<text x="45.6" y="359.9" font-size="11.5" text-anchor="end" font-weight="normal" fill="#111">500</text>
<text x="45.6" y="323.5" font-size="11.5" text-anchor="end" font-weight="normal" fill="#111">1000</text>
<text x="45.6" y="287" font-size="11.5" text-anchor="end" font-weight="normal" fill="#111">1500</text>
<text x="45.6" y="250.6" font-size="11.5" text-anchor="end" font-weight="normal" fill="#111">2000</text>
<text x="45.6" y="214.2" font-size="11.5" text-anchor="end" font-weight="normal" fill="#111">2500</text>
<path d="M54.5 210.4H331.3V392.5H54.5ZM54.5 388.5V396.5M82.2 389.5V395.5M109.9 388.5V396.5M137.5 389.5V395.5M165.2 388.5V396.5M192.9 389.5V395.5M220.6 388.5V396.5M248.3 389.5V395.5M275.9 388.5V396.5M303.6 389.5V395.5M331.3 388.5V396.5M50.5 392.5H58.5M54.5 385.2H58.1M54.5 377.9H58.1M54.5 370.6H58.1M54.5 363.4H58.1M50.5 356.1H58.5M54.5 348.8H58.1M54.5 341.5H58.1M54.5 334.2H58.1M54.5 326.9H58.1M50.5 319.7H58.5M54.5 312.4H58.1M54.5 305.1H58.1M54.5 297.8H58.1M54.5 290.5H58.1M50.5 283.2H58.5M54.5 276H58.1M54.5 268.7H58.1M54.5 261.4H58.1M54.5 254.1H58.1M50.5 246.8H58.5M54.5 239.5H58.1M54.5 232.3H58.1M54.5 225H58.1M54.5 217.7H58.1M50.5 210.4H58.5" fill="none" stroke="#1a1a1a" stroke-width="0.8"/>
<text x="54.5" y="409.7" font-size="11.5" text-anchor="middle" font-weight="normal" fill="#111">2</text>
<text x="109.9" y="409.7" font-size="11.5" text-anchor="middle" font-weight="normal" fill="#111">4</text>
<text x="165.2" y="409.7" font-size="11.5" text-anchor="middle" font-weight="normal" fill="#111">6</text>
<text x="220.6" y="409.7" font-size="11.5" text-anchor="middle" font-weight="normal" fill="#111">8</text>
<text x="275.9" y="409.7" font-size="11.5" text-anchor="middle" font-weight="normal" fill="#111">10</text>
<text x="331.3" y="409.7" font-size="11.5" text-anchor="middle" font-weight="normal" fill="#111">12</text>
<text x="192.9" y="425.7" font-size="11.5" text-anchor="middle" font-weight="normal" fill="#111">MgO (wt. %)</text>
<path d="M54.5 366.8H81.4V392.5" fill="none" stroke="#1a1a1a" stroke-width="0.8"/>
<text x="67.5" y="384.4" font-size="16" text-anchor="middle" font-weight="bold" fill="#000">c</text>
<text x="9.6" y="303.4" font-size="11.5" text-anchor="middle" font-weight="normal" fill="#111" transform="rotate(-90 9.6 303.4)">S or S*(ppm)</text>
<rect x="530" y="210.4" width="20.2" height="182.1" fill="#f1f1f1"/>
<clipPath id="hc4"><path d="M480.3 232.2L497.6 231.8L538 299.6L527.5 292.7Z"/></clipPath>
<path d="M421.3 283L542.1 178M423.6 285.7L544.4 180.7M425.9 288.3L546.7 183.3M428.2 290.9L549 186M430.5 293.6L551.3 188.6M432.8 296.2L553.5 191.3M435.1 298.9L555.8 193.9M437.4 301.5L558.1 196.5M439.7 304.1L560.4 199.2M442 306.8L562.7 201.8M444.3 309.4L565 204.5M446.6 312.1L567.3 207.1M448.9 314.7L569.6 209.7M451.2 317.4L571.9 212.4M453.5 320L574.2 215M455.8 322.6L576.5 217.7M458.1 325.3L578.8 220.3M460.3 327.9L581.1 223M462.6 330.6L583.4 225.6M464.9 333.2L585.7 228.2M467.2 335.8L588 230.9M469.5 338.5L590.3 233.5M471.8 341.1L592.6 236.2M474.1 343.8L594.9 238.8M476.4 346.4L597.2 241.4M478.7 349.1L599.5 244.1" stroke="#8c8c8c" stroke-width="0.75" fill="none" clip-path="url(#hc4)"/>
<circle cx="498.4" cy="298.3" r="2.8" fill="#d9d9d9" stroke="#c7c7c7" stroke-width="0.5"/>
<circle cx="516.7" cy="320.8" r="2.8" fill="#d9d9d9" stroke="#c7c7c7" stroke-width="0.5"/>
<circle cx="514.4" cy="305.8" r="2.8" fill="#d9d9d9" stroke="#c7c7c7" stroke-width="0.5"/>
<circle cx="531" cy="315.2" r="2.8" fill="#d9d9d9" stroke="#c7c7c7" stroke-width="0.5"/>
<circle cx="535.7" cy="319.4" r="2.8" fill="#d9d9d9" stroke="#c7c7c7" stroke-width="0.5"/>
<circle cx="541.1" cy="308.5" r="2.8" fill="#d9d9d9" stroke="#c7c7c7" stroke-width="0.5"/>
<circle cx="477.4" cy="294.3" r="2.8" fill="#d9d9d9" stroke="#c7c7c7" stroke-width="0.5"/>
<circle cx="530.3" cy="295.2" r="2.8" fill="#d9d9d9" stroke="#c7c7c7" stroke-width="0.5"/>
<circle cx="523.9" cy="317.4" r="2.8" fill="#d9d9d9" stroke="#c7c7c7" stroke-width="0.5"/>
<circle cx="541.2" cy="297.6" r="2.8" fill="#d9d9d9" stroke="#c7c7c7" stroke-width="0.5"/>
<circle cx="530.5" cy="322.9" r="2.8" fill="#d9d9d9" stroke="#c7c7c7" stroke-width="0.5"/>
<circle cx="474.6" cy="319.8" r="2.8" fill="#d9d9d9" stroke="#c7c7c7" stroke-width="0.5"/>
<circle cx="468" cy="302.6" r="2.8" fill="#d9d9d9" stroke="#c7c7c7" stroke-width="0.5"/>
<circle cx="520.7" cy="316.8" r="2.8" fill="#d9d9d9" stroke="#c7c7c7" stroke-width="0.5"/>
<circle cx="541.7" cy="301.8" r="2.8" fill="#d9d9d9" stroke="#c7c7c7" stroke-width="0.5"/>
<circle cx="500.9" cy="319.5" r="2.8" fill="#d9d9d9" stroke="#c7c7c7" stroke-width="0.5"/>
<circle cx="508.9" cy="306.3" r="2.8" fill="#d9d9d9" stroke="#c7c7c7" stroke-width="0.5"/>
<circle cx="505.6" cy="322.7" r="2.8" fill="#d9d9d9" stroke="#c7c7c7" stroke-width="0.5"/>
<circle cx="502.6" cy="323.5" r="2.8" fill="#d9d9d9" stroke="#c7c7c7" stroke-width="0.5"/>
<circle cx="513.2" cy="330.1" r="2.8" fill="#d9d9d9" stroke="#c7c7c7" stroke-width="0.5"/>
<circle cx="523.9" cy="302.8" r="2.8" fill="#d9d9d9" stroke="#c7c7c7" stroke-width="0.5"/>
<circle cx="524" cy="323.7" r="2.8" fill="#d9d9d9" stroke="#c7c7c7" stroke-width="0.5"/>
<circle cx="519.6" cy="307.5" r="2.8" fill="#d9d9d9" stroke="#c7c7c7" stroke-width="0.5"/>
<circle cx="485.5" cy="308.4" r="2.8" fill="#d9d9d9" stroke="#c7c7c7" stroke-width="0.5"/>
<circle cx="531.2" cy="320.3" r="2.8" fill="#d9d9d9" stroke="#c7c7c7" stroke-width="0.5"/>
<circle cx="501.2" cy="309.1" r="2.8" fill="#d9d9d9" stroke="#c7c7c7" stroke-width="0.5"/>
<circle cx="553" cy="300.5" r="2.8" fill="#d9d9d9" stroke="#c7c7c7" stroke-width="0.5"/>
<circle cx="482.7" cy="320.6" r="2.8" fill="#d9d9d9" stroke="#c7c7c7" stroke-width="0.5"/>
<circle cx="488.8" cy="331" r="2.8" fill="#d9d9d9" stroke="#c7c7c7" stroke-width="0.5"/>
<circle cx="493.3" cy="332.3" r="2.8" fill="#d9d9d9" stroke="#c7c7c7" stroke-width="0.5"/>
<circle cx="498.3" cy="330.4" r="2.8" fill="#d9d9d9" stroke="#c7c7c7" stroke-width="0.5"/>
<circle cx="482.9" cy="295" r="2.8" fill="#d9d9d9" stroke="#c7c7c7" stroke-width="0.5"/>
<circle cx="525" cy="290.2" r="2.8" fill="#d9d9d9" stroke="#c7c7c7" stroke-width="0.5"/>
<circle cx="485.1" cy="314.8" r="2.8" fill="#d9d9d9" stroke="#c7c7c7" stroke-width="0.5"/>
<circle cx="477.4" cy="303.1" r="2.8" fill="#d9d9d9" stroke="#c7c7c7" stroke-width="0.5"/>
<circle cx="514.4" cy="311.4" r="2.8" fill="#d9d9d9" stroke="#c7c7c7" stroke-width="0.5"/>
<circle cx="517.8" cy="333.1" r="2.8" fill="#d9d9d9" stroke="#c7c7c7" stroke-width="0.5"/>
<circle cx="522.4" cy="312.1" r="2.8" fill="#d9d9d9" stroke="#c7c7c7" stroke-width="0.5"/>
<circle cx="523.4" cy="295.7" r="2.8" fill="#d9d9d9" stroke="#c7c7c7" stroke-width="0.5"/>
<circle cx="530.7" cy="325.4" r="2.8" fill="#d9d9d9" stroke="#c7c7c7" stroke-width="0.5"/>
<circle cx="469.7" cy="312" r="2.8" fill="#d9d9d9" stroke="#c7c7c7" stroke-width="0.5"/>
<circle cx="518.4" cy="304.2" r="2.8" fill="#d9d9d9" stroke="#c7c7c7" stroke-width="0.5"/>
<circle cx="526.4" cy="332.2" r="2.8" fill="#d9d9d9" stroke="#c7c7c7" stroke-width="0.5"/>
<circle cx="547.3" cy="302.1" r="2.8" fill="#d9d9d9" stroke="#c7c7c7" stroke-width="0.5"/>
<circle cx="477.1" cy="328.8" r="2.8" fill="#d9d9d9" stroke="#c7c7c7" stroke-width="0.5"/>
<circle cx="519.9" cy="327.6" r="2.8" fill="#d9d9d9" stroke="#c7c7c7" stroke-width="0.5"/>
<circle cx="485.2" cy="311.5" r="2.8" fill="#d9d9d9" stroke="#c7c7c7" stroke-width="0.5"/>
<circle cx="518.3" cy="298.4" r="2.8" fill="#d9d9d9" stroke="#c7c7c7" stroke-width="0.5"/>
<circle cx="480" cy="310.2" r="2.8" fill="#d9d9d9" stroke="#c7c7c7" stroke-width="0.5"/>
<circle cx="481.2" cy="326.3" r="2.8" fill="#d9d9d9" stroke="#c7c7c7" stroke-width="0.5"/>
<circle cx="493" cy="305" r="2.8" fill="#d9d9d9" stroke="#c7c7c7" stroke-width="0.5"/>
<circle cx="483.6" cy="329.8" r="2.8" fill="#d9d9d9" stroke="#c7c7c7" stroke-width="0.5"/>
<circle cx="510.8" cy="294.3" r="2.8" fill="#d9d9d9" stroke="#c7c7c7" stroke-width="0.5"/>
<circle cx="534.3" cy="322.6" r="2.8" fill="#d9d9d9" stroke="#c7c7c7" stroke-width="0.5"/>
<circle cx="512" cy="315.7" r="2.8" fill="#d9d9d9" stroke="#c7c7c7" stroke-width="0.5"/>
<circle cx="527.1" cy="311" r="2.8" fill="#d9d9d9" stroke="#c7c7c7" stroke-width="0.5"/>
<circle cx="508.1" cy="324" r="2.8" fill="#d9d9d9" stroke="#c7c7c7" stroke-width="0.5"/>
<circle cx="472.9" cy="306" r="2.8" fill="#d9d9d9" stroke="#c7c7c7" stroke-width="0.5"/>
<circle cx="533" cy="305.2" r="2.8" fill="#d9d9d9" stroke="#c7c7c7" stroke-width="0.5"/>
<circle cx="536.9" cy="291.2" r="2.8" fill="#d9d9d9" stroke="#c7c7c7" stroke-width="0.5"/>
<circle cx="497.5" cy="304.2" r="2.8" fill="#d9d9d9" stroke="#c7c7c7" stroke-width="0.5"/>
<circle cx="543.3" cy="295.5" r="2.8" fill="#d9d9d9" stroke="#c7c7c7" stroke-width="0.5"/>
<circle cx="544.7" cy="320.9" r="2.8" fill="#d9d9d9" stroke="#c7c7c7" stroke-width="0.5"/>
<circle cx="495.2" cy="295.2" r="2.8" fill="#d9d9d9" stroke="#c7c7c7" stroke-width="0.5"/>
<circle cx="546.7" cy="310.1" r="2.8" fill="#d9d9d9" stroke="#c7c7c7" stroke-width="0.5"/>
<circle cx="508" cy="299.4" r="2.8" fill="#d9d9d9" stroke="#c7c7c7" stroke-width="0.5"/>
<circle cx="488.3" cy="320.9" r="2.8" fill="#d9d9d9" stroke="#c7c7c7" stroke-width="0.5"/>
<circle cx="547.1" cy="299.1" r="2.8" fill="#d9d9d9" stroke="#c7c7c7" stroke-width="0.5"/>
<circle cx="538.6" cy="323.9" r="2.8" fill="#d9d9d9" stroke="#c7c7c7" stroke-width="0.5"/>
<circle cx="486.3" cy="328.8" r="2.8" fill="#d9d9d9" stroke="#c7c7c7" stroke-width="0.5"/>
<circle cx="488.2" cy="291.5" r="2.8" fill="#d9d9d9" stroke="#c7c7c7" stroke-width="0.5"/>
<circle cx="513.6" cy="323.9" r="2.8" fill="#d9d9d9" stroke="#c7c7c7" stroke-width="0.5"/>
<circle cx="501.6" cy="333.3" r="2.8" fill="#d9d9d9" stroke="#c7c7c7" stroke-width="0.5"/>
<circle cx="504.9" cy="319.1" r="2.8" fill="#d9d9d9" stroke="#c7c7c7" stroke-width="0.5"/>
<circle cx="479.1" cy="307.6" r="2.8" fill="#d9d9d9" stroke="#c7c7c7" stroke-width="0.5"/>
<circle cx="471.2" cy="314.7" r="2.8" fill="#d9d9d9" stroke="#c7c7c7" stroke-width="0.5"/>
<circle cx="520.8" cy="335.1" r="2.8" fill="#d9d9d9" stroke="#c7c7c7" stroke-width="0.5"/>
<circle cx="505.5" cy="291" r="2.8" fill="#d9d9d9" stroke="#c7c7c7" stroke-width="0.5"/>
<circle cx="537.8" cy="320.8" r="2.8" fill="#d9d9d9" stroke="#c7c7c7" stroke-width="0.5"/>
<circle cx="515.8" cy="309.2" r="2.8" fill="#d9d9d9" stroke="#c7c7c7" stroke-width="0.5"/>
<circle cx="503.1" cy="300.3" r="2.8" fill="#d9d9d9" stroke="#c7c7c7" stroke-width="0.5"/>
<circle cx="466.2" cy="317.3" r="2.8" fill="#d9d9d9" stroke="#c7c7c7" stroke-width="0.5"/>
<circle cx="520.4" cy="291.2" r="2.8" fill="#d9d9d9" stroke="#c7c7c7" stroke-width="0.5"/>
<circle cx="543.4" cy="313.3" r="2.8" fill="#d9d9d9" stroke="#c7c7c7" stroke-width="0.5"/>
<circle cx="498.8" cy="310.1" r="2.8" fill="#d9d9d9" stroke="#c7c7c7" stroke-width="0.5"/>
<circle cx="511.3" cy="312" r="2.8" fill="#d9d9d9" stroke="#c7c7c7" stroke-width="0.5"/>
<circle cx="526.9" cy="301.2" r="2.8" fill="#d9d9d9" stroke="#c7c7c7" stroke-width="0.5"/>
<circle cx="488.1" cy="300.2" r="2.8" fill="#d9d9d9" stroke="#c7c7c7" stroke-width="0.5"/>
<circle cx="508.8" cy="291.3" r="2.8" fill="#d9d9d9" stroke="#c7c7c7" stroke-width="0.5"/>
<circle cx="540.1" cy="291" r="2.8" fill="#d9d9d9" stroke="#c7c7c7" stroke-width="0.5"/>
<circle cx="537.6" cy="300.2" r="2.8" fill="#d9d9d9" stroke="#c7c7c7" stroke-width="0.5"/>
<circle cx="536.3" cy="326.2" r="2.8" fill="#d9d9d9" stroke="#c7c7c7" stroke-width="0.5"/>
<circle cx="514.7" cy="332.7" r="2.8" fill="#d9d9d9" stroke="#c7c7c7" stroke-width="0.5"/>
<circle cx="513.4" cy="299.3" r="2.8" fill="#d9d9d9" stroke="#c7c7c7" stroke-width="0.5"/>
<circle cx="483.3" cy="291.1" r="2.8" fill="#d9d9d9" stroke="#c7c7c7" stroke-width="0.5"/>
<circle cx="495.5" cy="310.5" r="2.8" fill="#d9d9d9" stroke="#c7c7c7" stroke-width="0.5"/>
<circle cx="534" cy="294.3" r="2.8" fill="#d9d9d9" stroke="#c7c7c7" stroke-width="0.5"/>
<circle cx="471.9" cy="308.9" r="2.8" fill="#d9d9d9" stroke="#c7c7c7" stroke-width="0.5"/>
<circle cx="489.9" cy="310.3" r="2.8" fill="#d9d9d9" stroke="#c7c7c7" stroke-width="0.5"/>
<circle cx="484.4" cy="304" r="2.8" fill="#d9d9d9" stroke="#c7c7c7" stroke-width="0.5"/>
<circle cx="473.4" cy="301.2" r="2.8" fill="#d9d9d9" stroke="#c7c7c7" stroke-width="0.5"/>
<circle cx="549" cy="316.1" r="2.8" fill="#d9d9d9" stroke="#c7c7c7" stroke-width="0.5"/>
<circle cx="500.8" cy="293.4" r="2.8" fill="#d9d9d9" stroke="#c7c7c7" stroke-width="0.5"/>
<circle cx="501" cy="328" r="2.8" fill="#d9d9d9" stroke="#c7c7c7" stroke-width="0.5"/>
<circle cx="552.6" cy="306.5" r="2.8" fill="#d9d9d9" stroke="#c7c7c7" stroke-width="0.5"/>
<circle cx="529.2" cy="330.7" r="2.8" fill="#d9d9d9" stroke="#c7c7c7" stroke-width="0.5"/>
<circle cx="490" cy="306.4" r="2.8" fill="#d9d9d9" stroke="#c7c7c7" stroke-width="0.5"/>
<circle cx="521.7" cy="288.7" r="2.8" fill="#d9d9d9" stroke="#c7c7c7" stroke-width="0.5"/>
<circle cx="493.4" cy="327.9" r="2.8" fill="#d9d9d9" stroke="#c7c7c7" stroke-width="0.5"/>
<circle cx="500.4" cy="289.8" r="2.8" fill="#d9d9d9" stroke="#c7c7c7" stroke-width="0.5"/>
<circle cx="506.7" cy="313.5" r="2.8" fill="#d9d9d9" stroke="#c7c7c7" stroke-width="0.5"/>
<circle cx="506.7" cy="307.6" r="2.8" fill="#d9d9d9" stroke="#c7c7c7" stroke-width="0.5"/>
<circle cx="504.3" cy="308.9" r="2.8" fill="#d9d9d9" stroke="#c7c7c7" stroke-width="0.5"/>
<circle cx="534.6" cy="298.7" r="2.8" fill="#d9d9d9" stroke="#c7c7c7" stroke-width="0.5"/>
<circle cx="467.7" cy="319.8" r="2.8" fill="#d9d9d9" stroke="#c7c7c7" stroke-width="0.5"/>
<circle cx="494.3" cy="299.3" r="2.8" fill="#d9d9d9" stroke="#c7c7c7" stroke-width="0.5"/>
<circle cx="465.3" cy="308.2" r="2.8" fill="#d9d9d9" stroke="#c7c7c7" stroke-width="0.5"/>
<circle cx="499.8" cy="313.2" r="2.8" fill="#d9d9d9" stroke="#c7c7c7" stroke-width="0.5"/>
<circle cx="472.7" cy="317.7" r="2.8" fill="#d9d9d9" stroke="#c7c7c7" stroke-width="0.5"/>
<circle cx="519.9" cy="320.6" r="2.8" fill="#d9d9d9" stroke="#c7c7c7" stroke-width="0.5"/>
<circle cx="480.2" cy="321.9" r="2.8" fill="#d9d9d9" stroke="#c7c7c7" stroke-width="0.5"/>
<circle cx="549.5" cy="299.7" r="2.8" fill="#d9d9d9" stroke="#c7c7c7" stroke-width="0.5"/>
<circle cx="543.9" cy="304.1" r="2.8" fill="#d9d9d9" stroke="#c7c7c7" stroke-width="0.5"/>
<circle cx="550.5" cy="308.8" r="2.8" fill="#d9d9d9" stroke="#c7c7c7" stroke-width="0.5"/>
<circle cx="507.2" cy="316.2" r="2.8" fill="#d9d9d9" stroke="#c7c7c7" stroke-width="0.5"/>
<circle cx="522.4" cy="309.2" r="2.8" fill="#d9d9d9" stroke="#c7c7c7" stroke-width="0.5"/>
<circle cx="551.5" cy="311.8" r="2.8" fill="#d9d9d9" stroke="#c7c7c7" stroke-width="0.5"/>
<circle cx="469" cy="300.2" r="2.8" fill="#d9d9d9" stroke="#c7c7c7" stroke-width="0.5"/>
<circle cx="525.9" cy="297.5" r="2.8" fill="#d9d9d9" stroke="#c7c7c7" stroke-width="0.5"/>
<circle cx="533.2" cy="318.5" r="2.8" fill="#d9d9d9" stroke="#c7c7c7" stroke-width="0.5"/>
<circle cx="521.3" cy="323.9" r="2.8" fill="#d9d9d9" stroke="#c7c7c7" stroke-width="0.5"/>
<circle cx="552.9" cy="303.3" r="2.8" fill="#d9d9d9" stroke="#c7c7c7" stroke-width="0.5"/>
<circle cx="522.3" cy="326.5" r="2.8" fill="#d9d9d9" stroke="#c7c7c7" stroke-width="0.5"/>
<circle cx="491.2" cy="325" r="2.8" fill="#d9d9d9" stroke="#c7c7c7" stroke-width="0.5"/>
<circle cx="511" cy="320.2" r="2.8" fill="#d9d9d9" stroke="#c7c7c7" stroke-width="0.5"/>
<circle cx="542.1" cy="317" r="2.8" fill="#d9d9d9" stroke="#c7c7c7" stroke-width="0.5"/>
<circle cx="517.5" cy="287.7" r="2.8" fill="#d9d9d9" stroke="#c7c7c7" stroke-width="0.5"/>
<circle cx="531.3" cy="302.9" r="2.8" fill="#d9d9d9" stroke="#c7c7c7" stroke-width="0.5"/>
<circle cx="519" cy="330.4" r="2.8" fill="#d9d9d9" stroke="#c7c7c7" stroke-width="0.5"/>
<circle cx="535.9" cy="330" r="2.8" fill="#d9d9d9" stroke="#c7c7c7" stroke-width="0.5"/>
<circle cx="499.4" cy="324" r="2.8" fill="#d9d9d9" stroke="#c7c7c7" stroke-width="0.5"/>
<circle cx="511.1" cy="325.2" r="2.8" fill="#d9d9d9" stroke="#c7c7c7" stroke-width="0.5"/>
<circle cx="519.2" cy="301.3" r="2.8" fill="#d9d9d9" stroke="#c7c7c7" stroke-width="0.5"/>
<circle cx="508.6" cy="327.3" r="2.8" fill="#d9d9d9" stroke="#c7c7c7" stroke-width="0.5"/>
<circle cx="527.2" cy="314.2" r="2.8" fill="#d9d9d9" stroke="#c7c7c7" stroke-width="0.5"/>
<circle cx="550.2" cy="297.3" r="2.8" fill="#d9d9d9" stroke="#c7c7c7" stroke-width="0.5"/>
<circle cx="476.3" cy="299" r="2.8" fill="#d9d9d9" stroke="#c7c7c7" stroke-width="0.5"/>
<circle cx="514.1" cy="294.1" r="2.8" fill="#d9d9d9" stroke="#c7c7c7" stroke-width="0.5"/>
<circle cx="528.4" cy="327.8" r="2.8" fill="#d9d9d9" stroke="#c7c7c7" stroke-width="0.5"/>
<circle cx="524.2" cy="334.2" r="2.8" fill="#d9d9d9" stroke="#c7c7c7" stroke-width="0.5"/>
<circle cx="483.8" cy="300.5" r="2.8" fill="#d9d9d9" stroke="#c7c7c7" stroke-width="0.5"/>
<circle cx="527.1" cy="306.2" r="2.8" fill="#d9d9d9" stroke="#c7c7c7" stroke-width="0.5"/>
<circle cx="526.1" cy="321.5" r="2.8" fill="#d9d9d9" stroke="#c7c7c7" stroke-width="0.5"/>
<circle cx="495.6" cy="321.2" r="2.8" fill="#d9d9d9" stroke="#c7c7c7" stroke-width="0.5"/>
<circle cx="510.3" cy="298" r="2.8" fill="#d9d9d9" stroke="#c7c7c7" stroke-width="0.5"/>
<circle cx="537.4" cy="295.5" r="2.8" fill="#d9d9d9" stroke="#c7c7c7" stroke-width="0.5"/>
<circle cx="539.4" cy="326.8" r="2.8" fill="#d9d9d9" stroke="#c7c7c7" stroke-width="0.5"/>
<circle cx="475.3" cy="322.7" r="2.8" fill="#d9d9d9" stroke="#c7c7c7" stroke-width="0.5"/>
<circle cx="528.2" cy="291.6" r="2.8" fill="#d9d9d9" stroke="#c7c7c7" stroke-width="0.5"/>
<circle cx="494.2" cy="313" r="2.8" fill="#d9d9d9" stroke="#c7c7c7" stroke-width="0.5"/>
<circle cx="478" cy="319.5" r="2.8" fill="#d9d9d9" stroke="#c7c7c7" stroke-width="0.5"/>
<circle cx="465" cy="313.5" r="2.8" fill="#d9d9d9" stroke="#c7c7c7" stroke-width="0.5"/>
<circle cx="490.3" cy="288.1" r="2.8" fill="#d9d9d9" stroke="#c7c7c7" stroke-width="0.5"/>
<circle cx="482.5" cy="306.1" r="2.8" fill="#d9d9d9" stroke="#c7c7c7" stroke-width="0.5"/>
<circle cx="482.8" cy="309.6" r="2.8" fill="#d9d9d9" stroke="#c7c7c7" stroke-width="0.5"/>
<circle cx="547.3" cy="306.6" r="2.8" fill="#d9d9d9" stroke="#c7c7c7" stroke-width="0.5"/>
<circle cx="510.9" cy="309.5" r="2.8" fill="#d9d9d9" stroke="#c7c7c7" stroke-width="0.5"/>
<circle cx="503.8" cy="297.8" r="2.8" fill="#d9d9d9" stroke="#c7c7c7" stroke-width="0.5"/>
<circle cx="472.5" cy="325.5" r="2.8" fill="#d9d9d9" stroke="#c7c7c7" stroke-width="0.5"/>
<circle cx="507.7" cy="310.7" r="2.8" fill="#d9d9d9" stroke="#c7c7c7" stroke-width="0.5"/>
<circle cx="504.1" cy="314.6" r="2.8" fill="#d9d9d9" stroke="#c7c7c7" stroke-width="0.5"/>
<circle cx="484.3" cy="326.6" r="2.8" fill="#d9d9d9" stroke="#c7c7c7" stroke-width="0.5"/>
<circle cx="535.8" cy="311.7" r="2.8" fill="#d9d9d9" stroke="#c7c7c7" stroke-width="0.5"/>
<circle cx="532.4" cy="310.3" r="2.8" fill="#d9d9d9" stroke="#c7c7c7" stroke-width="0.5"/>
<circle cx="497" cy="291" r="2.8" fill="#d9d9d9" stroke="#c7c7c7" stroke-width="0.5"/>
<circle cx="500.7" cy="305.6" r="2.8" fill="#d9d9d9" stroke="#c7c7c7" stroke-width="0.5"/>
<circle cx="473.8" cy="314.4" r="2.8" fill="#d9d9d9" stroke="#c7c7c7" stroke-width="0.5"/>
<circle cx="494.6" cy="289.1" r="2.8" fill="#d9d9d9" stroke="#c7c7c7" stroke-width="0.5"/>
<circle cx="489.6" cy="302.8" r="2.8" fill="#d9d9d9" stroke="#c7c7c7" stroke-width="0.5"/>
<circle cx="537.9" cy="314.4" r="2.8" fill="#d9d9d9" stroke="#c7c7c7" stroke-width="0.5"/>
<circle cx="490.6" cy="295" r="2.8" fill="#d9d9d9" stroke="#c7c7c7" stroke-width="0.5"/>
<circle cx="516.9" cy="312.9" r="2.8" fill="#d9d9d9" stroke="#c7c7c7" stroke-width="0.5"/>
<circle cx="505.7" cy="326.6" r="2.8" fill="#d9d9d9" stroke="#c7c7c7" stroke-width="0.5"/>
<circle cx="483.6" cy="317.2" r="2.8" fill="#d9d9d9" stroke="#c7c7c7" stroke-width="0.5"/>
<circle cx="468.8" cy="308" r="2.8" fill="#d9d9d9" stroke="#c7c7c7" stroke-width="0.5"/>
<circle cx="528.3" cy="303.4" r="2.8" fill="#d9d9d9" stroke="#c7c7c7" stroke-width="0.5"/>
<circle cx="496.4" cy="328.6" r="2.8" fill="#d9d9d9" stroke="#c7c7c7" stroke-width="0.5"/>
<circle cx="530.5" cy="288.2" r="2.8" fill="#d9d9d9" stroke="#c7c7c7" stroke-width="0.5"/>
<circle cx="469.9" cy="323.9" r="2.8" fill="#d9d9d9" stroke="#c7c7c7" stroke-width="0.5"/>
<circle cx="487.7" cy="314.8" r="2.8" fill="#d9d9d9" stroke="#c7c7c7" stroke-width="0.5"/>
<circle cx="518.3" cy="294.3" r="2.8" fill="#d9d9d9" stroke="#c7c7c7" stroke-width="0.5"/>
<circle cx="521.4" cy="305.5" r="2.8" fill="#d9d9d9" stroke="#c7c7c7" stroke-width="0.5"/>
<circle cx="505.9" cy="304.7" r="2.8" fill="#d9d9d9" stroke="#c7c7c7" stroke-width="0.5"/>
<circle cx="535.5" cy="306" r="2.8" fill="#d9d9d9" stroke="#c7c7c7" stroke-width="0.5"/>
<circle cx="491.2" cy="313.2" r="2.8" fill="#d9d9d9" stroke="#c7c7c7" stroke-width="0.5"/>
<circle cx="506.1" cy="293.6" r="2.8" fill="#d9d9d9" stroke="#c7c7c7" stroke-width="0.5"/>
<circle cx="467.2" cy="312" r="2.8" fill="#d9d9d9" stroke="#c7c7c7" stroke-width="0.5"/>
<circle cx="478.8" cy="324.9" r="2.8" fill="#d9d9d9" stroke="#c7c7c7" stroke-width="0.5"/>
<circle cx="496.6" cy="324.4" r="2.8" fill="#d9d9d9" stroke="#c7c7c7" stroke-width="0.5"/>
<circle cx="497.1" cy="316.6" r="2.8" fill="#d9d9d9" stroke="#c7c7c7" stroke-width="0.5"/>
<circle cx="549.4" cy="285.3" r="2.8" fill="#d9d9d9" stroke="#c7c7c7" stroke-width="0.5"/>
<circle cx="556" cy="293.3" r="2.8" fill="#d9d9d9" stroke="#c7c7c7" stroke-width="0.5"/>
<circle cx="529.6" cy="336" r="2.8" fill="#d9d9d9" stroke="#c7c7c7" stroke-width="0.5"/>
<circle cx="452.2" cy="320.5" r="2.8" fill="#d9d9d9" stroke="#c7c7c7" stroke-width="0.5"/>
<circle cx="456.7" cy="327.1" r="2.8" fill="#d9d9d9" stroke="#c7c7c7" stroke-width="0.5"/>
<circle cx="469.4" cy="327.8" r="2.8" fill="#d9d9d9" stroke="#c7c7c7" stroke-width="0.5"/>
<circle cx="460.2" cy="314.5" r="2.8" fill="#d9d9d9" stroke="#c7c7c7" stroke-width="0.5"/>
<circle cx="462.2" cy="309.4" r="2.8" fill="#d9d9d9" stroke="#c7c7c7" stroke-width="0.5"/>
<circle cx="457" cy="300" r="2.8" fill="#d9d9d9" stroke="#c7c7c7" stroke-width="0.5"/>
<circle cx="450" cy="300" r="2.8" fill="#d9d9d9" stroke="#c7c7c7" stroke-width="0.5"/>
<circle cx="462" cy="283" r="2.8" fill="#d9d9d9" stroke="#c7c7c7" stroke-width="0.5"/>
<circle cx="455" cy="290" r="2.8" fill="#d9d9d9" stroke="#c7c7c7" stroke-width="0.5"/>
<circle cx="447" cy="286" r="2.8" fill="#d9d9d9" stroke="#c7c7c7" stroke-width="0.5"/>
<circle cx="452" cy="279" r="2.8" fill="#d9d9d9" stroke="#c7c7c7" stroke-width="0.5"/>
<circle cx="466" cy="296" r="2.8" fill="#d9d9d9" stroke="#c7c7c7" stroke-width="0.5"/>
<circle cx="471.4" cy="282.8" r="2.7" fill="#fff" stroke="#b4b4b4" stroke-width="0.5"/>
<circle cx="518.1" cy="302.9" r="2.7" fill="#fff" stroke="#b4b4b4" stroke-width="0.5"/>
<circle cx="474.6" cy="304.2" r="2.7" fill="#fff" stroke="#b4b4b4" stroke-width="0.5"/>
<circle cx="484.1" cy="308.9" r="2.7" fill="#fff" stroke="#b4b4b4" stroke-width="0.5"/>
<circle cx="456" cy="281.2" r="2.7" fill="#fff" stroke="#b4b4b4" stroke-width="0.5"/>
<circle cx="535" cy="287.9" r="2.7" fill="#fff" stroke="#b4b4b4" stroke-width="0.5"/>
<circle cx="507.8" cy="277.5" r="2.7" fill="#fff" stroke="#b4b4b4" stroke-width="0.5"/>
<circle cx="499.7" cy="303.2" r="2.7" fill="#fff" stroke="#b4b4b4" stroke-width="0.5"/>
<circle cx="460.7" cy="302.6" r="2.7" fill="#fff" stroke="#b4b4b4" stroke-width="0.5"/>
<circle cx="456.4" cy="286.9" r="2.7" fill="#fff" stroke="#b4b4b4" stroke-width="0.5"/>
<circle cx="505.4" cy="313.6" r="2.7" fill="#fff" stroke="#b4b4b4" stroke-width="0.5"/>
<circle cx="462.3" cy="274.7" r="2.7" fill="#fff" stroke="#b4b4b4" stroke-width="0.5"/>
<circle cx="532.4" cy="295.7" r="2.7" fill="#fff" stroke="#b4b4b4" stroke-width="0.5"/>
<circle cx="463.6" cy="292.6" r="2.7" fill="#fff" stroke="#b4b4b4" stroke-width="0.5"/>
<circle cx="494.5" cy="275.1" r="2.7" fill="#fff" stroke="#b4b4b4" stroke-width="0.5"/>
<circle cx="472.3" cy="271.4" r="2.7" fill="#fff" stroke="#b4b4b4" stroke-width="0.5"/>
<circle cx="492.5" cy="304.3" r="2.7" fill="#fff" stroke="#b4b4b4" stroke-width="0.5"/>
<circle cx="498" cy="292.8" r="2.7" fill="#fff" stroke="#b4b4b4" stroke-width="0.5"/>
<circle cx="493" cy="291.9" r="2.7" fill="#fff" stroke="#b4b4b4" stroke-width="0.5"/>
<circle cx="491.9" cy="281.8" r="2.7" fill="#fff" stroke="#b4b4b4" stroke-width="0.5"/>
<circle cx="531.4" cy="317" r="2.7" fill="#fff" stroke="#b4b4b4" stroke-width="0.5"/>
<circle cx="515.1" cy="298.6" r="2.7" fill="#fff" stroke="#b4b4b4" stroke-width="0.5"/>
<circle cx="539.3" cy="291.2" r="2.7" fill="#fff" stroke="#b4b4b4" stroke-width="0.5"/>
<circle cx="479.1" cy="298.5" r="2.7" fill="#fff" stroke="#b4b4b4" stroke-width="0.5"/>
<circle cx="474.5" cy="279.4" r="2.7" fill="#fff" stroke="#b4b4b4" stroke-width="0.5"/>
<circle cx="507.5" cy="293.5" r="2.7" fill="#fff" stroke="#b4b4b4" stroke-width="0.5"/>
<circle cx="469.9" cy="289.4" r="2.7" fill="#fff" stroke="#b4b4b4" stroke-width="0.5"/>
<circle cx="447.5" cy="285.6" r="2.7" fill="#fff" stroke="#b4b4b4" stroke-width="0.5"/>
<circle cx="543.3" cy="299.3" r="2.7" fill="#fff" stroke="#b4b4b4" stroke-width="0.5"/>
<circle cx="480.2" cy="282.6" r="2.7" fill="#fff" stroke="#b4b4b4" stroke-width="0.5"/>
<circle cx="464.1" cy="281.5" r="2.7" fill="#fff" stroke="#b4b4b4" stroke-width="0.5"/>
<circle cx="532.2" cy="283.2" r="2.7" fill="#fff" stroke="#b4b4b4" stroke-width="0.5"/>
<circle cx="469.1" cy="300.2" r="2.7" fill="#fff" stroke="#b4b4b4" stroke-width="0.5"/>
<circle cx="520.9" cy="288.4" r="2.7" fill="#fff" stroke="#b4b4b4" stroke-width="0.5"/>
<circle cx="539.2" cy="307.9" r="2.7" fill="#fff" stroke="#b4b4b4" stroke-width="0.5"/>
<circle cx="495.3" cy="312.1" r="2.7" fill="#fff" stroke="#b4b4b4" stroke-width="0.5"/>
<circle cx="481" cy="289.2" r="2.7" fill="#fff" stroke="#b4b4b4" stroke-width="0.5"/>
<circle cx="536.4" cy="300.6" r="2.7" fill="#fff" stroke="#b4b4b4" stroke-width="0.5"/>
<circle cx="491.4" cy="287" r="2.7" fill="#fff" stroke="#b4b4b4" stroke-width="0.5"/>
<circle cx="489.2" cy="297.2" r="2.7" fill="#fff" stroke="#b4b4b4" stroke-width="0.5"/>
<circle cx="486.9" cy="276.4" r="2.7" fill="#fff" stroke="#b4b4b4" stroke-width="0.5"/>
<circle cx="466.5" cy="277.3" r="2.7" fill="#fff" stroke="#b4b4b4" stroke-width="0.5"/>
<circle cx="511.5" cy="281.1" r="2.7" fill="#fff" stroke="#b4b4b4" stroke-width="0.5"/>
<circle cx="509.3" cy="302.8" r="2.7" fill="#fff" stroke="#b4b4b4" stroke-width="0.5"/>
<circle cx="510.3" cy="297.9" r="2.7" fill="#fff" stroke="#b4b4b4" stroke-width="0.5"/>
<circle cx="448.7" cy="290.3" r="2.7" fill="#fff" stroke="#b4b4b4" stroke-width="0.5"/>
<circle cx="494.9" cy="327" r="2.7" fill="#fff" stroke="#b4b4b4" stroke-width="0.5"/>
<circle cx="453" cy="262" r="2.7" fill="#fff" stroke="#b4b4b4" stroke-width="0.5"/>
<line x1="482.8" y1="235.4" x2="527.5" y2="292.7" stroke="#111" stroke-width="1.5" stroke-dasharray="3.6 1.7"/>
<path d="M480.3 232.2L485.1 235.1L481.9 237.5Z" fill="#000"/>
<line x1="499.6" y1="235.2" x2="538" y2="299.6" stroke="#111" stroke-width="1.5" stroke-dasharray="3.6 1.7"/>
<path d="M497.6 231.8L502 235.2L498.5 237.3Z" fill="#000"/>
<rect x="439.2" y="260.1" width="43.4" height="41.1" fill="none" stroke="#222" stroke-width="0.7"/>
<line x1="437.9" y1="304.1" x2="423.9" y2="319.3" stroke="#222" stroke-width="0.5"/>
<line x1="534" y1="240.4" x2="514.9" y2="256.7" stroke="#222" stroke-width="0.5"/>
<path d="M453.9 255.9V273.9M452.5 255.9H455.3M452.5 273.9H455.3" stroke="#6e6e6e" stroke-width="0.6" fill="none"/>
<path d="M444.4 267.3V285.3M443 267.3H445.8M443 285.3H445.8" stroke="#6e6e6e" stroke-width="0.6" fill="none"/>
<path d="M458.3 266.4V284.4M456.9 266.4H459.7M456.9 284.4H459.7" stroke="#6e6e6e" stroke-width="0.6" fill="none"/>
<path d="M460.8 265.4V283.4M459.4 265.4H462.2M459.4 283.4H462.2" stroke="#6e6e6e" stroke-width="0.6" fill="none"/>
<path d="M478 257.8V275.8M476.6 257.8H479.4M476.6 275.8H479.4" stroke="#6e6e6e" stroke-width="0.6" fill="none"/>
<path d="M473.6 297V315M472.2 297H475M472.2 315H475" stroke="#6e6e6e" stroke-width="0.6" fill="none"/>
<path d="M453.9 260.6L458.2 264.9L453.9 269.2L449.6 264.9Z" fill="#ffc000" stroke="#1a1a1a" stroke-width="0.5"/>
<path d="M444.4 272L448.7 276.3L444.4 280.6L440.1 276.3Z" fill="#ffc000" stroke="#1a1a1a" stroke-width="0.5"/>
<path d="M458.3 271.1L462.6 275.4L458.3 279.7L454 275.4Z" fill="#ffc000" stroke="#1a1a1a" stroke-width="0.5"/>
<path d="M460.8 270.1L465.1 274.4L460.8 278.7L456.5 274.4Z" fill="#ffc000" stroke="#1a1a1a" stroke-width="0.5"/>
<path d="M478 262.5L482.3 266.8L478 271.1L473.7 266.8Z" fill="#ffc000" stroke="#1a1a1a" stroke-width="0.5"/>
<path d="M473.6 301.7L477.9 306L473.6 310.3L469.3 306Z" fill="#ffc000" stroke="#1a1a1a" stroke-width="0.5"/>
<path d="M435.4 280.1V298.1M434 280.1H436.8M434 298.1H436.8" stroke="#6e6e6e" stroke-width="0.6" fill="none"/>
<path d="M475.1 267.9V285.9M473.7 267.9H476.5M473.7 285.9H476.5" stroke="#6e6e6e" stroke-width="0.6" fill="none"/>
<path d="M476.5 272.1V290.1M475.1 272.1H477.9M475.1 290.1H477.9" stroke="#6e6e6e" stroke-width="0.6" fill="none"/>
<path d="M504.8 269.2V287.2M503.4 269.2H506.2M503.4 287.2H506.2" stroke="#6e6e6e" stroke-width="0.6" fill="none"/>
<path d="M504.8 303.7V321.7M503.4 303.7H506.2M503.4 321.7H506.2" stroke="#6e6e6e" stroke-width="0.6" fill="none"/>
<path d="M504.2 286.4V304.4M502.8 286.4H505.6M502.8 304.4H505.6" stroke="#6e6e6e" stroke-width="0.6" fill="none"/>
<circle cx="435.4" cy="289.1" r="4.05" fill="#c00000" stroke="#1a1a1a" stroke-width="0.5"/>
<circle cx="475.1" cy="276.9" r="4.05" fill="#c00000" stroke="#1a1a1a" stroke-width="0.5"/>
<circle cx="476.5" cy="281.1" r="4.05" fill="#c00000" stroke="#1a1a1a" stroke-width="0.5"/>
<circle cx="504.8" cy="278.2" r="4.05" fill="#c00000" stroke="#1a1a1a" stroke-width="0.5"/>
<circle cx="504.8" cy="312.7" r="4.05" fill="#c00000" stroke="#1a1a1a" stroke-width="0.5"/>
<circle cx="504.2" cy="295.4" r="4.05" fill="#c00000" stroke="#1a1a1a" stroke-width="0.5"/>
<path d="M466.5 282.6V300.6M465.1 282.6H467.9M465.1 300.6H467.9" stroke="#6e6e6e" stroke-width="0.6" fill="none"/>
<path d="M470.7 280.3V298.3M469.3 280.3H472.1M469.3 298.3H472.1" stroke="#6e6e6e" stroke-width="0.6" fill="none"/>
<path d="M479.9 278.4V296.4M478.5 278.4H481.3M478.5 296.4H481.3" stroke="#6e6e6e" stroke-width="0.6" fill="none"/>
<path d="M476.5 282.2V300.2M475.1 282.2H477.9M475.1 300.2H477.9" stroke="#6e6e6e" stroke-width="0.6" fill="none"/>
<path d="M480.7 286.4V304.4M479.3 286.4H482.1M479.3 304.4H482.1" stroke="#6e6e6e" stroke-width="0.6" fill="none"/>
<path d="M527.7 292.6V310.6M526.3 292.6H529.1M526.3 310.6H529.1" stroke="#6e6e6e" stroke-width="0.6" fill="none"/>
<path d="M528.3 301.5V319.5M526.9 301.5H529.7M526.9 319.5H529.7" stroke="#6e6e6e" stroke-width="0.6" fill="none"/>
<circle cx="466.5" cy="291.6" r="4.05" fill="#ffc000" stroke="#1a1a1a" stroke-width="0.5"/>
<circle cx="470.7" cy="289.3" r="4.05" fill="#ffc000" stroke="#1a1a1a" stroke-width="0.5"/>
<circle cx="479.9" cy="287.4" r="4.05" fill="#ffc000" stroke="#1a1a1a" stroke-width="0.5"/>
<circle cx="476.5" cy="291.2" r="4.05" fill="#ffc000" stroke="#1a1a1a" stroke-width="0.5"/>
<circle cx="480.7" cy="295.4" r="4.05" fill="#ffc000" stroke="#1a1a1a" stroke-width="0.5"/>
<circle cx="527.7" cy="301.6" r="4.05" fill="#ffc000" stroke="#1a1a1a" stroke-width="0.5"/>
<circle cx="528.3" cy="310.5" r="4.05" fill="#ffc000" stroke="#1a1a1a" stroke-width="0.5"/>
<path d="M492.4 279.2V297.2M491 279.2H493.8M491 297.2H493.8" stroke="#6e6e6e" stroke-width="0.6" fill="none"/>
<path d="M486.4 290.3V308.3M485 290.3H487.8M485 308.3H487.8" stroke="#6e6e6e" stroke-width="0.6" fill="none"/>
<path d="M488.3 298.9V316.9M486.9 298.9H489.7M486.9 316.9H489.7" stroke="#6e6e6e" stroke-width="0.6" fill="none"/>
<path d="M492.4 304.6V322.6M491 304.6H493.8M491 322.6H493.8" stroke="#6e6e6e" stroke-width="0.6" fill="none"/>
<path d="M492.4 283.5L496.3 291.7L488.5 291.7Z" fill="#0b6fc2" stroke="#1a1a1a" stroke-width="0.5"/>
<path d="M486.4 294.6L490.3 302.8L482.5 302.8Z" fill="#0b6fc2" stroke="#1a1a1a" stroke-width="0.5"/>
<path d="M488.3 303.2L492.2 311.4L484.4 311.4Z" fill="#0b6fc2" stroke="#1a1a1a" stroke-width="0.5"/>
<path d="M492.4 308.9L496.3 317.1L488.5 317.1Z" fill="#0b6fc2" stroke="#1a1a1a" stroke-width="0.5"/>
<path d="M520.1 273.4V291.4M518.7 273.4H521.5M518.7 291.4H521.5" stroke="#6e6e6e" stroke-width="0.6" fill="none"/>
<path d="M499.8 282.6V300.6M498.4 282.6H501.2M498.4 300.6H501.2" stroke="#6e6e6e" stroke-width="0.6" fill="none"/>
<path d="M504.8 281.1V299.1M503.4 281.1H506.2M503.4 299.1H506.2" stroke="#6e6e6e" stroke-width="0.6" fill="none"/>
<path d="M509 283V301M507.6 283H510.4M507.6 301H510.4" stroke="#6e6e6e" stroke-width="0.6" fill="none"/>
<path d="M496.6 286.4V304.4M495.2 286.4H498M495.2 304.4H498" stroke="#6e6e6e" stroke-width="0.6" fill="none"/>
<path d="M507.1 287.4V305.4M505.7 287.4H508.5M505.7 305.4H508.5" stroke="#6e6e6e" stroke-width="0.6" fill="none"/>
<path d="M510.9 289.3V307.3M509.5 289.3H512.3M509.5 307.3H512.3" stroke="#6e6e6e" stroke-width="0.6" fill="none"/>
<path d="M506.7 290.7V308.7M505.3 290.7H508.1M505.3 308.7H508.1" stroke="#6e6e6e" stroke-width="0.6" fill="none"/>
<path d="M495 292.6V310.6M493.6 292.6H496.4M493.6 310.6H496.4" stroke="#6e6e6e" stroke-width="0.6" fill="none"/>
<path d="M502.3 297.5V315.5M500.9 297.5H503.7M500.9 315.5H503.7" stroke="#6e6e6e" stroke-width="0.6" fill="none"/>
<path d="M507.1 296V314M505.7 296H508.5M505.7 314H508.5" stroke="#6e6e6e" stroke-width="0.6" fill="none"/>
<path d="M524.9 283.9V301.9M523.5 283.9H526.3M523.5 301.9H526.3" stroke="#6e6e6e" stroke-width="0.6" fill="none"/>
<path d="M522.6 288.7V306.7M521.2 288.7H524M521.2 306.7H524" stroke="#6e6e6e" stroke-width="0.6" fill="none"/>
<path d="M528.7 300.2V318.2M527.3 300.2H530.1M527.3 318.2H530.1" stroke="#6e6e6e" stroke-width="0.6" fill="none"/>
<path d="M520.1 278L524.5 282.4L520.1 286.8L515.7 282.4Z" fill="#0b6fc2" stroke="#1a1a1a" stroke-width="0.5"/>
<path d="M499.8 287.2L504.2 291.6L499.8 296L495.4 291.6Z" fill="#0b6fc2" stroke="#1a1a1a" stroke-width="0.5"/>
<path d="M504.8 285.7L509.2 290.1L504.8 294.5L500.4 290.1Z" fill="#0b6fc2" stroke="#1a1a1a" stroke-width="0.5"/>
<path d="M509 287.6L513.4 292L509 296.4L504.6 292Z" fill="#0b6fc2" stroke="#1a1a1a" stroke-width="0.5"/>
<path d="M496.6 291L501 295.4L496.6 299.8L492.2 295.4Z" fill="#0b6fc2" stroke="#1a1a1a" stroke-width="0.5"/>
<path d="M507.1 292L511.5 296.4L507.1 300.8L502.7 296.4Z" fill="#0b6fc2" stroke="#1a1a1a" stroke-width="0.5"/>
<path d="M510.9 293.9L515.3 298.3L510.9 302.7L506.5 298.3Z" fill="#0b6fc2" stroke="#1a1a1a" stroke-width="0.5"/>
<path d="M506.7 295.3L511.1 299.7L506.7 304.1L502.3 299.7Z" fill="#0b6fc2" stroke="#1a1a1a" stroke-width="0.5"/>
<path d="M495 297.2L499.4 301.6L495 306L490.6 301.6Z" fill="#0b6fc2" stroke="#1a1a1a" stroke-width="0.5"/>
<path d="M502.3 302.1L506.7 306.5L502.3 310.9L497.9 306.5Z" fill="#0b6fc2" stroke="#1a1a1a" stroke-width="0.5"/>
<path d="M507.1 300.6L511.5 305L507.1 309.4L502.7 305Z" fill="#0b6fc2" stroke="#1a1a1a" stroke-width="0.5"/>
<path d="M524.9 288.5L529.3 292.9L524.9 297.3L520.5 292.9Z" fill="#0b6fc2" stroke="#1a1a1a" stroke-width="0.5"/>
<path d="M522.6 293.3L527 297.7L522.6 302.1L518.2 297.7Z" fill="#0b6fc2" stroke="#1a1a1a" stroke-width="0.5"/>
<path d="M528.7 304.8L533.1 309.2L528.7 313.6L524.3 309.2Z" fill="#0b6fc2" stroke="#1a1a1a" stroke-width="0.5"/>
<path d="M564 295V313M562.6 295H565.4M562.6 313H565.4" stroke="#6e6e6e" stroke-width="0.6" fill="none"/>
<path d="M566 297.3V315.3M564.6 297.3H567.4M564.6 315.3H567.4" stroke="#6e6e6e" stroke-width="0.6" fill="none"/>
<path d="M576.5 295.4V313.4M575.1 295.4H577.9M575.1 313.4H577.9" stroke="#6e6e6e" stroke-width="0.6" fill="none"/>
<path d="M586.4 296V314M585 296H587.8M585 314H587.8" stroke="#6e6e6e" stroke-width="0.6" fill="none"/>
<path d="M585.1 302.1V320.1M583.7 302.1H586.5M583.7 320.1H586.5" stroke="#6e6e6e" stroke-width="0.6" fill="none"/>
<path d="M581.3 305.9V323.9M579.9 305.9H582.7M579.9 323.9H582.7" stroke="#6e6e6e" stroke-width="0.6" fill="none"/>
<path d="M552.6 303.1V321.1M551.2 303.1H554M551.2 321.1H554" stroke="#6e6e6e" stroke-width="0.6" fill="none"/>
<path d="M554.5 304.6V322.6M553.1 304.6H555.9M553.1 322.6H555.9" stroke="#6e6e6e" stroke-width="0.6" fill="none"/>
<path d="M562.1 303.4V321.4M560.7 303.4H563.5M560.7 321.4H563.5" stroke="#6e6e6e" stroke-width="0.6" fill="none"/>
<path d="M549.3 309.8V327.8M547.9 309.8H550.7M547.9 327.8H550.7" stroke="#6e6e6e" stroke-width="0.6" fill="none"/>
<path d="M551.2 311.7V329.7M549.8 311.7H552.6M549.8 329.7H552.6" stroke="#6e6e6e" stroke-width="0.6" fill="none"/>
<path d="M555.4 309.8V327.8M554 309.8H556.8M554 327.8H556.8" stroke="#6e6e6e" stroke-width="0.6" fill="none"/>
<path d="M569.2 309.8V327.8M567.8 309.8H570.6M567.8 327.8H570.6" stroke="#6e6e6e" stroke-width="0.6" fill="none"/>
<path d="M563.1 314.9V332.9M561.7 314.9H564.5M561.7 332.9H564.5" stroke="#6e6e6e" stroke-width="0.6" fill="none"/>
<circle cx="564" cy="304" r="4.05" fill="#0b6fc2" stroke="#1a1a1a" stroke-width="0.5"/>
<circle cx="566" cy="306.3" r="4.05" fill="#0b6fc2" stroke="#1a1a1a" stroke-width="0.5"/>
<circle cx="576.5" cy="304.4" r="4.05" fill="#0b6fc2" stroke="#1a1a1a" stroke-width="0.5"/>
<circle cx="586.4" cy="305" r="4.05" fill="#0b6fc2" stroke="#1a1a1a" stroke-width="0.5"/>
<circle cx="585.1" cy="311.1" r="4.05" fill="#0b6fc2" stroke="#1a1a1a" stroke-width="0.5"/>
<circle cx="581.3" cy="314.9" r="4.05" fill="#0b6fc2" stroke="#1a1a1a" stroke-width="0.5"/>
<circle cx="552.6" cy="312.1" r="4.05" fill="#0b6fc2" stroke="#1a1a1a" stroke-width="0.5"/>
<circle cx="554.5" cy="313.6" r="4.05" fill="#0b6fc2" stroke="#1a1a1a" stroke-width="0.5"/>
<circle cx="562.1" cy="312.4" r="4.05" fill="#0b6fc2" stroke="#1a1a1a" stroke-width="0.5"/>
<circle cx="549.3" cy="318.8" r="4.05" fill="#0b6fc2" stroke="#1a1a1a" stroke-width="0.5"/>
<circle cx="551.2" cy="320.7" r="4.05" fill="#0b6fc2" stroke="#1a1a1a" stroke-width="0.5"/>
<circle cx="555.4" cy="318.8" r="4.05" fill="#0b6fc2" stroke="#1a1a1a" stroke-width="0.5"/>
<circle cx="569.2" cy="318.8" r="4.05" fill="#0b6fc2" stroke="#1a1a1a" stroke-width="0.5"/>
<circle cx="563.1" cy="323.9" r="4.05" fill="#0b6fc2" stroke="#1a1a1a" stroke-width="0.5"/>
<rect x="567.9" y="299.6" width="9.6" height="9.6" fill="#000"/>
<path d="M567.9 304.4H577.5M572.7 299.6V309.2" stroke="#e8e8e8" stroke-width="1.1"/>
<text x="575.8" y="227.6" font-size="10" text-anchor="middle" font-weight="normal" fill="#111">Trajectory of Se</text>
<text x="575.2" y="239.5" font-size="10" text-anchor="middle" font-weight="normal" fill="#111">incompatibility</text>
<text x="415" y="330.7" font-size="10" text-anchor="middle" font-weight="normal" fill="#111">No evidence for</text>
<text x="415.5" y="342.8" font-size="10" text-anchor="middle" font-weight="normal" fill="#111">Se degassing</text>
<text x="565" y="377" font-size="10" text-anchor="start" font-weight="normal" fill="#111">Plagioclase</text>
<text x="591.4" y="388.9" font-size="10" text-anchor="middle" font-weight="normal" fill="#111">in</text>
<path d="M561.3 375.4C557.2 379.5 553.2 379 550.2 376.5C547.2 374 544.2 375.5 541.7 377.2" fill="none" stroke="#111" stroke-width="0.7"/>
<path d="M539.2 378.6L541.7 375.3L543.3 378.2Z" fill="#000"/>
<text x="636.4" y="396.3" font-size="11.5" text-anchor="start" font-weight="normal" fill="#111">0.00</text>
<text x="636.4" y="335.6" font-size="11.5" text-anchor="start" font-weight="normal" fill="#111">0.20</text>
<text x="636.4" y="274.9" font-size="11.5" text-anchor="start" font-weight="normal" fill="#111">0.40</text>
<text x="636.4" y="214.2" font-size="11.5" text-anchor="start" font-weight="normal" fill="#111">0.60</text>
<path d="M351 210.4H627.7V392.5H351ZM351 388.5V396.5M378.7 389.5V395.5M406.4 388.5V396.5M434 389.5V395.5M461.7 388.5V396.5M489.4 389.5V395.5M517.1 388.5V396.5M544.8 389.5V395.5M572.4 388.5V396.5M600.1 389.5V395.5M627.8 388.5V396.5M623.7 392.5H631.7M627.7 377.3H624.1M627.7 362.1H624.1M627.7 347H624.1M623.7 331.8H631.7M627.7 316.6H624.1M627.7 301.4H624.1M627.7 286.3H624.1M623.7 271.1H631.7M627.7 255.9H624.1M627.7 240.8H624.1M627.7 225.6H624.1M623.7 210.4H631.7" fill="none" stroke="#1a1a1a" stroke-width="0.8"/>
<text x="351" y="409.7" font-size="11.5" text-anchor="middle" font-weight="normal" fill="#111">2</text>
<text x="406.4" y="409.7" font-size="11.5" text-anchor="middle" font-weight="normal" fill="#111">4</text>
<text x="461.7" y="409.7" font-size="11.5" text-anchor="middle" font-weight="normal" fill="#111">6</text>
<text x="517.1" y="409.7" font-size="11.5" text-anchor="middle" font-weight="normal" fill="#111">8</text>
<text x="572.4" y="409.7" font-size="11.5" text-anchor="middle" font-weight="normal" fill="#111">10</text>
<text x="627.8" y="409.7" font-size="11.5" text-anchor="middle" font-weight="normal" fill="#111">12</text>
<text x="489.4" y="425.7" font-size="11.5" text-anchor="middle" font-weight="normal" fill="#111">MgO (wt. %)</text>
<path d="M351 366.5H377.3V392.5" fill="none" stroke="#1a1a1a" stroke-width="0.8"/>
<text x="363.9" y="384.4" font-size="16" text-anchor="middle" font-weight="bold" fill="#000">d</text>
<text x="675.3" y="302" font-size="11.5" text-anchor="middle" font-weight="normal" fill="#111" transform="rotate(90 675.3 302)">Se (ppm)</text>
</g>
</svg></body></html>
